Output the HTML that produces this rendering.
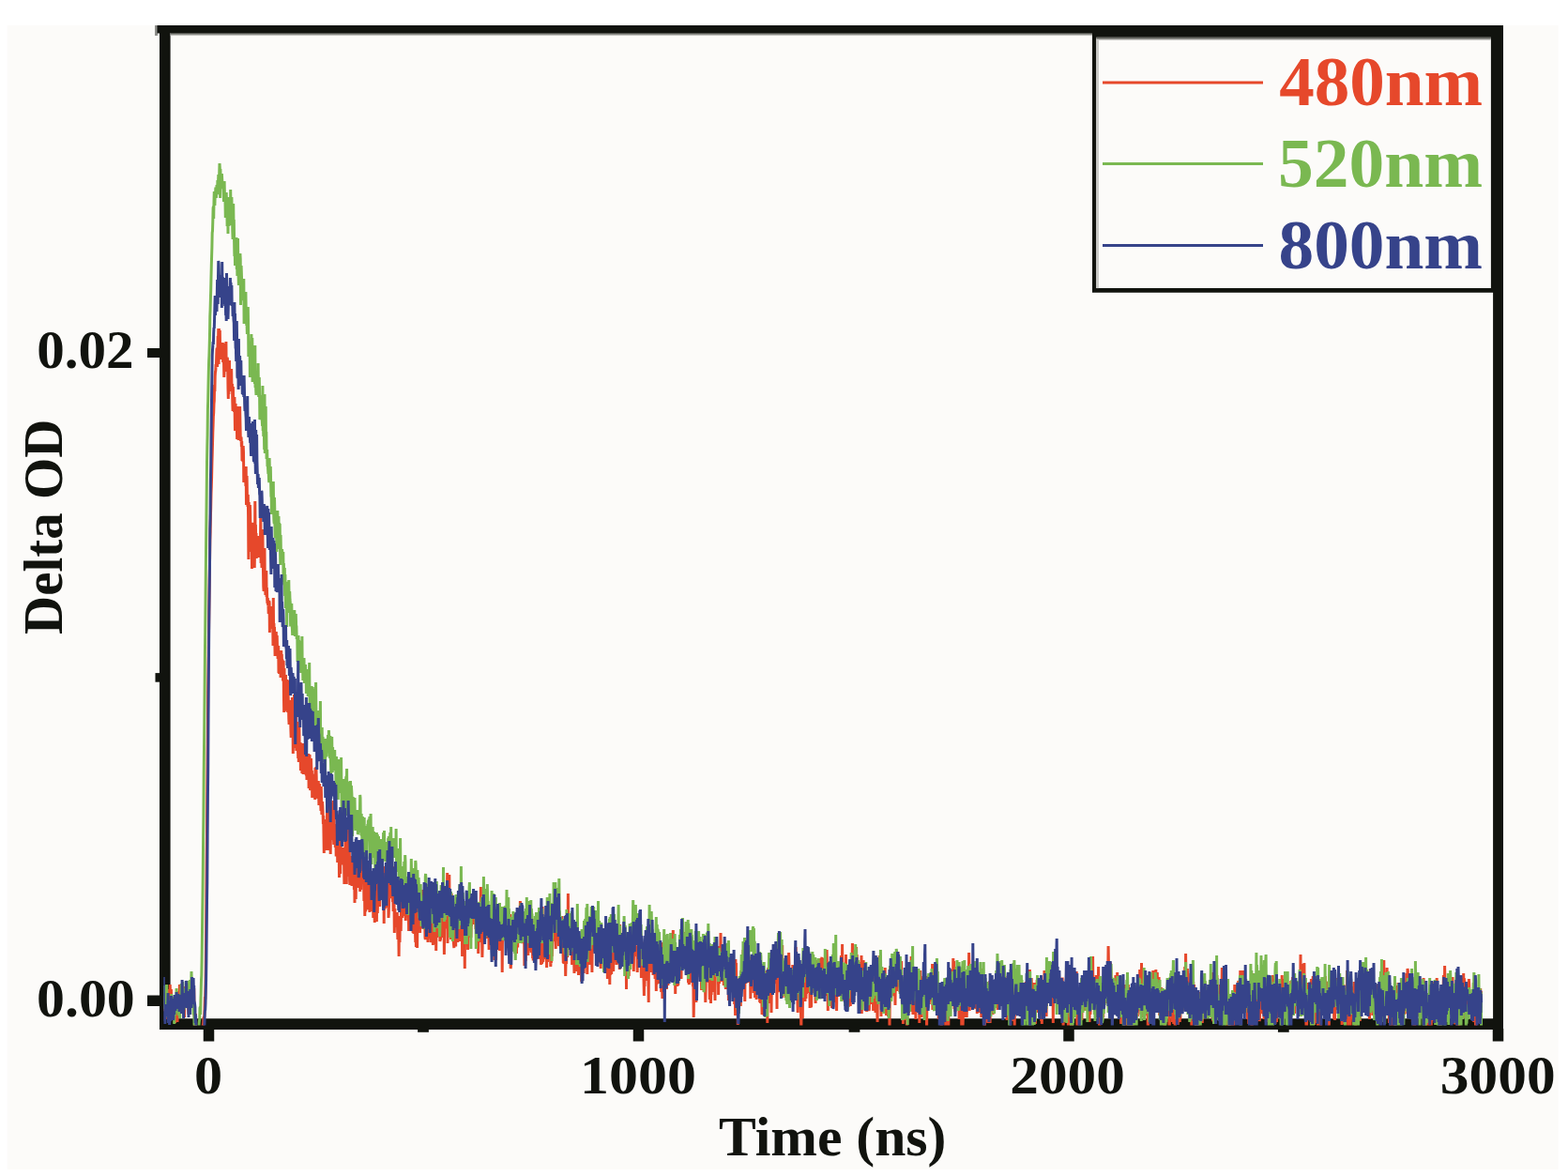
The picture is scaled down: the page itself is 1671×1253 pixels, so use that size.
<!DOCTYPE html><html><head><meta charset="utf-8"><title>Delta OD vs Time</title><style>html,body{margin:0;padding:0;background:#fff;overflow:hidden}svg{display:block}</style></head><body><svg width="1671" height="1253" viewBox="0 0 1671 1253"><rect x="0" y="0" width="1671" height="1253" fill="#ffffff"/><rect x="7.6" y="27" width="1653.1" height="1218.9" fill="#fcfbf9"/><defs><clipPath id="c"><rect x="174.3" y="31" width="1422" height="1061.5"/></clipPath></defs><defs><linearGradient id="sh" x1="0" y1="0" x2="0" y2="1"><stop offset="0" stop-color="#3a3c36"/><stop offset="1" stop-color="#e6e5e2"/></linearGradient></defs><path d="M170,27H1602V1097H170Z M181.6,35V1085.2H1591.1V35Z" fill="#11130e" fill-rule="evenodd"/><rect x="181.6" y="35" width="1409.5" height="3.2" fill="url(#sh)"/><rect x="165" y="27" width="3" height="11" fill="#8d8e8a"/><rect x="167.5" y="27" width="3" height="8.5" fill="#11130e"/><rect x="157" y="371" width="14" height="10" fill="#11130e"/><rect x="157" y="1060.5" width="14" height="11.5" fill="#11130e"/><rect x="165.5" y="717.1" width="5" height="9.6" fill="#11130e"/><rect x="216.75" y="1096" width="11.5" height="13.5" fill="#11130e"/><rect x="674.75" y="1096" width="11.5" height="13.5" fill="#11130e"/><rect x="1133.25" y="1096" width="11.5" height="13.5" fill="#11130e"/><rect x="1590.75" y="1096" width="11.5" height="13.5" fill="#11130e"/><rect x="445.10" y="1096" width="11.8" height="3.8" fill="#11130e"/><rect x="904.60" y="1096" width="11.8" height="3.8" fill="#11130e"/><rect x="1361.90" y="1096" width="11.8" height="3.8" fill="#11130e"/><g clip-path="url(#c)"><polyline points="174.0,1064 174.3,1077 174.6,1076 174.9,1061 175.2,1063 175.5,1062 175.8,1073 176.1,1068 176.4,1077 176.7,1053 177.0,1086 177.3,1071 177.6,1078 177.9,1071 178.2,1068 178.5,1076 178.8,1079 179.1,1069 179.4,1069 179.7,1076 180.0,1061 180.3,1054 180.6,1072 180.9,1061 181.2,1049 181.5,1060 181.8,1063 182.1,1056 182.4,1054 182.7,1068 183.0,1077 183.3,1067 183.6,1063 183.9,1075 184.2,1079 184.5,1070 184.8,1080 185.1,1085 185.4,1075 185.7,1070 186.0,1082 186.3,1081 186.6,1090 186.9,1068 187.2,1074 187.5,1072 187.8,1063 188.1,1080 188.4,1083 188.7,1070 189.0,1089 189.3,1082 189.6,1079 189.9,1075 190.2,1079 190.5,1056 190.8,1073 191.1,1072 191.4,1049 191.7,1068 192.0,1063 192.3,1072 192.6,1061 192.9,1065 193.2,1069 193.5,1059 193.8,1073 194.1,1067 194.4,1073 194.7,1064 195.0,1080 195.3,1075 195.6,1067 195.9,1074 196.2,1080 196.5,1084 196.8,1051 197.1,1073 197.4,1068 197.7,1062 198.0,1053 198.3,1074 198.6,1049 198.9,1066 199.2,1073 199.5,1046 199.8,1058 200.1,1049 200.4,1064 200.7,1076 201.0,1081 201.3,1045 201.6,1056 201.9,1069 202.2,1077 202.5,1066 202.8,1055 203.1,1064 203.4,1061 203.7,1059 204.0,1054 204.3,1064 204.6,1063 204.9,1059 205.2,1057 205.5,1047 205.8,1056 206.1,1074 206.4,1062 206.7,1053 207.0,1082 207.3,1078 207.6,1096 207.9,1081 208.2,1081 208.5,1080 208.8,1103 209.1,1112 209.4,1102 209.7,1106 210.0,1111 210.3,1108 210.6,1110 210.9,1110 211.2,1111 211.5,1113 211.8,1110 212.1,1112 212.4,1107 212.7,1109 213.0,1097 213.3,1100 213.6,1109 213.9,1102 214.2,1107 214.5,1105 214.8,1108 215.1,1105 215.4,1105 215.7,1098 216.0,1094 216.3,1092 216.6,1091 216.9,1085 217.2,1085 217.5,1084 217.8,1082 218.1,1074 218.4,1062 218.7,1065 219.0,1051 219.3,1032 219.6,998 219.9,956 220.2,916 220.5,889 220.8,843 221.1,811 221.4,779 221.7,738 222.0,717 222.3,691 222.6,666 222.9,643 223.2,620 223.5,600 223.8,576 224.1,567 224.4,550 224.7,541 225.0,526 225.3,518 225.6,508 225.9,494 226.2,484 226.5,473 226.8,461 227.1,453 227.4,443 227.7,440 228.0,430 228.3,427 228.6,410 228.9,417 229.2,401 229.5,396 229.8,395 230.1,388 230.4,391 230.7,380 231.0,372 231.3,371 231.6,391 231.9,374 232.2,358 232.5,369 232.8,350 233.1,388 233.4,350 233.7,373 234.0,375 234.3,352 234.6,373 234.9,381 235.2,376 235.5,374 235.8,383 236.1,374 236.4,377 236.7,373 237.0,383 237.3,365 237.6,386 237.9,372 238.2,366 238.5,385 238.8,402 239.1,394 239.4,378 239.7,394 240.0,382 240.3,387 240.6,391 240.9,364 241.2,396 241.5,383 241.8,389 242.1,381 242.4,382 242.7,391 243.0,414 243.3,425 243.6,405 243.9,420 244.2,404 244.5,384 244.8,410 245.1,414 245.4,404 245.7,413 246.0,417 246.3,400 246.6,393 246.9,409 247.2,410 247.5,409 247.8,428 248.1,438 248.4,412 248.7,428 249.0,433 249.3,433 249.6,439 249.9,423 250.2,440 250.5,459 250.8,446 251.1,430 251.4,448 251.7,459 252.0,450 252.3,439 252.6,468 252.9,433 253.2,457 253.5,451 253.8,437 254.1,469 254.4,458 254.7,439 255.0,463 255.3,450 255.6,433 255.9,450 256.2,464 256.5,470 256.8,467 257.1,467 257.4,476 257.7,470 258.0,491 258.3,481 258.6,486 258.9,492 259.2,475 259.5,482 259.8,514 260.1,502 260.4,497 260.7,508 261.0,500 261.3,512 261.6,503 261.9,518 262.2,497 262.5,538 262.8,517 263.1,507 263.4,528 263.7,529 264.0,540 264.3,527 264.6,550 264.9,596 265.2,535 265.5,559 265.8,553 266.1,562 266.4,538 266.7,548 267.0,570 267.3,565 267.6,588 267.9,558 268.2,570 268.5,606 268.8,558 269.1,557 269.4,568 269.7,568 270.0,580 270.3,571 270.6,560 270.9,573 271.2,605 271.5,587 271.8,534 272.1,568 272.4,559 272.7,578 273.0,568 273.3,595 273.6,582 273.9,582 274.2,574 274.5,571 274.8,577 275.1,591 275.4,582 275.7,571 276.0,594 276.3,581 276.6,579 276.9,571 277.2,575 277.5,575 277.8,548 278.1,600 278.4,596 278.7,587 279.0,605 279.3,599 279.6,600 279.9,564 280.2,596 280.5,608 280.8,625 281.1,630 281.4,627 281.7,595 282.0,584 282.3,623 282.6,619 282.9,634 283.2,622 283.5,629 283.8,608 284.1,636 284.4,626 284.7,639 285.0,643 285.3,637 285.6,645 285.9,642 286.2,654 286.5,653 286.8,640 287.1,642 287.4,674 287.7,651 288.0,667 288.3,660 288.6,649 288.9,648 289.2,661 289.5,664 289.8,670 290.1,646 290.4,656 290.7,664 291.0,688 291.3,637 291.6,676 291.9,664 292.2,679 292.5,668 292.8,681 293.1,699 293.4,684 293.7,686 294.0,687 294.3,673 294.6,692 294.9,684 295.2,677 295.5,689 295.8,688 296.1,702 296.4,693 296.7,688 297.0,717 297.3,712 297.6,718 297.9,711 298.2,703 298.5,701 298.8,704 299.1,722 299.4,713 299.7,693 300.0,714 300.3,697 300.6,720 300.9,703 301.2,704 301.5,724 301.8,724 302.1,704 302.4,738 302.7,759 303.0,712 303.3,758 303.6,726 303.9,730 304.2,735 304.5,719 304.8,757 305.1,748 305.4,732 305.7,739 306.0,724 306.3,740 306.6,759 306.9,725 307.2,743 307.5,752 307.8,766 308.1,772 308.4,749 308.7,746 309.0,764 309.3,754 309.6,757 309.9,777 310.2,786 310.5,768 310.8,764 311.1,775 311.4,743 311.7,769 312.0,756 312.3,803 312.6,782 312.9,774 313.2,770 313.5,740 313.8,784 314.1,797 314.4,766 314.7,785 315.0,787 315.3,758 315.6,793 315.9,800 316.2,786 316.5,784 316.8,798 317.1,769 317.4,793 317.7,808 318.0,780 318.3,812 318.6,795 318.9,774 319.2,802 319.5,792 319.8,810 320.1,791 320.4,821 320.7,798 321.0,813 321.3,800 321.6,804 321.9,824 322.2,811 322.5,803 322.8,792 323.1,825 323.4,819 323.7,805 324.0,813 324.3,797 324.6,798 324.9,801 325.2,817 325.5,817 325.8,804 326.1,825 326.4,826 326.7,819 327.0,831 327.3,814 327.6,817 327.9,825 328.2,819 328.5,830 328.8,803 329.1,840 329.4,811 329.7,820 330.0,804 330.3,832 330.6,842 330.9,841 331.2,839 331.5,808 331.8,820 332.1,826 332.4,821 332.7,850 333.0,838 333.3,836 333.6,844 333.9,825 334.2,826 334.5,826 334.8,845 335.1,842 335.4,845 335.7,852 336.0,818 336.3,829 336.6,838 336.9,817 337.2,828 337.5,849 337.8,850 338.1,849 338.4,836 338.7,833 339.0,851 339.3,832 339.6,843 339.9,858 340.2,837 340.5,835 340.8,846 341.1,856 341.4,857 341.7,856 342.0,864 342.3,838 342.6,851 342.9,868 343.2,856 343.5,854 343.8,858 344.1,865 344.4,878 344.7,869 345.0,888 345.3,909 345.6,886 345.9,906 346.2,893 346.5,875 346.8,886 347.1,876 347.4,900 347.7,873 348.0,906 348.3,895 348.6,859 348.9,897 349.2,906 349.5,874 349.8,898 350.1,859 350.4,887 350.7,860 351.0,889 351.3,857 351.6,845 351.9,885 352.2,910 352.5,870 352.8,888 353.1,877 353.4,870 353.7,882 354.0,895 354.3,855 354.6,879 354.9,876 355.2,853 355.5,894 355.8,900 356.1,862 356.4,900 356.7,879 357.0,878 357.3,903 357.6,888 357.9,892 358.2,911 358.5,911 358.8,908 359.1,880 359.4,880 359.7,919 360.0,893 360.3,910 360.6,895 360.9,908 361.2,895 361.5,935 361.8,900 362.1,912 362.4,912 362.7,931 363.0,895 363.3,914 363.6,912 363.9,921 364.2,920 364.5,908 364.8,917 365.1,908 365.4,919 365.7,911 366.0,903 366.3,911 366.6,916 366.9,942 367.2,904 367.5,914 367.8,930 368.1,882 368.4,886 368.7,893 369.0,908 369.3,942 369.6,915 369.9,927 370.2,908 370.5,879 370.8,882 371.1,928 371.4,918 371.7,900 372.0,934 372.3,900 372.6,938 372.9,943 373.2,915 373.5,912 373.8,940 374.1,915 374.4,942 374.7,916 375.0,944 375.3,935 375.6,929 375.9,924 376.2,940 376.5,912 376.8,934 377.1,933 377.4,948 377.7,922 378.0,962 378.3,934 378.6,922 378.9,955 379.2,958 379.5,931 379.8,920 380.1,931 380.4,920 380.7,923 381.0,946 381.3,929 381.6,924 381.9,925 382.2,918 382.5,929 382.8,929 383.1,912 383.4,918 383.7,950 384.0,924 384.3,916 384.6,948 384.9,922 385.2,909 385.5,936 385.8,917 386.1,924 386.4,938 386.7,934 387.0,928 387.3,933 387.6,934 387.9,960 388.2,936 388.5,939 388.8,976 389.1,942 389.4,971 389.7,970 390.0,951 390.3,934 390.6,959 390.9,962 391.2,966 391.5,953 391.8,968 392.1,969 392.4,935 392.7,968 393.0,950 393.3,939 393.6,942 393.9,972 394.2,960 394.5,924 394.8,950 395.1,949 395.4,950 395.7,948 396.0,938 396.3,971 396.6,949 396.9,959 397.2,957 397.5,957 397.8,978 398.1,975 398.4,961 398.7,957 399.0,964 399.3,983 399.6,971 399.9,971 400.2,963 400.5,962 400.8,967 401.1,937 401.4,982 401.7,948 402.0,949 402.3,973 402.6,956 402.9,952 403.2,942 403.5,928 403.8,951 404.1,964 404.4,935 404.7,966 405.0,932 405.3,937 405.6,954 405.9,948 406.2,957 406.5,938 406.8,935 407.1,924 407.4,933 407.7,935 408.0,930 408.3,954 408.6,941 408.9,923 409.2,984 409.5,939 409.8,934 410.1,968 410.4,967 410.7,936 411.0,932 411.3,938 411.6,967 411.9,948 412.2,941 412.5,951 412.8,967 413.1,932 413.4,945 413.7,931 414.0,978 414.3,973 414.6,960 414.9,945 415.2,955 415.5,917 415.8,949 416.1,927 416.4,928 416.7,936 417.0,942 417.3,955 417.6,957 417.9,952 418.2,937 418.5,961 418.8,952 419.1,971 419.4,945 419.7,923 420.0,956 420.3,994 420.6,974 420.9,968 421.2,985 421.5,983 421.8,985 422.1,974 422.4,984 422.7,988 423.0,978 423.3,972 423.6,990 423.9,1001 424.2,996 424.5,994 424.8,992 425.1,1019 425.4,986 425.7,994 426.0,1004 426.3,976 426.6,977 426.9,985 427.2,992 427.5,971 427.8,971 428.1,966 428.4,947 428.7,978 429.0,959 429.3,939 429.6,960 429.9,939 430.2,948 430.5,962 430.8,949 431.1,976 431.4,941 431.7,965 432.0,969 432.3,981 432.6,973 432.9,964 433.2,962 433.5,961 433.8,977 434.1,953 434.4,969 434.7,961 435.0,966 435.3,959 435.6,992 435.9,954 436.2,967 436.5,967 436.8,972 437.1,971 437.4,972 437.7,980 438.0,948 438.3,969 438.6,953 438.9,974 439.2,956 439.5,960 439.8,973 440.1,994 440.4,983 440.7,980 441.0,995 441.3,963 441.6,948 441.9,970 442.2,972 442.5,992 442.8,1004 443.1,958 443.4,1009 443.7,997 444.0,988 444.3,982 444.6,1010 444.9,979 445.2,971 445.5,980 445.8,960 446.1,985 446.4,977 446.7,982 447.0,982 447.3,963 447.6,994 447.9,962 448.2,988 448.5,954 448.8,980 449.1,965 449.4,977 449.7,968 450.0,948 450.3,964 450.6,981 450.9,990 451.2,963 451.5,955 451.8,973 452.1,983 452.4,978 452.7,977 453.0,999 453.3,1001 453.6,998 453.9,975 454.2,988 454.5,984 454.8,967 455.1,998 455.4,987 455.7,978 456.0,1004 456.3,994 456.6,995 456.9,1000 457.2,993 457.5,966 457.8,978 458.1,997 458.4,973 458.7,984 459.0,989 459.3,1004 459.6,1003 459.9,998 460.2,984 460.5,1000 460.8,995 461.1,986 461.4,1007 461.7,996 462.0,979 462.3,1006 462.6,985 462.9,996 463.2,966 463.5,986 463.8,973 464.1,972 464.4,959 464.7,1013 465.0,982 465.3,987 465.6,999 465.9,983 466.2,992 466.5,967 466.8,989 467.1,982 467.4,995 467.7,992 468.0,971 468.3,966 468.6,978 468.9,1003 469.2,1000 469.5,1000 469.8,968 470.1,959 470.4,987 470.7,991 471.0,987 471.3,999 471.6,991 471.9,976 472.2,979 472.5,992 472.8,990 473.1,987 473.4,1017 473.7,982 474.0,986 474.3,970 474.6,977 474.9,988 475.2,988 475.5,977 475.8,983 476.1,977 476.4,950 476.7,930 477.0,1005 477.3,984 477.6,971 477.9,947 478.2,953 478.5,988 478.8,932 479.1,965 479.4,980 479.7,971 480.0,979 480.3,967 480.6,1001 480.9,956 481.2,952 481.5,975 481.8,992 482.1,974 482.4,990 482.7,971 483.0,965 483.3,1002 483.6,1007 483.9,1010 484.2,986 484.5,978 484.8,980 485.1,995 485.4,1007 485.7,1007 486.0,981 486.3,1003 486.6,1000 486.9,1001 487.2,998 487.5,995 487.8,1004 488.1,997 488.4,997 488.7,984 489.0,998 489.3,990 489.6,962 489.9,997 490.2,987 490.5,1003 490.8,988 491.1,990 491.4,994 491.7,992 492.0,987 492.3,969 492.6,1019 492.9,974 493.2,991 493.5,1005 493.8,1001 494.1,1004 494.4,1006 494.7,1012 495.0,998 495.3,1032 495.6,978 495.9,994 496.2,984 496.5,981 496.8,991 497.1,1006 497.4,976 497.7,976 498.0,995 498.3,992 498.6,1012 498.9,999 499.2,988 499.5,980 499.8,987 500.1,981 500.4,964 500.7,982 501.0,978 501.3,976 501.6,972 501.9,999 502.2,985 502.5,987 502.8,965 503.1,959 503.4,969 503.7,976 504.0,967 504.3,970 504.6,985 504.9,977 505.2,960 505.5,968 505.8,966 506.1,978 506.4,961 506.7,977 507.0,990 507.3,983 507.6,973 507.9,979 508.2,992 508.5,999 508.8,1005 509.1,993 509.4,978 509.7,1016 510.0,1000 510.3,1001 510.6,999 510.9,980 511.2,988 511.5,994 511.8,1004 512.1,989 512.4,945 512.7,984 513.0,991 513.3,1003 513.6,996 513.9,1020 514.2,1006 514.5,1005 514.8,1001 515.1,970 515.4,1001 515.7,998 516.0,984 516.3,999 516.6,998 516.9,986 517.2,991 517.5,989 517.8,996 518.1,987 518.4,1000 518.7,966 519.0,988 519.3,969 519.6,984 519.9,998 520.2,991 520.5,989 520.8,991 521.1,1012 521.4,976 521.7,1003 522.0,971 522.3,985 522.6,994 522.9,981 523.2,995 523.5,1003 523.8,977 524.1,992 524.4,988 524.7,968 525.0,992 525.3,984 525.6,1013 525.9,983 526.2,1018 526.5,989 526.8,1023 527.1,1004 527.4,1004 527.7,1009 528.0,1011 528.3,1018 528.6,1023 528.9,996 529.2,984 529.5,965 529.8,997 530.1,1012 530.4,1007 530.7,1004 531.0,998 531.3,994 531.6,999 531.9,1008 532.2,979 532.5,1013 532.8,983 533.1,1001 533.4,995 533.7,998 534.0,989 534.3,988 534.6,1000 534.9,989 535.2,1036 535.5,997 535.8,993 536.1,993 536.4,985 536.7,966 537.0,995 537.3,1002 537.6,977 537.9,996 538.2,980 538.5,995 538.8,1000 539.1,1002 539.4,1002 539.7,986 540.0,1008 540.3,990 540.6,1002 540.9,1007 541.2,994 541.5,981 541.8,1008 542.1,985 542.4,989 542.7,987 543.0,1014 543.3,1001 543.6,974 543.9,1014 544.2,1032 544.5,1029 544.8,996 545.1,1005 545.4,1010 545.7,1014 546.0,1002 546.3,986 546.6,1010 546.9,1007 547.2,980 547.5,992 547.8,1000 548.1,995 548.4,1001 548.7,1004 549.0,1000 549.3,990 549.6,973 549.9,999 550.2,1009 550.5,1016 550.8,989 551.1,988 551.4,1008 551.7,1008 552.0,993 552.3,998 552.6,978 552.9,996 553.2,977 553.5,986 553.8,987 554.1,982 554.4,960 554.7,978 555.0,994 555.3,989 555.6,985 555.9,997 556.2,1002 556.5,1005 556.8,984 557.1,996 557.4,992 557.7,986 558.0,978 558.3,998 558.6,988 558.9,1029 559.2,999 559.5,997 559.8,994 560.1,1024 560.4,986 560.7,996 561.0,987 561.3,995 561.6,996 561.9,1011 562.2,977 562.5,996 562.8,1018 563.1,989 563.4,993 563.7,984 564.0,961 564.3,995 564.6,1013 564.9,991 565.2,974 565.5,1003 565.8,1001 566.1,1015 566.4,1014 566.7,999 567.0,1009 567.3,981 567.6,1021 567.9,1009 568.2,1022 568.5,1022 568.8,1004 569.1,1005 569.4,995 569.7,979 570.0,1005 570.3,1008 570.6,991 570.9,1015 571.2,1007 571.5,1012 571.8,995 572.1,982 572.4,1017 572.7,1015 573.0,1006 573.3,1003 573.6,1005 573.9,1008 574.2,1004 574.5,984 574.8,1022 575.1,992 575.4,1008 575.7,1008 576.0,1016 576.3,990 576.6,1028 576.9,1020 577.2,1021 577.5,1027 577.8,999 578.1,966 578.4,1012 578.7,1025 579.0,1022 579.3,998 579.6,1003 579.9,1007 580.2,978 580.5,993 580.8,993 581.1,1022 581.4,992 581.7,1022 582.0,1000 582.3,978 582.6,1031 582.9,988 583.2,1010 583.5,1025 583.8,996 584.1,987 584.4,1019 584.7,1007 585.0,990 585.3,993 585.6,1003 585.9,1021 586.2,1004 586.5,1017 586.8,1030 587.1,1024 587.4,1026 587.7,1022 588.0,982 588.3,1019 588.6,1006 588.9,998 589.2,984 589.5,976 589.8,982 590.1,995 590.4,979 590.7,983 591.0,986 591.3,1003 591.6,990 591.9,992 592.2,1011 592.5,989 592.8,1002 593.1,979 593.4,998 593.7,995 594.0,996 594.3,988 594.6,980 594.9,990 595.2,988 595.5,1008 595.8,1007 596.1,979 596.4,1004 596.7,989 597.0,1003 597.3,991 597.6,978 597.9,1012 598.2,1005 598.5,984 598.8,976 599.1,995 599.4,987 599.7,999 600.0,1014 600.3,1026 600.6,1002 600.9,1027 601.2,1024 601.5,1003 601.8,987 602.1,1021 602.4,1017 602.7,1040 603.0,1026 603.3,1016 603.6,1027 603.9,988 604.2,1003 604.5,995 604.8,1020 605.1,1002 605.4,952 605.7,1010 606.0,978 606.3,1000 606.6,983 606.9,992 607.2,998 607.5,992 607.8,978 608.1,1011 608.4,999 608.7,995 609.0,1007 609.3,993 609.6,1028 609.9,1008 610.2,1013 610.5,1015 610.8,1000 611.1,999 611.4,1019 611.7,1023 612.0,1037 612.3,1026 612.6,1006 612.9,1028 613.2,1032 613.5,1034 613.8,1025 614.1,1003 614.4,1035 614.7,1008 615.0,1025 615.3,996 615.6,1026 615.9,1005 616.2,1030 616.5,1039 616.8,1031 617.1,999 617.4,1003 617.7,1004 618.0,1026 618.3,1023 618.6,1021 618.9,1024 619.2,1029 619.5,1031 619.8,1046 620.1,1024 620.4,1028 620.7,1000 621.0,1007 621.3,1016 621.6,1008 621.9,1027 622.2,1037 622.5,1016 622.8,1014 623.1,1013 623.4,1020 623.7,1010 624.0,1023 624.3,1020 624.6,1020 624.9,1025 625.2,1015 625.5,1017 625.8,1038 626.1,1014 626.4,1026 626.7,1016 627.0,1009 627.3,1009 627.6,1004 627.9,1015 628.2,1006 628.5,1007 628.8,1028 629.1,1009 629.4,1024 629.7,1011 630.0,1017 630.3,995 630.6,1004 630.9,1036 631.2,1010 631.5,1012 631.8,1001 632.1,1010 632.4,983 632.7,988 633.0,1007 633.3,1014 633.6,999 633.9,1005 634.2,1005 634.5,1009 634.8,998 635.1,997 635.4,1017 635.7,996 636.0,1008 636.3,1013 636.6,1008 636.9,1026 637.2,1016 637.5,1020 637.8,1007 638.1,1009 638.4,1024 638.7,1021 639.0,1008 639.3,1018 639.6,1014 639.9,1013 640.2,1032 640.5,1005 640.8,1016 641.1,1016 641.4,1008 641.7,996 642.0,1022 642.3,1017 642.6,1015 642.9,1015 643.2,1016 643.5,1004 643.8,1021 644.1,993 644.4,1018 644.7,999 645.0,1015 645.3,1030 645.6,1017 645.9,1015 646.2,1029 646.5,1018 646.8,1017 647.1,1017 647.4,1043 647.7,1032 648.0,1029 648.3,1007 648.6,1031 648.9,1005 649.2,1029 649.5,1008 649.8,1049 650.1,1000 650.4,1039 650.7,1032 651.0,997 651.3,1017 651.6,1038 651.9,1033 652.2,994 652.5,1008 652.8,998 653.1,999 653.4,1003 653.7,1035 654.0,1011 654.3,1006 654.6,1003 654.9,1016 655.2,1016 655.5,994 655.8,1025 656.1,991 656.4,1001 656.7,1011 657.0,1028 657.3,1000 657.6,1009 657.9,1024 658.2,1015 658.5,1023 658.8,1022 659.1,1012 659.4,1018 659.7,1023 660.0,1011 660.3,1033 660.6,985 660.9,999 661.2,1031 661.5,1018 661.8,1003 662.1,1016 662.4,1026 662.7,1003 663.0,1021 663.3,1008 663.6,1008 663.9,1009 664.2,1025 664.5,995 664.8,1006 665.1,1020 665.4,995 665.7,991 666.0,1020 666.3,1013 666.6,1011 666.9,1016 667.2,1001 667.5,1054 667.8,1001 668.1,1009 668.4,996 668.7,1010 669.0,1036 669.3,1016 669.6,1023 669.9,1009 670.2,1040 670.5,1018 670.8,999 671.1,1026 671.4,1010 671.7,1023 672.0,1017 672.3,1018 672.6,1016 672.9,1002 673.2,993 673.5,1027 673.8,1012 674.1,1018 674.4,1008 674.7,988 675.0,998 675.3,1035 675.6,1006 675.9,1012 676.2,998 676.5,1011 676.8,1013 677.1,1015 677.4,1017 677.7,1009 678.0,1009 678.3,1016 678.6,1019 678.9,1012 679.2,1036 679.5,1015 679.8,1014 680.1,1002 680.4,1025 680.7,997 681.0,989 681.3,998 681.6,1020 681.9,997 682.2,1031 682.5,1014 682.8,995 683.1,1014 683.4,1042 683.7,1008 684.0,1003 684.3,1029 684.6,1042 684.9,1039 685.2,1023 685.5,1031 685.8,1034 686.1,1047 686.4,1061 686.7,1032 687.0,1051 687.3,1030 687.6,1043 687.9,1022 688.2,1025 688.5,1040 688.8,1022 689.1,1045 689.4,1025 689.7,1033 690.0,1029 690.3,1025 690.6,1030 690.9,1042 691.2,1068 691.5,1009 691.8,1028 692.1,1020 692.4,1009 692.7,1025 693.0,1008 693.3,1018 693.6,1036 693.9,991 694.2,1022 694.5,1024 694.8,1006 695.1,1026 695.4,1025 695.7,1016 696.0,1039 696.3,1006 696.6,1034 696.9,1024 697.2,1014 697.5,1027 697.8,1026 698.1,1043 698.4,1013 698.7,1031 699.0,1028 699.3,1056 699.6,1020 699.9,1049 700.2,1011 700.5,1039 700.8,1032 701.1,1038 701.4,1023 701.7,1005 702.0,1010 702.3,1048 702.6,1033 702.9,1018 703.2,1041 703.5,1019 703.8,1019 704.1,1013 704.4,1045 704.7,1057 705.0,1018 705.3,1036 705.6,1047 705.9,1064 706.2,1004 706.5,1040 706.8,1048 707.1,1020 707.4,1046 707.7,1044 708.0,1051 708.3,1033 708.6,1046 708.9,1031 709.2,1046 709.5,1039 709.8,1030 710.1,1014 710.4,1054 710.7,1046 711.0,1041 711.3,1019 711.6,1023 711.9,1050 712.2,1037 712.5,1015 712.8,1027 713.1,1028 713.4,1023 713.7,1013 714.0,1043 714.3,1034 714.6,1023 714.9,1005 715.2,1018 715.5,1026 715.8,1039 716.1,1022 716.4,1043 716.7,1030 717.0,1019 717.3,991 717.6,1013 717.9,1009 718.2,1027 718.5,1034 718.8,1047 719.1,1028 719.4,1012 719.7,1059 720.0,1031 720.3,1023 720.6,1023 720.9,1009 721.2,1036 721.5,1034 721.8,1051 722.1,1046 722.4,1044 722.7,1050 723.0,1030 723.3,1029 723.6,1034 723.9,1018 724.2,1032 724.5,1029 724.8,1041 725.1,1030 725.4,1002 725.7,1026 726.0,1043 726.3,997 726.6,1010 726.9,1018 727.2,999 727.5,1008 727.8,1015 728.1,995 728.4,1016 728.7,1016 729.0,993 729.3,1010 729.6,1024 729.9,1007 730.2,1015 730.5,1019 730.8,1008 731.1,1026 731.4,1019 731.7,1003 732.0,1025 732.3,1032 732.6,1033 732.9,1016 733.2,1033 733.5,1047 733.8,1033 734.1,1047 734.4,1049 734.7,1031 735.0,1041 735.3,1028 735.6,1047 735.9,1031 736.2,1025 736.5,1033 736.8,1033 737.1,1041 737.4,1043 737.7,1023 738.0,1032 738.3,1048 738.6,1051 738.9,1048 739.2,1084 739.5,1065 739.8,1049 740.1,1060 740.4,1068 740.7,1054 741.0,1023 741.3,1046 741.6,1043 741.9,1068 742.2,1012 742.5,1054 742.8,1028 743.1,1041 743.4,1022 743.7,1026 744.0,1038 744.3,1023 744.6,1035 744.9,1020 745.2,1016 745.5,1020 745.8,1017 746.1,1024 746.4,1045 746.7,1012 747.0,1007 747.3,1031 747.6,1055 747.9,1048 748.2,1053 748.5,1052 748.8,1026 749.1,1038 749.4,1001 749.7,1029 750.0,1045 750.3,1016 750.6,1009 750.9,1018 751.2,1038 751.5,1050 751.8,1068 752.1,1051 752.4,1010 752.7,998 753.0,1031 753.3,1043 753.6,1006 753.9,1021 754.2,1022 754.5,1030 754.8,1028 755.1,1038 755.4,1047 755.7,1035 756.0,1046 756.3,1065 756.6,1026 756.9,1027 757.2,1049 757.5,1069 757.8,1047 758.1,1060 758.4,1041 758.7,1057 759.0,1036 759.3,1052 759.6,1047 759.9,1045 760.2,1057 760.5,1051 760.8,1027 761.1,1045 761.4,1008 761.7,1043 762.0,1066 762.3,1035 762.6,1034 762.9,1028 763.2,1038 763.5,1021 763.8,1037 764.1,1025 764.4,1023 764.7,1032 765.0,1030 765.3,1008 765.6,1060 765.9,1035 766.2,1010 766.5,1048 766.8,1033 767.1,1037 767.4,1043 767.7,1022 768.0,994 768.3,1032 768.6,1036 768.9,1046 769.2,1021 769.5,1027 769.8,1035 770.1,1025 770.4,1025 770.7,1032 771.0,1015 771.3,1050 771.6,1016 771.9,1030 772.2,1025 772.5,1021 772.8,1039 773.1,1047 773.4,1054 773.7,1044 774.0,1031 774.3,1050 774.6,1020 774.9,1042 775.2,1049 775.5,1050 775.8,1027 776.1,1023 776.4,1066 776.7,1037 777.0,1021 777.3,1026 777.6,1043 777.9,1058 778.2,1042 778.5,1057 778.8,1044 779.1,1047 779.4,1054 779.7,1036 780.0,1046 780.3,1038 780.6,1035 780.9,1054 781.2,1036 781.5,1050 781.8,1040 782.1,1051 782.4,1046 782.7,1070 783.0,1058 783.3,1059 783.6,1082 783.9,1022 784.2,1047 784.5,1026 784.8,1064 785.1,1071 785.4,1075 785.7,1071 786.0,1056 786.3,1092 786.6,1073 786.9,1065 787.2,1053 787.5,1073 787.8,1060 788.1,1059 788.4,1065 788.7,1063 789.0,1047 789.3,1072 789.6,1039 789.9,1034 790.2,1051 790.5,1046 790.8,1043 791.1,1034 791.4,1038 791.7,1028 792.0,1012 792.3,1043 792.6,1018 792.9,1028 793.2,1041 793.5,1030 793.8,1067 794.1,1011 794.4,1019 794.7,1031 795.0,1048 795.3,1027 795.6,1012 795.9,1047 796.2,1020 796.5,1031 796.8,1047 797.1,1027 797.4,1031 797.7,1044 798.0,1036 798.3,1043 798.6,1027 798.9,1038 799.2,1025 799.5,1019 799.8,1064 800.1,1047 800.4,1053 800.7,1028 801.0,1041 801.3,1039 801.6,1023 801.9,1050 802.2,1033 802.5,1041 802.8,1024 803.1,1058 803.4,1055 803.7,1051 804.0,1034 804.3,1039 804.6,1063 804.9,1042 805.2,1050 805.5,1048 805.8,1030 806.1,1065 806.4,1017 806.7,1047 807.0,1042 807.3,1021 807.6,1047 807.9,1049 808.2,1043 808.5,1031 808.8,1048 809.1,1058 809.4,1047 809.7,1068 810.0,1058 810.3,1058 810.6,1069 810.9,1043 811.2,1047 811.5,1063 811.8,1065 812.1,1081 812.4,1078 812.7,1067 813.0,1069 813.3,1064 813.6,1063 813.9,1063 814.2,1082 814.5,1063 814.8,1064 815.1,1070 815.4,1060 815.7,1063 816.0,1035 816.3,1069 816.6,1058 816.9,1064 817.2,1065 817.5,1034 817.8,1090 818.1,1059 818.4,1058 818.7,1031 819.0,1063 819.3,1060 819.6,1049 819.9,1056 820.2,1069 820.5,1047 820.8,1039 821.1,1068 821.4,1053 821.7,1046 822.0,1079 822.3,1049 822.6,1044 822.9,1049 823.2,1040 823.5,1047 823.8,1045 824.1,1034 824.4,1038 824.7,1045 825.0,1044 825.3,1046 825.6,1048 825.9,1039 826.2,1042 826.5,1029 826.8,1030 827.1,1046 827.4,1005 827.7,1037 828.0,1075 828.3,1007 828.6,1053 828.9,1010 829.2,1039 829.5,1057 829.8,1055 830.1,1024 830.4,1019 830.7,1018 831.0,1048 831.3,1034 831.6,1040 831.9,1044 832.2,1047 832.5,1049 832.8,1044 833.1,1021 833.4,1063 833.7,1007 834.0,1061 834.3,1037 834.6,1042 834.9,1038 835.2,1040 835.5,1044 835.8,1041 836.1,1030 836.4,1056 836.7,1037 837.0,1063 837.3,1043 837.6,1036 837.9,1052 838.2,1058 838.5,1034 838.8,1044 839.1,1067 839.4,1035 839.7,1037 840.0,1051 840.3,1032 840.6,1015 840.9,1026 841.2,1053 841.5,1057 841.8,1056 842.1,1053 842.4,1031 842.7,1057 843.0,1064 843.3,1039 843.6,1061 843.9,1044 844.2,1051 844.5,1053 844.8,1028 845.1,1068 845.4,1036 845.7,1046 846.0,1040 846.3,1053 846.6,1053 846.9,1047 847.2,1066 847.5,1051 847.8,1042 848.1,1009 848.4,1045 848.7,1045 849.0,1038 849.3,1039 849.6,1059 849.9,1066 850.2,1079 850.5,1069 850.8,1045 851.1,1059 851.4,1038 851.7,1067 852.0,1062 852.3,1050 852.6,1057 852.9,1056 853.2,1051 853.5,1077 853.8,1101 854.1,1070 854.4,1072 854.7,1059 855.0,1052 855.3,1085 855.6,1050 855.9,1059 856.2,1051 856.5,1060 856.8,1050 857.1,1058 857.4,1032 857.7,1047 858.0,1067 858.3,1033 858.6,1038 858.9,1064 859.2,1051 859.5,1059 859.8,1014 860.1,1045 860.4,1026 860.7,1024 861.0,1048 861.3,1058 861.6,1022 861.9,1028 862.2,1035 862.5,1041 862.8,1025 863.1,1074 863.4,1051 863.7,1038 864.0,1035 864.3,1073 864.6,1072 864.9,1034 865.2,1045 865.5,1057 865.8,1023 866.1,1031 866.4,1058 866.7,1030 867.0,1034 867.3,1022 867.6,1031 867.9,1051 868.2,1032 868.5,1026 868.8,1036 869.1,1069 869.4,1048 869.7,1039 870.0,1049 870.3,1053 870.6,1049 870.9,1023 871.2,1051 871.5,1044 871.8,1058 872.1,1028 872.4,1060 872.7,1038 873.0,1021 873.3,1062 873.6,1037 873.9,1049 874.2,1042 874.5,1059 874.8,1059 875.1,1059 875.4,1053 875.7,1021 876.0,1020 876.3,1045 876.6,1029 876.9,1048 877.2,1043 877.5,1021 877.8,1025 878.1,1024 878.4,1026 878.7,1035 879.0,1047 879.3,1057 879.6,1026 879.9,1032 880.2,1061 880.5,1054 880.8,1046 881.1,1012 881.4,1032 881.7,1049 882.0,1041 882.3,1077 882.6,1053 882.9,1057 883.2,1039 883.5,1040 883.8,1046 884.1,1047 884.4,1052 884.7,1060 885.0,1058 885.3,1068 885.6,1036 885.9,1057 886.2,1057 886.5,1074 886.8,1049 887.1,1055 887.4,1039 887.7,1055 888.0,1053 888.3,1038 888.6,1039 888.9,1044 889.2,1051 889.5,1027 889.8,1054 890.1,1037 890.4,1068 890.7,1062 891.0,1037 891.3,1034 891.6,1077 891.9,1053 892.2,1052 892.5,1040 892.8,1044 893.1,1057 893.4,1054 893.7,1035 894.0,1062 894.3,1049 894.6,1031 894.9,1057 895.2,1040 895.5,1053 895.8,1034 896.1,1046 896.4,1018 896.7,1045 897.0,1020 897.3,1043 897.6,1006 897.9,1040 898.2,1051 898.5,1048 898.8,1059 899.1,1028 899.4,1065 899.7,1066 900.0,1029 900.3,1035 900.6,1040 900.9,1048 901.2,1052 901.5,1017 901.8,1060 902.1,1050 902.4,1041 902.7,1069 903.0,1052 903.3,1073 903.6,1065 903.9,1053 904.2,1073 904.5,1068 904.8,1049 905.1,1033 905.4,1046 905.7,1060 906.0,1047 906.3,1072 906.6,1050 906.9,1047 907.2,1048 907.5,1029 907.8,1038 908.1,1029 908.4,1005 908.7,1012 909.0,1045 909.3,1029 909.6,1033 909.9,1014 910.2,1026 910.5,1044 910.8,1034 911.1,1026 911.4,1053 911.7,1032 912.0,1027 912.3,1048 912.6,1009 912.9,1040 913.2,1017 913.5,1022 913.8,1024 914.1,1036 914.4,1036 914.7,1039 915.0,1039 915.3,1056 915.6,1060 915.9,1048 916.2,1049 916.5,1034 916.8,1025 917.1,1049 917.4,1042 917.7,1053 918.0,1018 918.3,1080 918.6,1027 918.9,1046 919.2,1060 919.5,1029 919.8,1041 920.1,1023 920.4,1032 920.7,1027 921.0,1056 921.3,1059 921.6,1052 921.9,1075 922.2,1077 922.5,1059 922.8,1056 923.1,1056 923.4,1054 923.7,1078 924.0,1063 924.3,1055 924.6,1056 924.9,1067 925.2,1054 925.5,1063 925.8,1058 926.1,1077 926.4,1075 926.7,1040 927.0,1057 927.3,1069 927.6,1053 927.9,1070 928.2,1063 928.5,1066 928.8,1057 929.1,1061 929.4,1064 929.7,1036 930.0,1043 930.3,1041 930.6,1077 930.9,1058 931.2,1059 931.5,1056 931.8,1047 932.1,1045 932.4,1067 932.7,1051 933.0,1079 933.3,1060 933.6,1060 933.9,1056 934.2,1058 934.5,1059 934.8,1079 935.1,1089 935.4,1041 935.7,1059 936.0,1064 936.3,1041 936.6,1044 936.9,1045 937.2,1018 937.5,1059 937.8,1050 938.1,1049 938.4,1052 938.7,1055 939.0,1083 939.3,1055 939.6,1065 939.9,1047 940.2,1060 940.5,1052 940.8,1055 941.1,1046 941.4,1048 941.7,1067 942.0,1072 942.3,1069 942.6,1055 942.9,1069 943.2,1031 943.5,1078 943.8,1065 944.1,1070 944.4,1082 944.7,1060 945.0,1078 945.3,1059 945.6,1072 945.9,1058 946.2,1068 946.5,1083 946.8,1054 947.1,1054 947.4,1058 947.7,1065 948.0,1098 948.3,1052 948.6,1031 948.9,1049 949.2,1035 949.5,1047 949.8,1053 950.1,1039 950.4,1041 950.7,1023 951.0,1050 951.3,1037 951.6,1061 951.9,1060 952.2,1033 952.5,1040 952.8,1046 953.1,1056 953.4,1023 953.7,1045 954.0,1071 954.3,1044 954.6,1048 954.9,1044 955.2,1027 955.5,1056 955.8,1046 956.1,1043 956.4,1050 956.7,1050 957.0,1014 957.3,1046 957.6,1032 957.9,1042 958.2,1032 958.5,1031 958.8,1057 959.1,1046 959.4,1044 959.7,1046 960.0,1053 960.3,1054 960.6,1024 960.9,1046 961.2,1057 961.5,1072 961.8,1082 962.1,1052 962.4,1091 962.7,1067 963.0,1073 963.3,1059 963.6,1058 963.9,1085 964.2,1062 964.5,1064 964.8,1080 965.1,1087 965.4,1043 965.7,1061 966.0,1063 966.3,1088 966.6,1097 966.9,1063 967.2,1070 967.5,1077 967.8,1081 968.1,1062 968.4,1079 968.7,1058 969.0,1031 969.3,1049 969.6,1071 969.9,1078 970.2,1036 970.5,1042 970.8,1065 971.1,1019 971.4,1072 971.7,1077 972.0,1022 972.3,1073 972.6,1060 972.9,1081 973.2,1066 973.5,1059 973.8,1064 974.1,1075 974.4,1065 974.7,1063 975.0,1043 975.3,1069 975.6,1062 975.9,1086 976.2,1060 976.5,1058 976.8,1050 977.1,1067 977.4,1054 977.7,1046 978.0,1076 978.3,1078 978.6,1047 978.9,1039 979.2,1068 979.5,1041 979.8,1090 980.1,1050 980.4,1065 980.7,1034 981.0,1051 981.3,1067 981.6,1058 981.9,1044 982.2,1084 982.5,1061 982.8,1048 983.1,1042 983.4,1047 983.7,1069 984.0,1040 984.3,1051 984.6,1040 984.9,1069 985.2,1050 985.5,1065 985.8,1062 986.1,1047 986.4,1065 986.7,1069 987.0,1041 987.3,1067 987.6,1106 987.9,1054 988.2,1067 988.5,1040 988.8,1064 989.1,1049 989.4,1067 989.7,1055 990.0,1039 990.3,1070 990.6,1051 990.9,1040 991.2,1054 991.5,1040 991.8,1058 992.1,1052 992.4,1048 992.7,1062 993.0,1036 993.3,1067 993.6,1027 993.9,1076 994.2,1057 994.5,1052 994.8,1045 995.1,1063 995.4,1054 995.7,1054 996.0,1070 996.3,1051 996.6,1054 996.9,1063 997.2,1072 997.5,1056 997.8,1061 998.1,1060 998.4,1070 998.7,1081 999.0,1049 999.3,1060 999.6,1062 999.9,1072 1000.2,1086 1000.5,1066 1000.8,1071 1001.1,1085 1001.4,1053 1001.7,1061 1002.0,1067 1002.3,1074 1002.6,1078 1002.9,1068 1003.2,1100 1003.5,1066 1003.8,1073 1004.1,1091 1004.4,1086 1004.7,1075 1005.0,1080 1005.3,1086 1005.6,1075 1005.9,1084 1006.2,1063 1006.5,1077 1006.8,1054 1007.1,1065 1007.4,1063 1007.7,1096 1008.0,1074 1008.3,1085 1008.6,1068 1008.9,1078 1009.2,1077 1009.5,1069 1009.8,1091 1010.1,1056 1010.4,1085 1010.7,1112 1011.0,1062 1011.3,1071 1011.6,1047 1011.9,1066 1012.2,1041 1012.5,1071 1012.8,1053 1013.1,1033 1013.4,1039 1013.7,1033 1014.0,1050 1014.3,1065 1014.6,1047 1014.9,1036 1015.2,1041 1015.5,1055 1015.8,1021 1016.1,1063 1016.4,1062 1016.7,1024 1017.0,1075 1017.3,1038 1017.6,1058 1017.9,1078 1018.2,1040 1018.5,1038 1018.8,1049 1019.1,1049 1019.4,1063 1019.7,1057 1020.0,1058 1020.3,1057 1020.6,1061 1020.9,1052 1021.2,1067 1021.5,1062 1021.8,1048 1022.1,1086 1022.4,1043 1022.7,1070 1023.0,1049 1023.3,1064 1023.6,1066 1023.9,1071 1024.2,1078 1024.5,1047 1024.8,1099 1025.1,1066 1025.4,1050 1025.7,1043 1026.0,1095 1026.3,1086 1026.6,1064 1026.9,1076 1027.2,1084 1027.5,1068 1027.8,1062 1028.1,1068 1028.4,1080 1028.7,1069 1029.0,1052 1029.3,1079 1029.6,1044 1029.9,1057 1030.2,1084 1030.5,1069 1030.8,1068 1031.1,1065 1031.4,1077 1031.7,1060 1032.0,1033 1032.3,1062 1032.6,1015 1032.9,1028 1033.2,1077 1033.5,1069 1033.8,1047 1034.1,1052 1034.4,1054 1034.7,1066 1035.0,1042 1035.3,1041 1035.6,1045 1035.9,1056 1036.2,1058 1036.5,1050 1036.8,1066 1037.1,1042 1037.4,1056 1037.7,1048 1038.0,1044 1038.3,1075 1038.6,1054 1038.9,1044 1039.2,1058 1039.5,1044 1039.8,1065 1040.1,1068 1040.4,1070 1040.7,1041 1041.0,1053 1041.3,1080 1041.6,1052 1041.9,1072 1042.2,1075 1042.5,1035 1042.8,1071 1043.1,1065 1043.4,1067 1043.7,1079 1044.0,1063 1044.3,1058 1044.6,1066 1044.9,1053 1045.2,1066 1045.5,1032 1045.8,1084 1046.1,1054 1046.4,1069 1046.7,1067 1047.0,1065 1047.3,1066 1047.6,1066 1047.9,1044 1048.2,1059 1048.5,1084 1048.8,1053 1049.1,1053 1049.4,1097 1049.7,1084 1050.0,1089 1050.3,1067 1050.6,1071 1050.9,1078 1051.2,1075 1051.5,1067 1051.8,1048 1052.1,1058 1052.4,1048 1052.7,1090 1053.0,1063 1053.3,1066 1053.6,1072 1053.9,1068 1054.2,1075 1054.5,1058 1054.8,1045 1055.1,1090 1055.4,1055 1055.7,1058 1056.0,1054 1056.3,1057 1056.6,1065 1056.9,1075 1057.2,1050 1057.5,1069 1057.8,1055 1058.1,1081 1058.4,1047 1058.7,1065 1059.0,1073 1059.3,1044 1059.6,1063 1059.9,1063 1060.2,1049 1060.5,1056 1060.8,1071 1061.1,1060 1061.4,1050 1061.7,1052 1062.0,1061 1062.3,1072 1062.6,1065 1062.9,1064 1063.2,1076 1063.5,1034 1063.8,1036 1064.1,1025 1064.4,1068 1064.7,1026 1065.0,1058 1065.3,1069 1065.6,1040 1065.9,1050 1066.2,1055 1066.5,1068 1066.8,1037 1067.1,1061 1067.4,1065 1067.7,1057 1068.0,1056 1068.3,1071 1068.6,1056 1068.9,1053 1069.2,1049 1069.5,1063 1069.8,1051 1070.1,1065 1070.4,1058 1070.7,1073 1071.0,1048 1071.3,1061 1071.6,1065 1071.9,1066 1072.2,1077 1072.5,1067 1072.8,1073 1073.1,1087 1073.4,1072 1073.7,1045 1074.0,1040 1074.3,1068 1074.6,1053 1074.9,1061 1075.2,1054 1075.5,1073 1075.8,1071 1076.1,1039 1076.4,1058 1076.7,1050 1077.0,1036 1077.3,1063 1077.6,1052 1077.9,1060 1078.2,1088 1078.5,1073 1078.8,1070 1079.1,1051 1079.4,1041 1079.7,1075 1080.0,1054 1080.3,1060 1080.6,1055 1080.9,1062 1081.2,1094 1081.5,1058 1081.8,1059 1082.1,1065 1082.4,1066 1082.7,1046 1083.0,1038 1083.3,1053 1083.6,1058 1083.9,1049 1084.2,1046 1084.5,1046 1084.8,1053 1085.1,1057 1085.4,1036 1085.7,1051 1086.0,1063 1086.3,1057 1086.6,1041 1086.9,1055 1087.2,1060 1087.5,1072 1087.8,1040 1088.1,1072 1088.4,1057 1088.7,1067 1089.0,1074 1089.3,1054 1089.6,1055 1089.9,1065 1090.2,1077 1090.5,1060 1090.8,1049 1091.1,1058 1091.4,1073 1091.7,1082 1092.0,1059 1092.3,1060 1092.6,1060 1092.9,1059 1093.2,1046 1093.5,1050 1093.8,1057 1094.1,1053 1094.4,1050 1094.7,1035 1095.0,1040 1095.3,1037 1095.6,1060 1095.9,1066 1096.2,1051 1096.5,1069 1096.8,1044 1097.1,1045 1097.4,1033 1097.7,1055 1098.0,1047 1098.3,1056 1098.6,1062 1098.9,1053 1099.2,1042 1099.5,1058 1099.8,1058 1100.1,1059 1100.4,1068 1100.7,1057 1101.0,1056 1101.3,1083 1101.6,1074 1101.9,1058 1102.2,1047 1102.5,1053 1102.8,1064 1103.1,1070 1103.4,1091 1103.7,1055 1104.0,1060 1104.3,1053 1104.6,1059 1104.9,1053 1105.2,1044 1105.5,1073 1105.8,1062 1106.1,1079 1106.4,1056 1106.7,1068 1107.0,1075 1107.3,1043 1107.6,1052 1107.9,1080 1108.2,1072 1108.5,1046 1108.8,1061 1109.1,1056 1109.4,1062 1109.7,1088 1110.0,1058 1110.3,1091 1110.6,1059 1110.9,1051 1111.2,1080 1111.5,1071 1111.8,1076 1112.1,1083 1112.4,1071 1112.7,1073 1113.0,1034 1113.3,1046 1113.6,1063 1113.9,1060 1114.2,1066 1114.5,1050 1114.8,1071 1115.1,1083 1115.4,1063 1115.7,1066 1116.0,1062 1116.3,1067 1116.6,1057 1116.9,1047 1117.2,1056 1117.5,1055 1117.8,1033 1118.1,1057 1118.4,1054 1118.7,1057 1119.0,1047 1119.3,1061 1119.6,1064 1119.9,1046 1120.2,1060 1120.5,1067 1120.8,1067 1121.1,1045 1121.4,1043 1121.7,1057 1122.0,1043 1122.3,1090 1122.6,1046 1122.9,1046 1123.2,1065 1123.5,1049 1123.8,1024 1124.1,1053 1124.4,1042 1124.7,1048 1125.0,1034 1125.3,1043 1125.6,1053 1125.9,1054 1126.2,1040 1126.5,1045 1126.8,1043 1127.1,1057 1127.4,1053 1127.7,1038 1128.0,1064 1128.3,1046 1128.6,1061 1128.9,1045 1129.2,1062 1129.5,1058 1129.8,1062 1130.1,1069 1130.4,1070 1130.7,1068 1131.0,1070 1131.3,1052 1131.6,1070 1131.9,1043 1132.2,1043 1132.5,1069 1132.8,1071 1133.1,1094 1133.4,1083 1133.7,1089 1134.0,1070 1134.3,1080 1134.6,1089 1134.9,1081 1135.2,1078 1135.5,1074 1135.8,1061 1136.1,1061 1136.4,1053 1136.7,1078 1137.0,1069 1137.3,1063 1137.6,1077 1137.9,1065 1138.2,1086 1138.5,1098 1138.8,1079 1139.1,1065 1139.4,1054 1139.7,1102 1140.0,1081 1140.3,1060 1140.6,1090 1140.9,1054 1141.2,1070 1141.5,1073 1141.8,1071 1142.1,1060 1142.4,1106 1142.7,1068 1143.0,1078 1143.3,1072 1143.6,1050 1143.9,1063 1144.2,1073 1144.5,1082 1144.8,1065 1145.1,1075 1145.4,1065 1145.7,1078 1146.0,1037 1146.3,1079 1146.6,1063 1146.9,1065 1147.2,1035 1147.5,1060 1147.8,1083 1148.1,1106 1148.4,1065 1148.7,1066 1149.0,1081 1149.3,1078 1149.6,1065 1149.9,1070 1150.2,1066 1150.5,1078 1150.8,1079 1151.1,1091 1151.4,1078 1151.7,1073 1152.0,1065 1152.3,1074 1152.6,1046 1152.9,1087 1153.2,1061 1153.5,1074 1153.8,1044 1154.1,1067 1154.4,1058 1154.7,1050 1155.0,1043 1155.3,1041 1155.6,1077 1155.9,1070 1156.2,1057 1156.5,1059 1156.8,1048 1157.1,1035 1157.4,1037 1157.7,1054 1158.0,1062 1158.3,1049 1158.6,1077 1158.9,1074 1159.2,1069 1159.5,1043 1159.8,1064 1160.1,1066 1160.4,1049 1160.7,1035 1161.0,1089 1161.3,1071 1161.6,1056 1161.9,1081 1162.2,1073 1162.5,1064 1162.8,1060 1163.1,1067 1163.4,1076 1163.7,1057 1164.0,1053 1164.3,1064 1164.6,1019 1164.9,1059 1165.2,1053 1165.5,1059 1165.8,1057 1166.1,1065 1166.4,1062 1166.7,1062 1167.0,1059 1167.3,1067 1167.6,1055 1167.9,1075 1168.2,1039 1168.5,1065 1168.8,1069 1169.1,1046 1169.4,1059 1169.7,1084 1170.0,1065 1170.3,1057 1170.6,1030 1170.9,1077 1171.2,1075 1171.5,1083 1171.8,1103 1172.1,1076 1172.4,1079 1172.7,1068 1173.0,1076 1173.3,1075 1173.6,1085 1173.9,1081 1174.2,1061 1174.5,1064 1174.8,1087 1175.1,1053 1175.4,1074 1175.7,1084 1176.0,1068 1176.3,1061 1176.6,1074 1176.9,1059 1177.2,1052 1177.5,1048 1177.8,1065 1178.1,1058 1178.4,1069 1178.7,1043 1179.0,1043 1179.3,1041 1179.6,1051 1179.9,1038 1180.2,1060 1180.5,1052 1180.8,1035 1181.1,1008 1181.4,1024 1181.7,1069 1182.0,1049 1182.3,1052 1182.6,1045 1182.9,1057 1183.2,1027 1183.5,1027 1183.8,1033 1184.1,1058 1184.4,1068 1184.7,1066 1185.0,1060 1185.3,1045 1185.6,1075 1185.9,1062 1186.2,1066 1186.5,1067 1186.8,1062 1187.1,1059 1187.4,1060 1187.7,1050 1188.0,1070 1188.3,1064 1188.6,1078 1188.9,1039 1189.2,1078 1189.5,1059 1189.8,1057 1190.1,1047 1190.4,1046 1190.7,1036 1191.0,1068 1191.3,1053 1191.6,1066 1191.9,1068 1192.2,1051 1192.5,1055 1192.8,1055 1193.1,1074 1193.4,1063 1193.7,1064 1194.0,1072 1194.3,1062 1194.6,1091 1194.9,1051 1195.2,1081 1195.5,1084 1195.8,1050 1196.1,1078 1196.4,1071 1196.7,1081 1197.0,1054 1197.3,1075 1197.6,1061 1197.9,1071 1198.2,1096 1198.5,1077 1198.8,1049 1199.1,1062 1199.4,1066 1199.7,1095 1200.0,1072 1200.3,1060 1200.6,1096 1200.9,1083 1201.2,1083 1201.5,1067 1201.8,1096 1202.1,1074 1202.4,1049 1202.7,1060 1203.0,1064 1203.3,1073 1203.6,1087 1203.9,1067 1204.2,1071 1204.5,1110 1204.8,1083 1205.1,1077 1205.4,1086 1205.7,1070 1206.0,1095 1206.3,1102 1206.6,1081 1206.9,1102 1207.2,1084 1207.5,1091 1207.8,1075 1208.1,1073 1208.4,1061 1208.7,1082 1209.0,1073 1209.3,1070 1209.6,1056 1209.9,1053 1210.2,1058 1210.5,1070 1210.8,1066 1211.1,1051 1211.4,1063 1211.7,1081 1212.0,1058 1212.3,1083 1212.6,1061 1212.9,1074 1213.2,1049 1213.5,1072 1213.8,1041 1214.1,1061 1214.4,1054 1214.7,1033 1215.0,1042 1215.3,1077 1215.6,1069 1215.9,1081 1216.2,1067 1216.5,1026 1216.8,1069 1217.1,1058 1217.4,1060 1217.7,1060 1218.0,1056 1218.3,1054 1218.6,1084 1218.9,1073 1219.2,1058 1219.5,1061 1219.8,1080 1220.1,1073 1220.4,1070 1220.7,1052 1221.0,1063 1221.3,1054 1221.6,1044 1221.9,1082 1222.2,1066 1222.5,1065 1222.8,1058 1223.1,1082 1223.4,1100 1223.7,1080 1224.0,1084 1224.3,1055 1224.6,1074 1224.9,1074 1225.2,1091 1225.5,1070 1225.8,1057 1226.1,1068 1226.4,1063 1226.7,1087 1227.0,1076 1227.3,1071 1227.6,1067 1227.9,1075 1228.2,1056 1228.5,1048 1228.8,1034 1229.1,1073 1229.4,1063 1229.7,1063 1230.0,1053 1230.3,1074 1230.6,1037 1230.9,1066 1231.2,1038 1231.5,1043 1231.8,1033 1232.1,1052 1232.4,1047 1232.7,1058 1233.0,1045 1233.3,1036 1233.6,1064 1233.9,1075 1234.2,1069 1234.5,1060 1234.8,1068 1235.1,1041 1235.4,1060 1235.7,1082 1236.0,1073 1236.3,1056 1236.6,1080 1236.9,1068 1237.2,1080 1237.5,1052 1237.8,1065 1238.1,1077 1238.4,1077 1238.7,1082 1239.0,1075 1239.3,1074 1239.6,1084 1239.9,1090 1240.2,1059 1240.5,1076 1240.8,1079 1241.1,1084 1241.4,1096 1241.7,1065 1242.0,1091 1242.3,1060 1242.6,1073 1242.9,1076 1243.2,1079 1243.5,1073 1243.8,1073 1244.1,1075 1244.4,1074 1244.7,1052 1245.0,1056 1245.3,1068 1245.6,1079 1245.9,1085 1246.2,1109 1246.5,1071 1246.8,1059 1247.1,1072 1247.4,1079 1247.7,1072 1248.0,1057 1248.3,1070 1248.6,1072 1248.9,1054 1249.2,1057 1249.5,1089 1249.8,1043 1250.1,1075 1250.4,1070 1250.7,1091 1251.0,1081 1251.3,1061 1251.6,1089 1251.9,1065 1252.2,1100 1252.5,1095 1252.8,1072 1253.1,1084 1253.4,1077 1253.7,1062 1254.0,1089 1254.3,1080 1254.6,1086 1254.9,1088 1255.2,1092 1255.5,1086 1255.8,1070 1256.1,1071 1256.4,1074 1256.7,1065 1257.0,1062 1257.3,1089 1257.6,1069 1257.9,1086 1258.2,1049 1258.5,1058 1258.8,1051 1259.1,1051 1259.4,1051 1259.7,1053 1260.0,1048 1260.3,1077 1260.6,1061 1260.9,1041 1261.2,1044 1261.5,1060 1261.8,1057 1262.1,1041 1262.4,1062 1262.7,1030 1263.0,1043 1263.3,1073 1263.6,1016 1263.9,1049 1264.2,1066 1264.5,1052 1264.8,1046 1265.1,1046 1265.4,1032 1265.7,1044 1266.0,1064 1266.3,1057 1266.6,1065 1266.9,1065 1267.2,1071 1267.5,1046 1267.8,1064 1268.1,1063 1268.4,1063 1268.7,1055 1269.0,1037 1269.3,1074 1269.6,1076 1269.9,1096 1270.2,1073 1270.5,1085 1270.8,1070 1271.1,1057 1271.4,1068 1271.7,1046 1272.0,1065 1272.3,1061 1272.6,1049 1272.9,1081 1273.2,1081 1273.5,1074 1273.8,1080 1274.1,1093 1274.4,1071 1274.7,1056 1275.0,1063 1275.3,1086 1275.6,1081 1275.9,1059 1276.2,1096 1276.5,1081 1276.8,1100 1277.1,1092 1277.4,1070 1277.7,1076 1278.0,1064 1278.3,1061 1278.6,1067 1278.9,1076 1279.2,1087 1279.5,1057 1279.8,1078 1280.1,1069 1280.4,1066 1280.7,1085 1281.0,1066 1281.3,1090 1281.6,1068 1281.9,1060 1282.2,1084 1282.5,1054 1282.8,1058 1283.1,1071 1283.4,1073 1283.7,1069 1284.0,1046 1284.3,1053 1284.6,1077 1284.9,1077 1285.2,1055 1285.5,1071 1285.8,1070 1286.1,1080 1286.4,1056 1286.7,1085 1287.0,1061 1287.3,1085 1287.6,1078 1287.9,1052 1288.2,1062 1288.5,1070 1288.8,1081 1289.1,1049 1289.4,1062 1289.7,1078 1290.0,1077 1290.3,1057 1290.6,1060 1290.9,1078 1291.2,1059 1291.5,1076 1291.8,1085 1292.1,1073 1292.4,1036 1292.7,1088 1293.0,1087 1293.3,1089 1293.6,1081 1293.9,1046 1294.2,1086 1294.5,1070 1294.8,1077 1295.1,1061 1295.4,1058 1295.7,1057 1296.0,1080 1296.3,1061 1296.6,1054 1296.9,1039 1297.2,1062 1297.5,1056 1297.8,1058 1298.1,1069 1298.4,1066 1298.7,1057 1299.0,1061 1299.3,1060 1299.6,1069 1299.9,1069 1300.2,1062 1300.5,1049 1300.8,1073 1301.1,1073 1301.4,1047 1301.7,1066 1302.0,1056 1302.3,1031 1302.6,1060 1302.9,1073 1303.2,1050 1303.5,1050 1303.8,1073 1304.1,1045 1304.4,1047 1304.7,1056 1305.0,1069 1305.3,1070 1305.6,1055 1305.9,1059 1306.2,1066 1306.5,1060 1306.8,1055 1307.1,1053 1307.4,1078 1307.7,1067 1308.0,1109 1308.3,1080 1308.6,1062 1308.9,1073 1309.2,1079 1309.5,1080 1309.8,1082 1310.1,1082 1310.4,1075 1310.7,1086 1311.0,1108 1311.3,1073 1311.6,1074 1311.9,1090 1312.2,1097 1312.5,1092 1312.8,1097 1313.1,1080 1313.4,1078 1313.7,1090 1314.0,1090 1314.3,1103 1314.6,1101 1314.9,1055 1315.2,1089 1315.5,1069 1315.8,1049 1316.1,1082 1316.4,1073 1316.7,1070 1317.0,1056 1317.3,1058 1317.6,1068 1317.9,1049 1318.2,1066 1318.5,1068 1318.8,1063 1319.1,1067 1319.4,1061 1319.7,1045 1320.0,1046 1320.3,1061 1320.6,1072 1320.9,1060 1321.2,1051 1321.5,1060 1321.8,1034 1322.1,1045 1322.4,1053 1322.7,1058 1323.0,1055 1323.3,1055 1323.6,1043 1323.9,1051 1324.2,1062 1324.5,1034 1324.8,1042 1325.1,1054 1325.4,1078 1325.7,1067 1326.0,1079 1326.3,1075 1326.6,1052 1326.9,1057 1327.2,1043 1327.5,1075 1327.8,1070 1328.1,1069 1328.4,1072 1328.7,1071 1329.0,1069 1329.3,1072 1329.6,1086 1329.9,1061 1330.2,1059 1330.5,1074 1330.8,1091 1331.1,1080 1331.4,1075 1331.7,1090 1332.0,1080 1332.3,1054 1332.6,1066 1332.9,1051 1333.2,1076 1333.5,1073 1333.8,1084 1334.1,1106 1334.4,1069 1334.7,1077 1335.0,1071 1335.3,1037 1335.6,1064 1335.9,1064 1336.2,1077 1336.5,1061 1336.8,1054 1337.1,1079 1337.4,1070 1337.7,1058 1338.0,1060 1338.3,1066 1338.6,1081 1338.9,1089 1339.2,1053 1339.5,1086 1339.8,1071 1340.1,1075 1340.4,1083 1340.7,1057 1341.0,1081 1341.3,1051 1341.6,1061 1341.9,1055 1342.2,1088 1342.5,1085 1342.8,1072 1343.1,1067 1343.4,1051 1343.7,1080 1344.0,1074 1344.3,1067 1344.6,1053 1344.9,1050 1345.2,1054 1345.5,1073 1345.8,1044 1346.1,1060 1346.4,1081 1346.7,1073 1347.0,1086 1347.3,1069 1347.6,1071 1347.9,1085 1348.2,1076 1348.5,1072 1348.8,1061 1349.1,1049 1349.4,1089 1349.7,1064 1350.0,1059 1350.3,1081 1350.6,1058 1350.9,1052 1351.2,1062 1351.5,1069 1351.8,1073 1352.1,1076 1352.4,1082 1352.7,1067 1353.0,1072 1353.3,1065 1353.6,1057 1353.9,1071 1354.2,1069 1354.5,1088 1354.8,1071 1355.1,1053 1355.4,1070 1355.7,1058 1356.0,1083 1356.3,1039 1356.6,1053 1356.9,1054 1357.2,1065 1357.5,1063 1357.8,1045 1358.1,1043 1358.4,1071 1358.7,1090 1359.0,1091 1359.3,1067 1359.6,1079 1359.9,1062 1360.2,1054 1360.5,1089 1360.8,1081 1361.1,1067 1361.4,1065 1361.7,1081 1362.0,1072 1362.3,1062 1362.6,1069 1362.9,1064 1363.2,1058 1363.5,1053 1363.8,1074 1364.1,1055 1364.4,1045 1364.7,1084 1365.0,1076 1365.3,1066 1365.6,1058 1365.9,1061 1366.2,1039 1366.5,1058 1366.8,1063 1367.1,1057 1367.4,1066 1367.7,1051 1368.0,1065 1368.3,1043 1368.6,1064 1368.9,1058 1369.2,1049 1369.5,1063 1369.8,1069 1370.1,1062 1370.4,1083 1370.7,1062 1371.0,1084 1371.3,1082 1371.6,1064 1371.9,1091 1372.2,1054 1372.5,1079 1372.8,1072 1373.1,1081 1373.4,1050 1373.7,1054 1374.0,1058 1374.3,1068 1374.6,1068 1374.9,1066 1375.2,1062 1375.5,1055 1375.8,1045 1376.1,1056 1376.4,1068 1376.7,1074 1377.0,1053 1377.3,1074 1377.6,1041 1377.9,1069 1378.2,1045 1378.5,1063 1378.8,1047 1379.1,1047 1379.4,1054 1379.7,1080 1380.0,1053 1380.3,1071 1380.6,1065 1380.9,1067 1381.2,1068 1381.5,1072 1381.8,1048 1382.1,1064 1382.4,1068 1382.7,1055 1383.0,1066 1383.3,1047 1383.6,1069 1383.9,1049 1384.2,1054 1384.5,1067 1384.8,1070 1385.1,1048 1385.4,1046 1385.7,1068 1386.0,1017 1386.3,1072 1386.6,1072 1386.9,1042 1387.2,1072 1387.5,1061 1387.8,1063 1388.1,1027 1388.4,1052 1388.7,1057 1389.0,1055 1389.3,1056 1389.6,1058 1389.9,1026 1390.2,1062 1390.5,1057 1390.8,1066 1391.1,1062 1391.4,1070 1391.7,1074 1392.0,1095 1392.3,1061 1392.6,1094 1392.9,1068 1393.2,1059 1393.5,1050 1393.8,1080 1394.1,1047 1394.4,1078 1394.7,1069 1395.0,1055 1395.3,1053 1395.6,1067 1395.9,1062 1396.2,1069 1396.5,1058 1396.8,1051 1397.1,1065 1397.4,1043 1397.7,1070 1398.0,1060 1398.3,1046 1398.6,1048 1398.9,1058 1399.2,1040 1399.5,1083 1399.8,1079 1400.1,1053 1400.4,1067 1400.7,1092 1401.0,1076 1401.3,1058 1401.6,1044 1401.9,1052 1402.2,1090 1402.5,1080 1402.8,1059 1403.1,1086 1403.4,1072 1403.7,1069 1404.0,1070 1404.3,1071 1404.6,1099 1404.9,1063 1405.2,1070 1405.5,1092 1405.8,1093 1406.1,1059 1406.4,1098 1406.7,1084 1407.0,1049 1407.3,1093 1407.6,1048 1407.9,1077 1408.2,1052 1408.5,1044 1408.8,1079 1409.1,1073 1409.4,1066 1409.7,1070 1410.0,1066 1410.3,1063 1410.6,1051 1410.9,1073 1411.2,1064 1411.5,1060 1411.8,1055 1412.1,1058 1412.4,1040 1412.7,1056 1413.0,1046 1413.3,1076 1413.6,1046 1413.9,1053 1414.2,1059 1414.5,1069 1414.8,1065 1415.1,1059 1415.4,1088 1415.7,1059 1416.0,1063 1416.3,1096 1416.6,1047 1416.9,1072 1417.2,1065 1417.5,1041 1417.8,1050 1418.1,1070 1418.4,1040 1418.7,1057 1419.0,1072 1419.3,1057 1419.6,1064 1419.9,1052 1420.2,1053 1420.5,1053 1420.8,1056 1421.1,1069 1421.4,1061 1421.7,1086 1422.0,1066 1422.3,1062 1422.6,1087 1422.9,1055 1423.2,1046 1423.5,1059 1423.8,1042 1424.1,1064 1424.4,1076 1424.7,1067 1425.0,1053 1425.3,1057 1425.6,1066 1425.9,1075 1426.2,1054 1426.5,1053 1426.8,1072 1427.1,1060 1427.4,1061 1427.7,1062 1428.0,1044 1428.3,1052 1428.6,1068 1428.9,1052 1429.2,1052 1429.5,1060 1429.8,1062 1430.1,1092 1430.4,1049 1430.7,1064 1431.0,1091 1431.3,1066 1431.6,1072 1431.9,1049 1432.2,1083 1432.5,1083 1432.8,1083 1433.1,1071 1433.4,1078 1433.7,1073 1434.0,1086 1434.3,1074 1434.6,1084 1434.9,1056 1435.2,1069 1435.5,1034 1435.8,1070 1436.1,1082 1436.4,1067 1436.7,1101 1437.0,1056 1437.3,1064 1437.6,1056 1437.9,1061 1438.2,1061 1438.5,1047 1438.8,1054 1439.1,1094 1439.4,1064 1439.7,1080 1440.0,1051 1440.3,1067 1440.6,1076 1440.9,1067 1441.2,1064 1441.5,1069 1441.8,1072 1442.1,1083 1442.4,1089 1442.7,1056 1443.0,1046 1443.3,1071 1443.6,1074 1443.9,1083 1444.2,1088 1444.5,1064 1444.8,1100 1445.1,1076 1445.4,1048 1445.7,1084 1446.0,1074 1446.3,1073 1446.6,1047 1446.9,1064 1447.2,1070 1447.5,1065 1447.8,1076 1448.1,1083 1448.4,1086 1448.7,1082 1449.0,1063 1449.3,1088 1449.6,1068 1449.9,1076 1450.2,1060 1450.5,1044 1450.8,1032 1451.1,1064 1451.4,1051 1451.7,1059 1452.0,1070 1452.3,1036 1452.6,1032 1452.9,1058 1453.2,1059 1453.5,1050 1453.8,1046 1454.1,1031 1454.4,1051 1454.7,1043 1455.0,1059 1455.3,1066 1455.6,1046 1455.9,1060 1456.2,1057 1456.5,1064 1456.8,1076 1457.1,1065 1457.4,1065 1457.7,1067 1458.0,1050 1458.3,1056 1458.6,1060 1458.9,1072 1459.2,1073 1459.5,1086 1459.8,1041 1460.1,1055 1460.4,1032 1460.7,1048 1461.0,1034 1461.3,1072 1461.6,1067 1461.9,1042 1462.2,1062 1462.5,1068 1462.8,1082 1463.1,1070 1463.4,1061 1463.7,1059 1464.0,1070 1464.3,1066 1464.6,1057 1464.9,1048 1465.2,1080 1465.5,1057 1465.8,1064 1466.1,1079 1466.4,1068 1466.7,1084 1467.0,1054 1467.3,1080 1467.6,1052 1467.9,1049 1468.2,1055 1468.5,1070 1468.8,1059 1469.1,1049 1469.4,1083 1469.7,1053 1470.0,1064 1470.3,1068 1470.6,1057 1470.9,1068 1471.2,1070 1471.5,1060 1471.8,1075 1472.1,1052 1472.4,1046 1472.7,1062 1473.0,1047 1473.3,1065 1473.6,1059 1473.9,1055 1474.2,1069 1474.5,1070 1474.8,1023 1475.1,1059 1475.4,1066 1475.7,1071 1476.0,1058 1476.3,1050 1476.6,1067 1476.9,1075 1477.2,1038 1477.5,1045 1477.8,1058 1478.1,1031 1478.4,1058 1478.7,1078 1479.0,1053 1479.3,1070 1479.6,1057 1479.9,1076 1480.2,1080 1480.5,1090 1480.8,1074 1481.1,1088 1481.4,1080 1481.7,1069 1482.0,1096 1482.3,1068 1482.6,1078 1482.9,1109 1483.2,1087 1483.5,1065 1483.8,1080 1484.1,1068 1484.4,1074 1484.7,1055 1485.0,1079 1485.3,1055 1485.6,1080 1485.9,1080 1486.2,1085 1486.5,1103 1486.8,1050 1487.1,1055 1487.4,1056 1487.7,1061 1488.0,1079 1488.3,1062 1488.6,1058 1488.9,1050 1489.2,1057 1489.5,1059 1489.8,1064 1490.1,1047 1490.4,1065 1490.7,1075 1491.0,1072 1491.3,1051 1491.6,1079 1491.9,1079 1492.2,1073 1492.5,1052 1492.8,1049 1493.1,1069 1493.4,1054 1493.7,1050 1494.0,1079 1494.3,1079 1494.6,1075 1494.9,1083 1495.2,1077 1495.5,1048 1495.8,1078 1496.1,1064 1496.4,1067 1496.7,1081 1497.0,1066 1497.3,1080 1497.6,1060 1497.9,1054 1498.2,1049 1498.5,1057 1498.8,1037 1499.1,1060 1499.4,1060 1499.7,1055 1500.0,1032 1500.3,1034 1500.6,1073 1500.9,1050 1501.2,1081 1501.5,1053 1501.8,1067 1502.1,1042 1502.4,1053 1502.7,1058 1503.0,1069 1503.3,1084 1503.6,1075 1503.9,1043 1504.2,1063 1504.5,1062 1504.8,1057 1505.1,1074 1505.4,1089 1505.7,1062 1506.0,1085 1506.3,1089 1506.6,1057 1506.9,1095 1507.2,1094 1507.5,1075 1507.8,1094 1508.1,1074 1508.4,1086 1508.7,1079 1509.0,1058 1509.3,1073 1509.6,1067 1509.9,1063 1510.2,1053 1510.5,1058 1510.8,1051 1511.1,1083 1511.4,1040 1511.7,1066 1512.0,1055 1512.3,1045 1512.6,1070 1512.9,1048 1513.2,1074 1513.5,1054 1513.8,1060 1514.1,1053 1514.4,1064 1514.7,1068 1515.0,1049 1515.3,1056 1515.6,1081 1515.9,1051 1516.2,1085 1516.5,1056 1516.8,1056 1517.1,1042 1517.4,1056 1517.7,1046 1518.0,1063 1518.3,1082 1518.6,1074 1518.9,1069 1519.2,1065 1519.5,1071 1519.8,1062 1520.1,1066 1520.4,1111 1520.7,1089 1521.0,1075 1521.3,1097 1521.6,1108 1521.9,1079 1522.2,1087 1522.5,1071 1522.8,1066 1523.1,1105 1523.4,1132 1523.7,1075 1524.0,1062 1524.3,1102 1524.6,1096 1524.9,1087 1525.2,1099 1525.5,1074 1525.8,1081 1526.1,1088 1526.4,1072 1526.7,1082 1527.0,1071 1527.3,1080 1527.6,1075 1527.9,1046 1528.2,1073 1528.5,1052 1528.8,1059 1529.1,1048 1529.4,1081 1529.7,1066 1530.0,1065 1530.3,1087 1530.6,1080 1530.9,1067 1531.2,1042 1531.5,1079 1531.8,1067 1532.1,1066 1532.4,1081 1532.7,1063 1533.0,1070 1533.3,1084 1533.6,1079 1533.9,1063 1534.2,1091 1534.5,1086 1534.8,1095 1535.1,1068 1535.4,1071 1535.7,1082 1536.0,1072 1536.3,1067 1536.6,1063 1536.9,1059 1537.2,1053 1537.5,1052 1537.8,1066 1538.1,1055 1538.4,1039 1538.7,1058 1539.0,1079 1539.3,1075 1539.6,1029 1539.9,1045 1540.2,1067 1540.5,1058 1540.8,1059 1541.1,1057 1541.4,1060 1541.7,1046 1542.0,1077 1542.3,1047 1542.6,1059 1542.9,1082 1543.2,1076 1543.5,1061 1543.8,1060 1544.1,1051 1544.4,1052 1544.7,1055 1545.0,1076 1545.3,1052 1545.6,1065 1545.9,1064 1546.2,1065 1546.5,1057 1546.8,1072 1547.1,1066 1547.4,1067 1547.7,1061 1548.0,1041 1548.3,1082 1548.6,1084 1548.9,1069 1549.2,1074 1549.5,1082 1549.8,1065 1550.1,1088 1550.4,1088 1550.7,1090 1551.0,1090 1551.3,1051 1551.6,1082 1551.9,1068 1552.2,1088 1552.5,1086 1552.8,1082 1553.1,1069 1553.4,1107 1553.7,1069 1554.0,1055 1554.3,1083 1554.6,1051 1554.9,1096 1555.2,1085 1555.5,1090 1555.8,1086 1556.1,1078 1556.4,1055 1556.7,1065 1557.0,1080 1557.3,1069 1557.6,1075 1557.9,1060 1558.2,1057 1558.5,1069 1558.8,1074 1559.1,1062 1559.4,1047 1559.7,1037 1560.0,1085 1560.3,1042 1560.6,1046 1560.9,1048 1561.2,1070 1561.5,1049 1561.8,1068 1562.1,1066 1562.4,1048 1562.7,1067 1563.0,1050 1563.3,1066 1563.6,1079 1563.9,1067 1564.2,1059 1564.5,1067 1564.8,1071 1565.1,1078 1565.4,1043 1565.7,1050 1566.0,1081 1566.3,1072 1566.6,1074 1566.9,1076 1567.2,1071 1567.5,1067 1567.8,1074 1568.1,1081 1568.4,1077 1568.7,1072 1569.0,1058 1569.3,1076 1569.6,1058 1569.9,1064 1570.2,1076 1570.5,1076 1570.8,1089 1571.1,1087 1571.4,1082 1571.7,1071 1572.0,1075 1572.3,1072 1572.6,1098 1572.9,1081 1573.2,1066 1573.5,1063 1573.8,1090 1574.1,1062 1574.4,1078 1574.7,1075 1575.0,1087 1575.3,1060 1575.6,1078 1575.9,1074 1576.2,1082 1576.5,1090 1576.8,1073 1577.1,1069 1577.4,1083 1577.7,1053 1578.0,1074 1578.3,1059 1578.6,1056" fill="none" stroke="#e6482b" stroke-width="3.0" stroke-linejoin="miter" stroke-miterlimit="2"/><polyline points="174.0,1058 174.3,1068 174.6,1066 174.9,1066 175.2,1075 175.5,1050 175.8,1056 176.1,1050 176.4,1063 176.7,1074 177.0,1065 177.3,1071 177.6,1049 177.9,1068 178.2,1059 178.5,1084 178.8,1076 179.1,1077 179.4,1068 179.7,1074 180.0,1075 180.3,1066 180.6,1065 180.9,1069 181.2,1065 181.5,1066 181.8,1069 182.1,1066 182.4,1081 182.7,1059 183.0,1082 183.3,1069 183.6,1070 183.9,1062 184.2,1074 184.5,1073 184.8,1077 185.1,1070 185.4,1075 185.7,1091 186.0,1078 186.3,1068 186.6,1082 186.9,1071 187.2,1078 187.5,1078 187.8,1068 188.1,1053 188.4,1067 188.7,1075 189.0,1066 189.3,1073 189.6,1077 189.9,1062 190.2,1079 190.5,1082 190.8,1076 191.1,1076 191.4,1075 191.7,1085 192.0,1065 192.3,1063 192.6,1069 192.9,1054 193.2,1048 193.5,1055 193.8,1067 194.1,1068 194.4,1049 194.7,1046 195.0,1061 195.3,1063 195.6,1064 195.9,1071 196.2,1076 196.5,1067 196.8,1070 197.1,1054 197.4,1053 197.7,1066 198.0,1069 198.3,1070 198.6,1068 198.9,1070 199.2,1070 199.5,1045 199.8,1055 200.1,1066 200.4,1067 200.7,1046 201.0,1071 201.3,1056 201.6,1057 201.9,1061 202.2,1065 202.5,1044 202.8,1067 203.1,1058 203.4,1049 203.7,1053 204.0,1035 204.3,1049 204.6,1058 204.9,1052 205.2,1058 205.5,1062 205.8,1068 206.1,1081 206.4,1075 206.7,1077 207.0,1088 207.3,1107 207.6,1088 207.9,1099 208.2,1085 208.5,1112 208.8,1109 209.1,1113 209.4,1108 209.7,1105 210.0,1109 210.3,1107 210.6,1101 210.9,1098 211.2,1101 211.5,1098 211.8,1103 212.1,1091 212.4,1088 212.7,1086 213.0,1074 213.3,1073 213.6,1081 213.9,1067 214.2,1058 214.5,1044 214.8,1039 215.1,1023 215.4,1001 215.7,975 216.0,954 216.3,927 216.6,893 216.9,869 217.2,825 217.5,797 217.8,769 218.1,736 218.4,698 218.7,673 219.0,644 219.3,610 219.6,579 219.9,554 220.2,525 220.5,493 220.8,476 221.1,463 221.4,436 221.7,427 222.0,411 222.3,397 222.6,385 222.9,379 223.2,369 223.5,357 223.8,337 224.1,330 224.4,319 224.7,309 225.0,295 225.3,283 225.6,273 225.9,263 226.2,248 226.5,246 226.8,236 227.1,222 227.4,220 227.7,233 228.0,214 228.3,204 228.6,209 228.9,219 229.2,207 229.5,208 229.8,201 230.1,201 230.4,211 230.7,206 231.0,197 231.3,205 231.6,207 231.9,192 232.2,197 232.5,196 232.8,186 233.1,207 233.4,191 233.7,186 234.0,174 234.3,179 234.6,211 234.9,180 235.2,199 235.5,189 235.8,200 236.1,201 236.4,185 236.7,191 237.0,196 237.3,196 237.6,195 237.9,193 238.2,205 238.5,215 238.8,207 239.1,193 239.4,209 239.7,206 240.0,213 240.3,232 240.6,209 240.9,214 241.2,205 241.5,215 241.8,213 242.1,241 242.4,227 242.7,218 243.0,249 243.3,210 243.6,238 243.9,241 244.2,236 244.5,226 244.8,228 245.1,226 245.4,240 245.7,202 246.0,225 246.3,233 246.6,225 246.9,210 247.2,231 247.5,225 247.8,246 248.1,255 248.4,240 248.7,217 249.0,241 249.3,234 249.6,257 249.9,273 250.2,258 250.5,283 250.8,279 251.1,272 251.4,254 251.7,270 252.0,253 252.3,287 252.6,277 252.9,294 253.2,282 253.5,254 253.8,289 254.1,293 254.4,304 254.7,271 255.0,272 255.3,286 255.6,273 255.9,270 256.2,276 256.5,325 256.8,286 257.1,283 257.4,293 257.7,301 258.0,320 258.3,318 258.6,319 258.9,311 259.2,315 259.5,307 259.8,297 260.1,345 260.4,314 260.7,335 261.0,319 261.3,324 261.6,325 261.9,311 262.2,330 262.5,338 262.8,347 263.1,346 263.4,356 263.7,350 264.0,349 264.3,327 264.6,349 264.9,380 265.2,365 265.5,377 265.8,367 266.1,364 266.4,402 266.7,382 267.0,399 267.3,388 267.6,379 267.9,356 268.2,388 268.5,367 268.8,360 269.1,407 269.4,401 269.7,402 270.0,395 270.3,395 270.6,402 270.9,400 271.2,399 271.5,409 271.8,368 272.1,413 272.4,395 272.7,415 273.0,421 273.3,396 273.6,419 273.9,420 274.2,402 274.5,406 274.8,416 275.1,387 275.4,412 275.7,423 276.0,416 276.3,402 276.6,420 276.9,447 277.2,446 277.5,428 277.8,421 278.1,433 278.4,435 278.7,427 279.0,433 279.3,448 279.6,454 279.9,411 280.2,459 280.5,450 280.8,465 281.1,452 281.4,460 281.7,479 282.0,420 282.3,483 282.6,466 282.9,442 283.2,433 283.5,475 283.8,460 284.1,489 284.4,481 284.7,479 285.0,497 285.3,490 285.6,500 285.9,505 286.2,501 286.5,511 286.8,514 287.1,488 287.4,506 287.7,511 288.0,511 288.3,497 288.6,513 288.9,528 289.2,528 289.5,548 289.8,521 290.1,526 290.4,526 290.7,531 291.0,529 291.3,513 291.6,545 291.9,555 292.2,558 292.5,530 292.8,544 293.1,573 293.4,548 293.7,556 294.0,550 294.3,567 294.6,568 294.9,588 295.2,564 295.5,565 295.8,544 296.1,557 296.4,554 296.7,561 297.0,550 297.3,585 297.6,557 297.9,577 298.2,558 298.5,582 298.8,602 299.1,570 299.4,589 299.7,585 300.0,592 300.3,596 300.6,585 300.9,593 301.2,591 301.5,590 301.8,588 302.1,620 302.4,600 302.7,622 303.0,623 303.3,605 303.6,635 303.9,612 304.2,635 304.5,648 304.8,621 305.1,620 305.4,622 305.7,668 306.0,634 306.3,624 306.6,653 306.9,642 307.2,645 307.5,633 307.8,618 308.1,640 308.4,637 308.7,630 309.0,639 309.3,642 309.6,666 309.9,666 310.2,665 310.5,652 310.8,643 311.1,666 311.4,669 311.7,677 312.0,664 312.3,664 312.6,670 312.9,654 313.2,656 313.5,675 313.8,650 314.1,666 314.4,678 314.7,671 315.0,674 315.3,654 315.6,668 315.9,668 316.2,681 316.5,680 316.8,677 317.1,705 317.4,689 317.7,680 318.0,677 318.3,687 318.6,682 318.9,714 319.2,701 319.5,690 319.8,687 320.1,683 320.4,694 320.7,717 321.0,712 321.3,701 321.6,704 321.9,678 322.2,715 322.5,702 322.8,725 323.1,705 323.4,701 323.7,712 324.0,701 324.3,728 324.6,715 324.9,716 325.2,716 325.5,708 325.8,720 326.1,717 326.4,739 326.7,717 327.0,723 327.3,713 327.6,716 327.9,718 328.2,742 328.5,727 328.8,741 329.1,726 329.4,726 329.7,706 330.0,745 330.3,763 330.6,734 330.9,758 331.2,751 331.5,732 331.8,753 332.1,731 332.4,741 332.7,762 333.0,749 333.3,732 333.6,768 333.9,735 334.2,749 334.5,748 334.8,751 335.1,743 335.4,734 335.7,782 336.0,745 336.3,747 336.6,727 336.9,762 337.2,779 337.5,782 337.8,801 338.1,785 338.4,771 338.7,766 339.0,786 339.3,767 339.6,772 339.9,757 340.2,773 340.5,800 340.8,775 341.1,783 341.4,747 341.7,800 342.0,789 342.3,806 342.6,792 342.9,780 343.2,775 343.5,802 343.8,796 344.1,785 344.4,799 344.7,792 345.0,812 345.3,797 345.6,787 345.9,803 346.2,797 346.5,825 346.8,798 347.1,787 347.4,803 347.7,800 348.0,806 348.3,805 348.6,787 348.9,800 349.2,798 349.5,783 349.8,791 350.1,802 350.4,778 350.7,785 351.0,794 351.3,799 351.6,808 351.9,784 352.2,807 352.5,812 352.8,825 353.1,799 353.4,793 353.7,785 354.0,813 354.3,823 354.6,796 354.9,811 355.2,817 355.5,819 355.8,801 356.1,817 356.4,809 356.7,799 357.0,817 357.3,821 357.6,806 357.9,827 358.2,850 358.5,806 358.8,837 359.1,842 359.4,832 359.7,837 360.0,830 360.3,852 360.6,822 360.9,833 361.2,809 361.5,840 361.8,841 362.1,814 362.4,826 362.7,845 363.0,833 363.3,824 363.6,807 363.9,846 364.2,868 364.5,836 364.8,848 365.1,848 365.4,841 365.7,844 366.0,844 366.3,830 366.6,876 366.9,879 367.2,846 367.5,867 367.8,832 368.1,840 368.4,859 368.7,829 369.0,827 369.3,850 369.6,819 369.9,869 370.2,856 370.5,849 370.8,855 371.1,834 371.4,834 371.7,858 372.0,860 372.3,849 372.6,847 372.9,842 373.2,869 373.5,832 373.8,842 374.1,848 374.4,837 374.7,842 375.0,848 375.3,878 375.6,891 375.9,873 376.2,849 376.5,864 376.8,872 377.1,871 377.4,871 377.7,883 378.0,850 378.3,868 378.6,879 378.9,885 379.2,879 379.5,874 379.8,872 380.1,864 380.4,874 380.7,870 381.0,863 381.3,889 381.6,888 381.9,867 382.2,880 382.5,887 382.8,874 383.1,872 383.4,876 383.7,847 384.0,850 384.3,877 384.6,875 384.9,890 385.2,867 385.5,890 385.8,891 386.1,906 386.4,870 386.7,878 387.0,888 387.3,890 387.6,874 387.9,880 388.2,871 388.5,920 388.8,888 389.1,888 389.4,880 389.7,888 390.0,898 390.3,882 390.6,886 390.9,915 391.2,897 391.5,888 391.8,878 392.1,883 392.4,874 392.7,887 393.0,874 393.3,874 393.6,879 393.9,870 394.2,888 394.5,920 394.8,879 395.1,867 395.4,903 395.7,891 396.0,921 396.3,901 396.6,911 396.9,890 397.2,881 397.5,901 397.8,914 398.1,895 398.4,886 398.7,900 399.0,903 399.3,905 399.6,909 399.9,941 400.2,909 400.5,902 400.8,894 401.1,919 401.4,887 401.7,928 402.0,909 402.3,889 402.6,912 402.9,909 403.2,927 403.5,891 403.8,915 404.1,913 404.4,926 404.7,899 405.0,904 405.3,941 405.6,922 405.9,894 406.2,918 406.5,902 406.8,903 407.1,895 407.4,923 407.7,902 408.0,911 408.3,909 408.6,887 408.9,897 409.2,917 409.5,885 409.8,910 410.1,905 410.4,916 410.7,916 411.0,918 411.3,908 411.6,910 411.9,897 412.2,899 412.5,918 412.8,897 413.1,918 413.4,917 413.7,893 414.0,910 414.3,891 414.6,906 414.9,891 415.2,906 415.5,903 415.8,887 416.1,929 416.4,915 416.7,881 417.0,908 417.3,898 417.6,932 417.9,904 418.2,910 418.5,903 418.8,914 419.1,898 419.4,893 419.7,899 420.0,900 420.3,914 420.6,907 420.9,901 421.2,902 421.5,896 421.8,911 422.1,883 422.4,909 422.7,929 423.0,909 423.3,906 423.6,917 423.9,904 424.2,908 424.5,928 424.8,911 425.1,946 425.4,928 425.7,919 426.0,913 426.3,919 426.6,893 426.9,928 427.2,938 427.5,935 427.8,923 428.1,939 428.4,940 428.7,932 429.0,940 429.3,950 429.6,944 429.9,933 430.2,939 430.5,942 430.8,918 431.1,942 431.4,939 431.7,911 432.0,918 432.3,965 432.6,943 432.9,960 433.2,937 433.5,963 433.8,950 434.1,934 434.4,947 434.7,964 435.0,975 435.3,949 435.6,935 435.9,929 436.2,949 436.5,953 436.8,940 437.1,936 437.4,948 437.7,943 438.0,941 438.3,915 438.6,931 438.9,961 439.2,935 439.5,968 439.8,940 440.1,931 440.4,939 440.7,943 441.0,925 441.3,938 441.6,930 441.9,955 442.2,930 442.5,938 442.8,917 443.1,920 443.4,938 443.7,928 444.0,937 444.3,946 444.6,952 444.9,927 445.2,945 445.5,958 445.8,942 446.1,935 446.4,945 446.7,978 447.0,957 447.3,979 447.6,956 447.9,977 448.2,942 448.5,959 448.8,964 449.1,987 449.4,970 449.7,979 450.0,958 450.3,958 450.6,981 450.9,982 451.2,979 451.5,978 451.8,954 452.1,990 452.4,962 452.7,976 453.0,968 453.3,934 453.6,931 453.9,935 454.2,956 454.5,972 454.8,954 455.1,969 455.4,942 455.7,951 456.0,948 456.3,962 456.6,947 456.9,962 457.2,973 457.5,959 457.8,954 458.1,961 458.4,952 458.7,955 459.0,980 459.3,975 459.6,951 459.9,967 460.2,977 460.5,982 460.8,980 461.1,984 461.4,970 461.7,970 462.0,967 462.3,984 462.6,981 462.9,993 463.2,983 463.5,957 463.8,948 464.1,948 464.4,955 464.7,975 465.0,947 465.3,939 465.6,964 465.9,977 466.2,977 466.5,989 466.8,966 467.1,959 467.4,963 467.7,950 468.0,959 468.3,986 468.6,998 468.9,987 469.2,974 469.5,966 469.8,973 470.1,943 470.4,976 470.7,978 471.0,964 471.3,965 471.6,941 471.9,973 472.2,972 472.5,924 472.8,953 473.1,965 473.4,982 473.7,948 474.0,959 474.3,980 474.6,967 474.9,958 475.2,955 475.5,961 475.8,950 476.1,974 476.4,949 476.7,968 477.0,972 477.3,976 477.6,961 477.9,959 478.2,963 478.5,960 478.8,974 479.1,958 479.4,986 479.7,999 480.0,954 480.3,969 480.6,950 480.9,977 481.2,974 481.5,967 481.8,958 482.1,974 482.4,1003 482.7,999 483.0,983 483.3,970 483.6,979 483.9,969 484.2,961 484.5,966 484.8,986 485.1,981 485.4,977 485.7,958 486.0,953 486.3,984 486.6,964 486.9,984 487.2,956 487.5,979 487.8,968 488.1,959 488.4,959 488.7,990 489.0,977 489.3,960 489.6,966 489.9,942 490.2,986 490.5,981 490.8,956 491.1,967 491.4,923 491.7,973 492.0,967 492.3,965 492.6,973 492.9,967 493.2,951 493.5,957 493.8,966 494.1,983 494.4,973 494.7,965 495.0,980 495.3,960 495.6,1006 495.9,983 496.2,966 496.5,982 496.8,994 497.1,986 497.4,1006 497.7,958 498.0,998 498.3,975 498.6,987 498.9,997 499.2,956 499.5,952 499.8,964 500.1,946 500.4,940 500.7,967 501.0,980 501.3,957 501.6,969 501.9,1011 502.2,965 502.5,956 502.8,957 503.1,965 503.4,956 503.7,969 504.0,964 504.3,974 504.6,965 504.9,963 505.2,954 505.5,949 505.8,966 506.1,967 506.4,978 506.7,975 507.0,973 507.3,1011 507.6,987 507.9,1000 508.2,971 508.5,1000 508.8,1003 509.1,993 509.4,975 509.7,1003 510.0,975 510.3,963 510.6,961 510.9,982 511.2,973 511.5,989 511.8,985 512.1,993 512.4,977 512.7,973 513.0,970 513.3,958 513.6,957 513.9,957 514.2,970 514.5,955 514.8,965 515.1,981 515.4,934 515.7,955 516.0,953 516.3,967 516.6,947 516.9,959 517.2,999 517.5,950 517.8,967 518.1,971 518.4,964 518.7,952 519.0,982 519.3,942 519.6,955 519.9,965 520.2,960 520.5,984 520.8,964 521.1,995 521.4,970 521.7,991 522.0,977 522.3,969 522.6,969 522.9,987 523.2,967 523.5,975 523.8,965 524.1,949 524.4,985 524.7,986 525.0,962 525.3,985 525.6,975 525.9,952 526.2,965 526.5,987 526.8,991 527.1,982 527.4,1014 527.7,981 528.0,966 528.3,956 528.6,997 528.9,971 529.2,973 529.5,968 529.8,969 530.1,976 530.4,989 530.7,992 531.0,990 531.3,1000 531.6,981 531.9,975 532.2,989 532.5,962 532.8,1001 533.1,996 533.4,996 533.7,973 534.0,979 534.3,985 534.6,969 534.9,966 535.2,976 535.5,979 535.8,966 536.1,987 536.4,1002 536.7,979 537.0,968 537.3,966 537.6,992 537.9,975 538.2,979 538.5,975 538.8,965 539.1,995 539.4,972 539.7,978 540.0,948 540.3,1007 540.6,988 540.9,977 541.2,968 541.5,970 541.8,956 542.1,985 542.4,968 542.7,986 543.0,987 543.3,1007 543.6,985 543.9,987 544.2,991 544.5,977 544.8,983 545.1,991 545.4,1004 545.7,999 546.0,986 546.3,1007 546.6,986 546.9,971 547.2,1014 547.5,993 547.8,987 548.1,977 548.4,987 548.7,1016 549.0,992 549.3,1023 549.6,992 549.9,1007 550.2,992 550.5,985 550.8,985 551.1,987 551.4,974 551.7,973 552.0,994 552.3,1005 552.6,990 552.9,988 553.2,974 553.5,1001 553.8,999 554.1,968 554.4,984 554.7,978 555.0,962 555.3,1005 555.6,999 555.9,988 556.2,1003 556.5,978 556.8,989 557.1,1004 557.4,982 557.7,990 558.0,973 558.3,995 558.6,1001 558.9,971 559.2,973 559.5,981 559.8,1000 560.1,973 560.4,968 560.7,977 561.0,993 561.3,956 561.6,974 561.9,994 562.2,976 562.5,972 562.8,988 563.1,960 563.4,1005 563.7,984 564.0,973 564.3,980 564.6,978 564.9,976 565.2,964 565.5,978 565.8,959 566.1,1001 566.4,968 566.7,975 567.0,975 567.3,996 567.6,985 567.9,1008 568.2,983 568.5,992 568.8,990 569.1,988 569.4,1008 569.7,1010 570.0,1012 570.3,976 570.6,1000 570.9,981 571.2,981 571.5,972 571.8,984 572.1,1005 572.4,1016 572.7,1020 573.0,984 573.3,987 573.6,998 573.9,996 574.2,995 574.5,967 574.8,987 575.1,996 575.4,991 575.7,984 576.0,975 576.3,983 576.6,1005 576.9,990 577.2,997 577.5,1005 577.8,968 578.1,992 578.4,990 578.7,1002 579.0,981 579.3,982 579.6,977 579.9,989 580.2,983 580.5,985 580.8,992 581.1,983 581.4,975 581.7,983 582.0,981 582.3,994 582.6,1005 582.9,984 583.2,956 583.5,997 583.8,989 584.1,978 584.4,988 584.7,1017 585.0,972 585.3,977 585.6,993 585.9,952 586.2,988 586.5,1007 586.8,1001 587.1,997 587.4,986 587.7,987 588.0,1024 588.3,988 588.6,1000 588.9,962 589.2,980 589.5,979 589.8,973 590.1,940 590.4,962 590.7,986 591.0,973 591.3,954 591.6,977 591.9,940 592.2,974 592.5,971 592.8,959 593.1,954 593.4,946 593.7,967 594.0,994 594.3,983 594.6,977 594.9,985 595.2,965 595.5,981 595.8,936 596.1,970 596.4,971 596.7,979 597.0,979 597.3,991 597.6,976 597.9,999 598.2,985 598.5,1002 598.8,993 599.1,1004 599.4,1000 599.7,987 600.0,999 600.3,979 600.6,998 600.9,1003 601.2,994 601.5,996 601.8,1012 602.1,1014 602.4,1017 602.7,990 603.0,991 603.3,1006 603.6,1007 603.9,969 604.2,1019 604.5,1007 604.8,973 605.1,1004 605.4,982 605.7,986 606.0,974 606.3,976 606.6,982 606.9,989 607.2,973 607.5,988 607.8,980 608.1,983 608.4,979 608.7,983 609.0,1014 609.3,971 609.6,976 609.9,993 610.2,988 610.5,982 610.8,1002 611.1,982 611.4,998 611.7,1012 612.0,1008 612.3,997 612.6,1002 612.9,1005 613.2,1011 613.5,990 613.8,1020 614.1,1013 614.4,1028 614.7,1014 615.0,1016 615.3,963 615.6,997 615.9,1028 616.2,1009 616.5,998 616.8,1014 617.1,1007 617.4,1012 617.7,998 618.0,1016 618.3,1030 618.6,1013 618.9,1016 619.2,1001 619.5,1017 619.8,1004 620.1,990 620.4,1001 620.7,1002 621.0,1011 621.3,1014 621.6,997 621.9,992 622.2,1004 622.5,981 622.8,986 623.1,986 623.4,986 623.7,979 624.0,1008 624.3,999 624.6,984 624.9,967 625.2,981 625.5,997 625.8,963 626.1,1025 626.4,991 626.7,993 627.0,1003 627.3,976 627.6,997 627.9,997 628.2,1006 628.5,983 628.8,1004 629.1,1011 629.4,998 629.7,985 630.0,980 630.3,966 630.6,981 630.9,995 631.2,1007 631.5,1000 631.8,1002 632.1,980 632.4,981 632.7,966 633.0,979 633.3,973 633.6,986 633.9,999 634.2,989 634.5,987 634.8,1001 635.1,1013 635.4,1007 635.7,970 636.0,1017 636.3,987 636.6,974 636.9,989 637.2,1008 637.5,960 637.8,1014 638.1,1001 638.4,1006 638.7,981 639.0,993 639.3,987 639.6,1019 639.9,993 640.2,1010 640.5,996 640.8,983 641.1,1018 641.4,1022 641.7,1026 642.0,998 642.3,1006 642.6,1015 642.9,1009 643.2,1007 643.5,1036 643.8,998 644.1,1015 644.4,996 644.7,1022 645.0,999 645.3,989 645.6,1012 645.9,1002 646.2,996 646.5,998 646.8,993 647.1,1008 647.4,1006 647.7,1024 648.0,992 648.3,1021 648.6,1010 648.9,983 649.2,1023 649.5,979 649.8,1010 650.1,977 650.4,1006 650.7,997 651.0,997 651.3,974 651.6,989 651.9,1014 652.2,1006 652.5,996 652.8,994 653.1,987 653.4,1015 653.7,995 654.0,1010 654.3,975 654.6,974 654.9,1014 655.2,984 655.5,993 655.8,1003 656.1,1009 656.4,1005 656.7,1004 657.0,1019 657.3,1001 657.6,1010 657.9,998 658.2,1000 658.5,1024 658.8,995 659.1,964 659.4,1000 659.7,1002 660.0,1025 660.3,996 660.6,986 660.9,1004 661.2,1029 661.5,1000 661.8,1022 662.1,1012 662.4,1015 662.7,995 663.0,1007 663.3,996 663.6,1007 663.9,997 664.2,1021 664.5,999 664.8,1003 665.1,976 665.4,993 665.7,1040 666.0,1002 666.3,986 666.6,1008 666.9,1006 667.2,1003 667.5,1007 667.8,1005 668.1,1025 668.4,996 668.7,1016 669.0,1024 669.3,1000 669.6,1043 669.9,1012 670.2,1009 670.5,1001 670.8,1018 671.1,984 671.4,1012 671.7,1033 672.0,1006 672.3,1011 672.6,985 672.9,1006 673.2,983 673.5,986 673.8,990 674.1,1014 674.4,979 674.7,959 675.0,986 675.3,994 675.6,991 675.9,985 676.2,1001 676.5,994 676.8,994 677.1,977 677.4,964 677.7,1007 678.0,974 678.3,1004 678.6,1004 678.9,973 679.2,981 679.5,997 679.8,1006 680.1,981 680.4,992 680.7,983 681.0,982 681.3,1000 681.6,993 681.9,973 682.2,1007 682.5,997 682.8,997 683.1,985 683.4,1013 683.7,1008 684.0,1009 684.3,1005 684.6,1011 684.9,1029 685.2,1011 685.5,1013 685.8,1005 686.1,1021 686.4,1010 686.7,1004 687.0,1029 687.3,1011 687.6,1001 687.9,1002 688.2,1004 688.5,995 688.8,1028 689.1,1015 689.4,987 689.7,1020 690.0,998 690.3,1006 690.6,996 690.9,1006 691.2,1005 691.5,1010 691.8,1011 692.1,964 692.4,992 692.7,998 693.0,995 693.3,978 693.6,993 693.9,995 694.2,971 694.5,987 694.8,1010 695.1,990 695.4,999 695.7,1003 696.0,1011 696.3,1016 696.6,1021 696.9,1009 697.2,1011 697.5,1007 697.8,1012 698.1,1008 698.4,1020 698.7,1019 699.0,990 699.3,977 699.6,1013 699.9,1000 700.2,985 700.5,1019 700.8,1026 701.1,990 701.4,993 701.7,997 702.0,996 702.3,1005 702.6,993 702.9,1008 703.2,1004 703.5,1025 703.8,1011 704.1,1025 704.4,1035 704.7,1023 705.0,1025 705.3,1011 705.6,1019 705.9,1050 706.2,1038 706.5,1020 706.8,1014 707.1,1017 707.4,1034 707.7,990 708.0,1021 708.3,999 708.6,1035 708.9,996 709.2,1027 709.5,1009 709.8,1013 710.1,1035 710.4,1012 710.7,1020 711.0,1016 711.3,995 711.6,1010 711.9,1024 712.2,1015 712.5,1014 712.8,1001 713.1,1033 713.4,1004 713.7,1036 714.0,1015 714.3,1022 714.6,994 714.9,1015 715.2,1000 715.5,1015 715.8,1030 716.1,1019 716.4,1018 716.7,1029 717.0,1000 717.3,1018 717.6,1010 717.9,1034 718.2,1011 718.5,1044 718.8,1050 719.1,995 719.4,1023 719.7,1004 720.0,1044 720.3,1016 720.6,1037 720.9,1033 721.2,1017 721.5,1009 721.8,1045 722.1,1021 722.4,1033 722.7,1048 723.0,1027 723.3,1022 723.6,1011 723.9,1029 724.2,1010 724.5,996 724.8,1009 725.1,1006 725.4,990 725.7,1007 726.0,1020 726.3,1015 726.6,1034 726.9,1021 727.2,1009 727.5,978 727.8,1009 728.1,1023 728.4,1002 728.7,1026 729.0,994 729.3,1010 729.6,1018 729.9,1030 730.2,1006 730.5,1033 730.8,1002 731.1,982 731.4,1005 731.7,1026 732.0,1002 732.3,1030 732.6,1005 732.9,1035 733.2,980 733.5,1043 733.8,984 734.1,1012 734.4,997 734.7,1019 735.0,1012 735.3,1011 735.6,1024 735.9,1028 736.2,1010 736.5,1032 736.8,990 737.1,1000 737.4,996 737.7,1022 738.0,1029 738.3,1011 738.6,1009 738.9,1002 739.2,1030 739.5,1037 739.8,1014 740.1,1020 740.4,1018 740.7,1023 741.0,1030 741.3,992 741.6,1015 741.9,1033 742.2,1008 742.5,1037 742.8,1038 743.1,1004 743.4,1006 743.7,1034 744.0,992 744.3,1000 744.6,992 744.9,1015 745.2,1020 745.5,1022 745.8,1020 746.1,998 746.4,1035 746.7,1018 747.0,1015 747.3,1046 747.6,1025 747.9,1029 748.2,1037 748.5,1054 748.8,1027 749.1,1037 749.4,995 749.7,1014 750.0,1057 750.3,1056 750.6,1025 750.9,1014 751.2,1006 751.5,1007 751.8,1014 752.1,996 752.4,1017 752.7,1014 753.0,998 753.3,995 753.6,995 753.9,1003 754.2,1006 754.5,1017 754.8,984 755.1,1003 755.4,1009 755.7,1013 756.0,1021 756.3,1005 756.6,1028 756.9,1044 757.2,1019 757.5,1036 757.8,1028 758.1,1022 758.4,1013 758.7,1020 759.0,1045 759.3,1018 759.6,1006 759.9,1009 760.2,1027 760.5,1007 760.8,1028 761.1,1026 761.4,1019 761.7,1039 762.0,998 762.3,1010 762.6,1016 762.9,1025 763.2,1002 763.5,1014 763.8,1041 764.1,1018 764.4,1038 764.7,1022 765.0,1016 765.3,1034 765.6,1046 765.9,1027 766.2,1010 766.5,1017 766.8,1022 767.1,1025 767.4,1016 767.7,1038 768.0,1014 768.3,1043 768.6,1015 768.9,1016 769.2,1045 769.5,1039 769.8,1024 770.1,1020 770.4,1025 770.7,1028 771.0,1031 771.3,1042 771.6,1016 771.9,1027 772.2,1028 772.5,1009 772.8,1044 773.1,1052 773.4,1029 773.7,1006 774.0,1020 774.3,1045 774.6,1005 774.9,1006 775.2,1027 775.5,1041 775.8,1046 776.1,1049 776.4,1002 776.7,1026 777.0,1020 777.3,1019 777.6,1043 777.9,1037 778.2,1020 778.5,1032 778.8,1031 779.1,1046 779.4,1020 779.7,1037 780.0,1019 780.3,1035 780.6,1030 780.9,1036 781.2,1034 781.5,1057 781.8,1029 782.1,1028 782.4,1036 782.7,1052 783.0,1058 783.3,1049 783.6,1043 783.9,1048 784.2,1046 784.5,1063 784.8,1058 785.1,1062 785.4,1061 785.7,1062 786.0,1076 786.3,1055 786.6,1067 786.9,1067 787.2,1050 787.5,1080 787.8,1060 788.1,1040 788.4,1065 788.7,1058 789.0,1056 789.3,1041 789.6,1036 789.9,1040 790.2,1017 790.5,1034 790.8,1030 791.1,1039 791.4,1022 791.7,1031 792.0,1003 792.3,1011 792.6,1031 792.9,1039 793.2,1031 793.5,999 793.8,1005 794.1,1010 794.4,1034 794.7,1008 795.0,1019 795.3,1020 795.6,1019 795.9,1010 796.2,1015 796.5,1021 796.8,1011 797.1,1007 797.4,1017 797.7,1026 798.0,1039 798.3,991 798.6,1009 798.9,1007 799.2,991 799.5,1002 799.8,996 800.1,992 800.4,997 800.7,1014 801.0,992 801.3,999 801.6,1004 801.9,993 802.2,991 802.5,987 802.8,999 803.1,1029 803.4,989 803.7,1024 804.0,1003 804.3,1004 804.6,1029 804.9,1027 805.2,1030 805.5,1023 805.8,1036 806.1,1017 806.4,1031 806.7,1039 807.0,1027 807.3,1016 807.6,1050 807.9,1025 808.2,1015 808.5,1036 808.8,1045 809.1,1036 809.4,1014 809.7,1031 810.0,1035 810.3,1041 810.6,1015 810.9,1019 811.2,1041 811.5,1040 811.8,1048 812.1,1060 812.4,1029 812.7,1034 813.0,1043 813.3,1073 813.6,1051 813.9,1068 814.2,1025 814.5,1060 814.8,1069 815.1,1076 815.4,1048 815.7,1084 816.0,1046 816.3,1075 816.6,1078 816.9,1054 817.2,1036 817.5,1083 817.8,1058 818.1,1036 818.4,1057 818.7,1035 819.0,1050 819.3,1032 819.6,1015 819.9,1053 820.2,1033 820.5,1039 820.8,1041 821.1,1036 821.4,1027 821.7,1041 822.0,1043 822.3,1037 822.6,1029 822.9,1033 823.2,1053 823.5,1048 823.8,1029 824.1,1040 824.4,1040 824.7,1039 825.0,1032 825.3,1038 825.6,1026 825.9,1039 826.2,1036 826.5,1037 826.8,1036 827.1,1033 827.4,1014 827.7,1007 828.0,1022 828.3,1013 828.6,1026 828.9,1006 829.2,1007 829.5,994 829.8,1009 830.1,1005 830.4,1026 830.7,1011 831.0,1030 831.3,1002 831.6,993 831.9,1030 832.2,1024 832.5,1041 832.8,1013 833.1,1001 833.4,1047 833.7,1033 834.0,1023 834.3,1061 834.6,1034 834.9,1024 835.2,1041 835.5,1029 835.8,1026 836.1,1043 836.4,1038 836.7,1035 837.0,1037 837.3,1021 837.6,1049 837.9,1066 838.2,1045 838.5,1060 838.8,1070 839.1,1042 839.4,1037 839.7,1035 840.0,1042 840.3,1060 840.6,1048 840.9,1067 841.2,1043 841.5,1074 841.8,1049 842.1,1052 842.4,1055 842.7,1051 843.0,1053 843.3,1062 843.6,1053 843.9,1059 844.2,1042 844.5,1041 844.8,1032 845.1,1059 845.4,1036 845.7,1052 846.0,1046 846.3,1045 846.6,1039 846.9,1048 847.2,1046 847.5,1061 847.8,1035 848.1,1032 848.4,1021 848.7,1065 849.0,1027 849.3,1046 849.6,1046 849.9,1019 850.2,1027 850.5,1046 850.8,1037 851.1,1020 851.4,1040 851.7,1059 852.0,1045 852.3,1049 852.6,1060 852.9,1072 853.2,1045 853.5,1037 853.8,1045 854.1,1040 854.4,1029 854.7,1045 855.0,1034 855.3,1063 855.6,1044 855.9,1010 856.2,1029 856.5,1047 856.8,1033 857.1,1028 857.4,1030 857.7,1024 858.0,1041 858.3,1025 858.6,1018 858.9,1040 859.2,1011 859.5,1029 859.8,1012 860.1,1019 860.4,1017 860.7,1009 861.0,1016 861.3,1044 861.6,1010 861.9,1052 862.2,1037 862.5,1048 862.8,1021 863.1,1043 863.4,1032 863.7,1057 864.0,1025 864.3,1048 864.6,1023 864.9,1051 865.2,1027 865.5,1018 865.8,1014 866.1,1025 866.4,1054 866.7,1017 867.0,1025 867.3,1034 867.6,1037 867.9,1040 868.2,1060 868.5,1036 868.8,1020 869.1,1051 869.4,1036 869.7,1040 870.0,1046 870.3,1066 870.6,1062 870.9,1046 871.2,1041 871.5,1052 871.8,1035 872.1,1021 872.4,1035 872.7,1057 873.0,1034 873.3,1036 873.6,1063 873.9,1063 874.2,1063 874.5,1033 874.8,1051 875.1,1063 875.4,1058 875.7,1040 876.0,1042 876.3,1035 876.6,1038 876.9,1049 877.2,1049 877.5,1032 877.8,1052 878.1,1045 878.4,1059 878.7,1034 879.0,1044 879.3,1011 879.6,1051 879.9,1048 880.2,1052 880.5,1041 880.8,1042 881.1,1041 881.4,1059 881.7,1030 882.0,1043 882.3,1053 882.6,1041 882.9,1035 883.2,1044 883.5,1054 883.8,1072 884.1,1045 884.4,1024 884.7,1067 885.0,1053 885.3,1061 885.6,1051 885.9,1051 886.2,1025 886.5,1056 886.8,1032 887.1,1054 887.4,1017 887.7,1056 888.0,1036 888.3,1005 888.6,1036 888.9,1034 889.2,1033 889.5,1016 889.8,1060 890.1,1023 890.4,1043 890.7,996 891.0,1038 891.3,1037 891.6,1031 891.9,1049 892.2,1025 892.5,1040 892.8,1034 893.1,1040 893.4,1024 893.7,1047 894.0,1046 894.3,1044 894.6,1045 894.9,1036 895.2,1034 895.5,1040 895.8,1049 896.1,1029 896.4,1044 896.7,1067 897.0,1056 897.3,1034 897.6,1064 897.9,1025 898.2,1045 898.5,1062 898.8,1056 899.1,1052 899.4,1034 899.7,1026 900.0,1055 900.3,1052 900.6,1072 900.9,1042 901.2,1036 901.5,1043 901.8,1027 902.1,1046 902.4,1050 902.7,1049 903.0,1075 903.3,1075 903.6,1045 903.9,1041 904.2,1064 904.5,1060 904.8,1028 905.1,1034 905.4,1032 905.7,1024 906.0,1033 906.3,1023 906.6,1049 906.9,1045 907.2,1015 907.5,1029 907.8,1030 908.1,1056 908.4,1029 908.7,1049 909.0,1059 909.3,1025 909.6,1044 909.9,1038 910.2,1048 910.5,1017 910.8,1030 911.1,1012 911.4,1043 911.7,1006 912.0,1032 912.3,1010 912.6,1020 912.9,1019 913.2,1032 913.5,1039 913.8,1048 914.1,1053 914.4,1036 914.7,1023 915.0,1057 915.3,1026 915.6,1045 915.9,1038 916.2,1041 916.5,1054 916.8,1037 917.1,1052 917.4,1053 917.7,1069 918.0,1070 918.3,1065 918.6,1054 918.9,1076 919.2,1065 919.5,1034 919.8,1055 920.1,1056 920.4,1038 920.7,1053 921.0,1045 921.3,1037 921.6,1050 921.9,1041 922.2,1033 922.5,1050 922.8,1025 923.1,1066 923.4,1047 923.7,1053 924.0,1065 924.3,1065 924.6,1048 924.9,1057 925.2,1065 925.5,1071 925.8,1041 926.1,1056 926.4,1037 926.7,1039 927.0,1050 927.3,1048 927.6,1036 927.9,1038 928.2,1049 928.5,1031 928.8,1052 929.1,1033 929.4,1068 929.7,1051 930.0,1059 930.3,1044 930.6,1064 930.9,1056 931.2,1060 931.5,1052 931.8,1059 932.1,1050 932.4,1061 932.7,1049 933.0,1050 933.3,1057 933.6,1057 933.9,1055 934.2,1045 934.5,1052 934.8,1067 935.1,1056 935.4,1058 935.7,1045 936.0,1070 936.3,1047 936.6,1056 936.9,1048 937.2,1064 937.5,1026 937.8,1018 938.1,1041 938.4,1012 938.7,1035 939.0,1037 939.3,1043 939.6,1056 939.9,1030 940.2,1056 940.5,1067 940.8,1073 941.1,1037 941.4,1048 941.7,1080 942.0,1042 942.3,1072 942.6,1063 942.9,1066 943.2,1037 943.5,1042 943.8,1050 944.1,1071 944.4,1075 944.7,1054 945.0,1070 945.3,1068 945.6,1054 945.9,1053 946.2,1042 946.5,1053 946.8,1057 947.1,1085 947.4,1079 947.7,1064 948.0,1069 948.3,1052 948.6,1029 948.9,1062 949.2,1064 949.5,1043 949.8,1067 950.1,1061 950.4,1055 950.7,1016 951.0,1039 951.3,1045 951.6,1022 951.9,1026 952.2,1043 952.5,1058 952.8,1041 953.1,1032 953.4,1022 953.7,1014 954.0,1017 954.3,1034 954.6,1022 954.9,1047 955.2,1011 955.5,1013 955.8,1028 956.1,1032 956.4,1031 956.7,1015 957.0,1020 957.3,1043 957.6,1025 957.9,1025 958.2,1041 958.5,1039 958.8,1035 959.1,1059 959.4,1019 959.7,1045 960.0,1033 960.3,1057 960.6,1033 960.9,1057 961.2,1045 961.5,1087 961.8,1058 962.1,1087 962.4,1050 962.7,1053 963.0,1068 963.3,1041 963.6,1053 963.9,1086 964.2,1082 964.5,1064 964.8,1082 965.1,1072 965.4,1072 965.7,1051 966.0,1076 966.3,1054 966.6,1081 966.9,1045 967.2,1092 967.5,1048 967.8,1038 968.1,1040 968.4,1060 968.7,1058 969.0,1044 969.3,1063 969.6,1078 969.9,1052 970.2,1060 970.5,1060 970.8,1059 971.1,1023 971.4,1066 971.7,1044 972.0,1046 972.3,1060 972.6,1008 972.9,1055 973.2,1048 973.5,1067 973.8,1051 974.1,1065 974.4,1063 974.7,1033 975.0,1049 975.3,1041 975.6,1051 975.9,1041 976.2,1033 976.5,1052 976.8,1049 977.1,1060 977.4,1076 977.7,1049 978.0,1051 978.3,1070 978.6,1067 978.9,1032 979.2,1054 979.5,1034 979.8,1043 980.1,1049 980.4,1054 980.7,1053 981.0,1061 981.3,1063 981.6,1081 981.9,1071 982.2,1046 982.5,1079 982.8,1066 983.1,1045 983.4,1048 983.7,1062 984.0,1062 984.3,1065 984.6,1039 984.9,1055 985.2,1087 985.5,1035 985.8,1039 986.1,1058 986.4,1061 986.7,1049 987.0,1058 987.3,1054 987.6,1044 987.9,1055 988.2,1051 988.5,1059 988.8,1063 989.1,1041 989.4,1051 989.7,1037 990.0,1046 990.3,1052 990.6,1058 990.9,1038 991.2,1056 991.5,1046 991.8,1044 992.1,1044 992.4,1040 992.7,1053 993.0,1032 993.3,1056 993.6,1043 993.9,1071 994.2,1046 994.5,1057 994.8,1064 995.1,1065 995.4,1076 995.7,1077 996.0,1053 996.3,1049 996.6,1073 996.9,1059 997.2,1051 997.5,1052 997.8,1063 998.1,1061 998.4,1021 998.7,1039 999.0,1041 999.3,1035 999.6,1064 999.9,1066 1000.2,1049 1000.5,1072 1000.8,1050 1001.1,1075 1001.4,1069 1001.7,1063 1002.0,1069 1002.3,1057 1002.6,1080 1002.9,1061 1003.2,1074 1003.5,1056 1003.8,1056 1004.1,1068 1004.4,1068 1004.7,1082 1005.0,1062 1005.3,1068 1005.6,1068 1005.9,1089 1006.2,1064 1006.5,1047 1006.8,1042 1007.1,1057 1007.4,1063 1007.7,1047 1008.0,1047 1008.3,1051 1008.6,1063 1008.9,1072 1009.2,1055 1009.5,1054 1009.8,1082 1010.1,1088 1010.4,1071 1010.7,1056 1011.0,1055 1011.3,1071 1011.6,1037 1011.9,1038 1012.2,1071 1012.5,1038 1012.8,1046 1013.1,1083 1013.4,1048 1013.7,1072 1014.0,1050 1014.3,1039 1014.6,1060 1014.9,1053 1015.2,1065 1015.5,1035 1015.8,1061 1016.1,1058 1016.4,1065 1016.7,1058 1017.0,1042 1017.3,1072 1017.6,1067 1017.9,1067 1018.2,1062 1018.5,1059 1018.8,1046 1019.1,1030 1019.4,1032 1019.7,1051 1020.0,1023 1020.3,1044 1020.6,1064 1020.9,1039 1021.2,1077 1021.5,1029 1021.8,1060 1022.1,1025 1022.4,1055 1022.7,1072 1023.0,1045 1023.3,1032 1023.6,1032 1023.9,1056 1024.2,1058 1024.5,1051 1024.8,1039 1025.1,1031 1025.4,1034 1025.7,1031 1026.0,1024 1026.3,1060 1026.6,1064 1026.9,1065 1027.2,1071 1027.5,1039 1027.8,1023 1028.1,1051 1028.4,1045 1028.7,1033 1029.0,1054 1029.3,1042 1029.6,1056 1029.9,1052 1030.2,1034 1030.5,1045 1030.8,1037 1031.1,1048 1031.4,1042 1031.7,1029 1032.0,1048 1032.3,1039 1032.6,1040 1032.9,1044 1033.2,1073 1033.5,1050 1033.8,1043 1034.1,1039 1034.4,1027 1034.7,1050 1035.0,1052 1035.3,1046 1035.6,1064 1035.9,1061 1036.2,1065 1036.5,1053 1036.8,1076 1037.1,1064 1037.4,1047 1037.7,1054 1038.0,1066 1038.3,1043 1038.6,1068 1038.9,1044 1039.2,1024 1039.5,1057 1039.8,1040 1040.1,1047 1040.4,1044 1040.7,1060 1041.0,1045 1041.3,1057 1041.6,1034 1041.9,1046 1042.2,1037 1042.5,1045 1042.8,1074 1043.1,1035 1043.4,1051 1043.7,1041 1044.0,1052 1044.3,1036 1044.6,1040 1044.9,1025 1045.2,1065 1045.5,1050 1045.8,1053 1046.1,1033 1046.4,1071 1046.7,1066 1047.0,1047 1047.3,1056 1047.6,1050 1047.9,1066 1048.2,1025 1048.5,1057 1048.8,1058 1049.1,1066 1049.4,1042 1049.7,1046 1050.0,1042 1050.3,1070 1050.6,1064 1050.9,1073 1051.2,1071 1051.5,1070 1051.8,1046 1052.1,1059 1052.4,1080 1052.7,1067 1053.0,1049 1053.3,1051 1053.6,1055 1053.9,1057 1054.2,1061 1054.5,1058 1054.8,1063 1055.1,1071 1055.4,1065 1055.7,1042 1056.0,1083 1056.3,1053 1056.6,1048 1056.9,1072 1057.2,1077 1057.5,1066 1057.8,1077 1058.1,1058 1058.4,1059 1058.7,1046 1059.0,1074 1059.3,1062 1059.6,1080 1059.9,1053 1060.2,1070 1060.5,1055 1060.8,1074 1061.1,1050 1061.4,1067 1061.7,1034 1062.0,1040 1062.3,1038 1062.6,1058 1062.9,1016 1063.2,1028 1063.5,1046 1063.8,1043 1064.1,1043 1064.4,1050 1064.7,1041 1065.0,1053 1065.3,1061 1065.6,1032 1065.9,1060 1066.2,1032 1066.5,1024 1066.8,1040 1067.1,1038 1067.4,1043 1067.7,1023 1068.0,1037 1068.3,1031 1068.6,1053 1068.9,1041 1069.2,1034 1069.5,1030 1069.8,1045 1070.1,1074 1070.4,1028 1070.7,1044 1071.0,1072 1071.3,1071 1071.6,1057 1071.9,1060 1072.2,1058 1072.5,1053 1072.8,1062 1073.1,1073 1073.4,1071 1073.7,1047 1074.0,1064 1074.3,1058 1074.6,1082 1074.9,1047 1075.2,1049 1075.5,1045 1075.8,1108 1076.1,1083 1076.4,1056 1076.7,1070 1077.0,1033 1077.3,1051 1077.6,1084 1077.9,1050 1078.2,1033 1078.5,1042 1078.8,1041 1079.1,1046 1079.4,1046 1079.7,1041 1080.0,1026 1080.3,1045 1080.6,1045 1080.9,1023 1081.2,1052 1081.5,1042 1081.8,1067 1082.1,1050 1082.4,1035 1082.7,1032 1083.0,1068 1083.3,1060 1083.6,1053 1083.9,1057 1084.2,1028 1084.5,1062 1084.8,1045 1085.1,1047 1085.4,1061 1085.7,1055 1086.0,1028 1086.3,1057 1086.6,1047 1086.9,1065 1087.2,1053 1087.5,1059 1087.8,1039 1088.1,1042 1088.4,1039 1088.7,1059 1089.0,1044 1089.3,1053 1089.6,1088 1089.9,1073 1090.2,1095 1090.5,1055 1090.8,1054 1091.1,1061 1091.4,1076 1091.7,1058 1092.0,1096 1092.3,1057 1092.6,1088 1092.9,1056 1093.2,1058 1093.5,1074 1093.8,1068 1094.1,1064 1094.4,1062 1094.7,1072 1095.0,1060 1095.3,1093 1095.6,1079 1095.9,1075 1096.2,1055 1096.5,1107 1096.8,1073 1097.1,1060 1097.4,1057 1097.7,1035 1098.0,1061 1098.3,1042 1098.6,1050 1098.9,1087 1099.2,1065 1099.5,1059 1099.8,1093 1100.1,1062 1100.4,1099 1100.7,1068 1101.0,1078 1101.3,1068 1101.6,1066 1101.9,1077 1102.2,1092 1102.5,1075 1102.8,1059 1103.1,1049 1103.4,1088 1103.7,1061 1104.0,1055 1104.3,1074 1104.6,1074 1104.9,1074 1105.2,1057 1105.5,1039 1105.8,1072 1106.1,1064 1106.4,1064 1106.7,1053 1107.0,1073 1107.3,1067 1107.6,1071 1107.9,1084 1108.2,1064 1108.5,1063 1108.8,1063 1109.1,1045 1109.4,1060 1109.7,1078 1110.0,1074 1110.3,1054 1110.6,1044 1110.9,1066 1111.2,1059 1111.5,1060 1111.8,1077 1112.1,1053 1112.4,1070 1112.7,1059 1113.0,1066 1113.3,1044 1113.6,1052 1113.9,1057 1114.2,1050 1114.5,1053 1114.8,1047 1115.1,1075 1115.4,1020 1115.7,1060 1116.0,1051 1116.3,1033 1116.6,1040 1116.9,1028 1117.2,1056 1117.5,1058 1117.8,1053 1118.1,1069 1118.4,1024 1118.7,1029 1119.0,1040 1119.3,1056 1119.6,1052 1119.9,1031 1120.2,1046 1120.5,1056 1120.8,1025 1121.1,1052 1121.4,1057 1121.7,1059 1122.0,1058 1122.3,1039 1122.6,1014 1122.9,1023 1123.2,1029 1123.5,1038 1123.8,1052 1124.1,1042 1124.4,1047 1124.7,1062 1125.0,1023 1125.3,1049 1125.6,1056 1125.9,1067 1126.2,1081 1126.5,1067 1126.8,1040 1127.1,1064 1127.4,1046 1127.7,1065 1128.0,1052 1128.3,1055 1128.6,1068 1128.9,1057 1129.2,1068 1129.5,1068 1129.8,1077 1130.1,1063 1130.4,1057 1130.7,1049 1131.0,1081 1131.3,1083 1131.6,1061 1131.9,1050 1132.2,1084 1132.5,1075 1132.8,1085 1133.1,1074 1133.4,1089 1133.7,1077 1134.0,1069 1134.3,1083 1134.6,1053 1134.9,1067 1135.2,1068 1135.5,1062 1135.8,1070 1136.1,1059 1136.4,1042 1136.7,1090 1137.0,1063 1137.3,1059 1137.6,1044 1137.9,1063 1138.2,1060 1138.5,1044 1138.8,1079 1139.1,1076 1139.4,1040 1139.7,1076 1140.0,1057 1140.3,1078 1140.6,1076 1140.9,1084 1141.2,1079 1141.5,1093 1141.8,1069 1142.1,1070 1142.4,1070 1142.7,1069 1143.0,1103 1143.3,1076 1143.6,1090 1143.9,1075 1144.2,1070 1144.5,1082 1144.8,1060 1145.1,1077 1145.4,1084 1145.7,1067 1146.0,1068 1146.3,1060 1146.6,1075 1146.9,1079 1147.2,1081 1147.5,1062 1147.8,1068 1148.1,1057 1148.4,1074 1148.7,1079 1149.0,1072 1149.3,1069 1149.6,1076 1149.9,1075 1150.2,1078 1150.5,1062 1150.8,1060 1151.1,1064 1151.4,1058 1151.7,1073 1152.0,1094 1152.3,1067 1152.6,1042 1152.9,1051 1153.2,1047 1153.5,1065 1153.8,1059 1154.1,1079 1154.4,1055 1154.7,1052 1155.0,1070 1155.3,1041 1155.6,1054 1155.9,1071 1156.2,1060 1156.5,1064 1156.8,1047 1157.1,1041 1157.4,1058 1157.7,1077 1158.0,1057 1158.3,1050 1158.6,1044 1158.9,1089 1159.2,1043 1159.5,1055 1159.8,1046 1160.1,1070 1160.4,1036 1160.7,1039 1161.0,1059 1161.3,1034 1161.6,1061 1161.9,1069 1162.2,1054 1162.5,1019 1162.8,1044 1163.1,1050 1163.4,1072 1163.7,1076 1164.0,1070 1164.3,1058 1164.6,1056 1164.9,1059 1165.2,1053 1165.5,1056 1165.8,1055 1166.1,1063 1166.4,1081 1166.7,1045 1167.0,1088 1167.3,1070 1167.6,1073 1167.9,1059 1168.2,1058 1168.5,1074 1168.8,1051 1169.1,1043 1169.4,1053 1169.7,1046 1170.0,1072 1170.3,1056 1170.6,1062 1170.9,1056 1171.2,1057 1171.5,1074 1171.8,1065 1172.1,1082 1172.4,1040 1172.7,1072 1173.0,1080 1173.3,1069 1173.6,1047 1173.9,1071 1174.2,1069 1174.5,1090 1174.8,1088 1175.1,1086 1175.4,1074 1175.7,1074 1176.0,1071 1176.3,1080 1176.6,1064 1176.9,1070 1177.2,1071 1177.5,1056 1177.8,1057 1178.1,1044 1178.4,1037 1178.7,1042 1179.0,1039 1179.3,1028 1179.6,1050 1179.9,1059 1180.2,1060 1180.5,1068 1180.8,1045 1181.1,1079 1181.4,1044 1181.7,1053 1182.0,1068 1182.3,1030 1182.6,1058 1182.9,1059 1183.2,1084 1183.5,1049 1183.8,1060 1184.1,1027 1184.4,1061 1184.7,1041 1185.0,1045 1185.3,1072 1185.6,1055 1185.9,1046 1186.2,1074 1186.5,1066 1186.8,1058 1187.1,1042 1187.4,1053 1187.7,1045 1188.0,1058 1188.3,1056 1188.6,1059 1188.9,1052 1189.2,1057 1189.5,1073 1189.8,1054 1190.1,1073 1190.4,1073 1190.7,1073 1191.0,1040 1191.3,1075 1191.6,1067 1191.9,1072 1192.2,1062 1192.5,1063 1192.8,1052 1193.1,1050 1193.4,1071 1193.7,1055 1194.0,1060 1194.3,1079 1194.6,1084 1194.9,1065 1195.2,1040 1195.5,1071 1195.8,1079 1196.1,1068 1196.4,1062 1196.7,1053 1197.0,1070 1197.3,1105 1197.6,1078 1197.9,1065 1198.2,1058 1198.5,1077 1198.8,1053 1199.1,1065 1199.4,1069 1199.7,1069 1200.0,1078 1200.3,1072 1200.6,1056 1200.9,1044 1201.2,1074 1201.5,1036 1201.8,1053 1202.1,1100 1202.4,1063 1202.7,1093 1203.0,1066 1203.3,1081 1203.6,1086 1203.9,1094 1204.2,1075 1204.5,1065 1204.8,1081 1205.1,1062 1205.4,1063 1205.7,1097 1206.0,1072 1206.3,1101 1206.6,1100 1206.9,1074 1207.2,1079 1207.5,1081 1207.8,1098 1208.1,1084 1208.4,1099 1208.7,1082 1209.0,1097 1209.3,1078 1209.6,1097 1209.9,1089 1210.2,1094 1210.5,1088 1210.8,1050 1211.1,1096 1211.4,1071 1211.7,1048 1212.0,1058 1212.3,1052 1212.6,1072 1212.9,1058 1213.2,1062 1213.5,1075 1213.8,1042 1214.1,1043 1214.4,1066 1214.7,1043 1215.0,1076 1215.3,1049 1215.6,1053 1215.9,1077 1216.2,1088 1216.5,1067 1216.8,1061 1217.1,1048 1217.4,1062 1217.7,1060 1218.0,1051 1218.3,1059 1218.6,1077 1218.9,1067 1219.2,1031 1219.5,1087 1219.8,1079 1220.1,1047 1220.4,1081 1220.7,1048 1221.0,1071 1221.3,1066 1221.6,1050 1221.9,1068 1222.2,1065 1222.5,1065 1222.8,1045 1223.1,1072 1223.4,1059 1223.7,1080 1224.0,1074 1224.3,1072 1224.6,1048 1224.9,1089 1225.2,1068 1225.5,1063 1225.8,1056 1226.1,1063 1226.4,1078 1226.7,1036 1227.0,1069 1227.3,1046 1227.6,1050 1227.9,1067 1228.2,1068 1228.5,1057 1228.8,1064 1229.1,1079 1229.4,1060 1229.7,1043 1230.0,1053 1230.3,1052 1230.6,1077 1230.9,1053 1231.2,1036 1231.5,1041 1231.8,1076 1232.1,1067 1232.4,1046 1232.7,1043 1233.0,1074 1233.3,1047 1233.6,1062 1233.9,1077 1234.2,1075 1234.5,1054 1234.8,1075 1235.1,1047 1235.4,1072 1235.7,1061 1236.0,1044 1236.3,1087 1236.6,1068 1236.9,1077 1237.2,1066 1237.5,1112 1237.8,1095 1238.1,1073 1238.4,1104 1238.7,1091 1239.0,1101 1239.3,1053 1239.6,1085 1239.9,1067 1240.2,1080 1240.5,1077 1240.8,1086 1241.1,1054 1241.4,1076 1241.7,1061 1242.0,1093 1242.3,1082 1242.6,1085 1242.9,1089 1243.2,1084 1243.5,1063 1243.8,1071 1244.1,1042 1244.4,1059 1244.7,1057 1245.0,1057 1245.3,1062 1245.6,1055 1245.9,1077 1246.2,1064 1246.5,1051 1246.8,1045 1247.1,1041 1247.4,1064 1247.7,1037 1248.0,1061 1248.3,1034 1248.6,1049 1248.9,1035 1249.2,1060 1249.5,1058 1249.8,1050 1250.1,1037 1250.4,1023 1250.7,1054 1251.0,1076 1251.3,1050 1251.6,1067 1251.9,1052 1252.2,1073 1252.5,1052 1252.8,1081 1253.1,1052 1253.4,1060 1253.7,1086 1254.0,1067 1254.3,1065 1254.6,1062 1254.9,1069 1255.2,1051 1255.5,1049 1255.8,1085 1256.1,1065 1256.4,1068 1256.7,1066 1257.0,1068 1257.3,1082 1257.6,1069 1257.9,1064 1258.2,1057 1258.5,1067 1258.8,1080 1259.1,1056 1259.4,1057 1259.7,1078 1260.0,1064 1260.3,1075 1260.6,1045 1260.9,1048 1261.2,1044 1261.5,1063 1261.8,1036 1262.1,1063 1262.4,1055 1262.7,1062 1263.0,1067 1263.3,1069 1263.6,1025 1263.9,1066 1264.2,1073 1264.5,1054 1264.8,1069 1265.1,1069 1265.4,1072 1265.7,1048 1266.0,1081 1266.3,1047 1266.6,1072 1266.9,1075 1267.2,1075 1267.5,1074 1267.8,1089 1268.1,1079 1268.4,1075 1268.7,1086 1269.0,1051 1269.3,1064 1269.6,1053 1269.9,1051 1270.2,1080 1270.5,1068 1270.8,1086 1271.1,1073 1271.4,1023 1271.7,1058 1272.0,1056 1272.3,1053 1272.6,1086 1272.9,1056 1273.2,1079 1273.5,1064 1273.8,1066 1274.1,1061 1274.4,1094 1274.7,1071 1275.0,1059 1275.3,1076 1275.6,1056 1275.9,1094 1276.2,1060 1276.5,1068 1276.8,1080 1277.1,1063 1277.4,1097 1277.7,1076 1278.0,1077 1278.3,1076 1278.6,1075 1278.9,1076 1279.2,1100 1279.5,1070 1279.8,1058 1280.1,1088 1280.4,1084 1280.7,1064 1281.0,1063 1281.3,1086 1281.6,1070 1281.9,1066 1282.2,1064 1282.5,1056 1282.8,1072 1283.1,1044 1283.4,1046 1283.7,1037 1284.0,1053 1284.3,1045 1284.6,1064 1284.9,1051 1285.2,1059 1285.5,1071 1285.8,1064 1286.1,1054 1286.4,1057 1286.7,1055 1287.0,1066 1287.3,1068 1287.6,1085 1287.9,1078 1288.2,1074 1288.5,1061 1288.8,1074 1289.1,1056 1289.4,1044 1289.7,1077 1290.0,1082 1290.3,1027 1290.6,1084 1290.9,1048 1291.2,1056 1291.5,1077 1291.8,1067 1292.1,1069 1292.4,1055 1292.7,1087 1293.0,1068 1293.3,1066 1293.6,1091 1293.9,1069 1294.2,1076 1294.5,1078 1294.8,1066 1295.1,1047 1295.4,1072 1295.7,1054 1296.0,1079 1296.3,1076 1296.6,1018 1296.9,1087 1297.2,1042 1297.5,1063 1297.8,1065 1298.1,1059 1298.4,1066 1298.7,1080 1299.0,1067 1299.3,1062 1299.6,1067 1299.9,1066 1300.2,1066 1300.5,1068 1300.8,1068 1301.1,1083 1301.4,1062 1301.7,1057 1302.0,1090 1302.3,1069 1302.6,1090 1302.9,1074 1303.2,1060 1303.5,1077 1303.8,1097 1304.1,1060 1304.4,1065 1304.7,1049 1305.0,1073 1305.3,1068 1305.6,1100 1305.9,1040 1306.2,1078 1306.5,1073 1306.8,1080 1307.1,1070 1307.4,1077 1307.7,1067 1308.0,1070 1308.3,1088 1308.6,1043 1308.9,1092 1309.2,1068 1309.5,1077 1309.8,1094 1310.1,1095 1310.4,1082 1310.7,1078 1311.0,1059 1311.3,1080 1311.6,1076 1311.9,1072 1312.2,1065 1312.5,1078 1312.8,1085 1313.1,1069 1313.4,1055 1313.7,1083 1314.0,1061 1314.3,1065 1314.6,1069 1314.9,1066 1315.2,1057 1315.5,1061 1315.8,1071 1316.1,1065 1316.4,1074 1316.7,1083 1317.0,1088 1317.3,1060 1317.6,1066 1317.9,1070 1318.2,1071 1318.5,1079 1318.8,1074 1319.1,1048 1319.4,1050 1319.7,1073 1320.0,1083 1320.3,1082 1320.6,1070 1320.9,1068 1321.2,1044 1321.5,1039 1321.8,1057 1322.1,1095 1322.4,1070 1322.7,1050 1323.0,1045 1323.3,1047 1323.6,1045 1323.9,1072 1324.2,1039 1324.5,1061 1324.8,1046 1325.1,1059 1325.4,1070 1325.7,1056 1326.0,1057 1326.3,1046 1326.6,1048 1326.9,1079 1327.2,1050 1327.5,1057 1327.8,1043 1328.1,1066 1328.4,1048 1328.7,1064 1329.0,1056 1329.3,1052 1329.6,1066 1329.9,1072 1330.2,1047 1330.5,1075 1330.8,1064 1331.1,1073 1331.4,1076 1331.7,1054 1332.0,1057 1332.3,1064 1332.6,1074 1332.9,1027 1333.2,1080 1333.5,1054 1333.8,1034 1334.1,1053 1334.4,1041 1334.7,1079 1335.0,1046 1335.3,1043 1335.6,1046 1335.9,1038 1336.2,1052 1336.5,1057 1336.8,1051 1337.1,1037 1337.4,1061 1337.7,1048 1338.0,1047 1338.3,1065 1338.6,1054 1338.9,1015 1339.2,1060 1339.5,1028 1339.8,1038 1340.1,1050 1340.4,1057 1340.7,1061 1341.0,1051 1341.3,1067 1341.6,1062 1341.9,1052 1342.2,1034 1342.5,1062 1342.8,1038 1343.1,1042 1343.4,1044 1343.7,1041 1344.0,1018 1344.3,1046 1344.6,1032 1344.9,1034 1345.2,1052 1345.5,1064 1345.8,1043 1346.1,1028 1346.4,1030 1346.7,1053 1347.0,1038 1347.3,1023 1347.6,1069 1347.9,1051 1348.2,1033 1348.5,1034 1348.8,1023 1349.1,1017 1349.4,1050 1349.7,1038 1350.0,1069 1350.3,1045 1350.6,1053 1350.9,1068 1351.2,1040 1351.5,1067 1351.8,1040 1352.1,1096 1352.4,1047 1352.7,1055 1353.0,1101 1353.3,1063 1353.6,1079 1353.9,1069 1354.2,1040 1354.5,1071 1354.8,1057 1355.1,1093 1355.4,1054 1355.7,1091 1356.0,1061 1356.3,1070 1356.6,1098 1356.9,1057 1357.2,1056 1357.5,1069 1357.8,1046 1358.1,1070 1358.4,1070 1358.7,1058 1359.0,1033 1359.3,1026 1359.6,1045 1359.9,1050 1360.2,1024 1360.5,1052 1360.8,1057 1361.1,1057 1361.4,1074 1361.7,1051 1362.0,1063 1362.3,1049 1362.6,1076 1362.9,1061 1363.2,1063 1363.5,1070 1363.8,1043 1364.1,1085 1364.4,1066 1364.7,1073 1365.0,1075 1365.3,1115 1365.6,1080 1365.9,1072 1366.2,1079 1366.5,1076 1366.8,1075 1367.1,1081 1367.4,1092 1367.7,1061 1368.0,1081 1368.3,1072 1368.6,1074 1368.9,1085 1369.2,1069 1369.5,1035 1369.8,1079 1370.1,1079 1370.4,1078 1370.7,1059 1371.0,1092 1371.3,1066 1371.6,1058 1371.9,1096 1372.2,1035 1372.5,1079 1372.8,1077 1373.1,1065 1373.4,1059 1373.7,1090 1374.0,1086 1374.3,1092 1374.6,1070 1374.9,1067 1375.2,1067 1375.5,1048 1375.8,1084 1376.1,1081 1376.4,1074 1376.7,1044 1377.0,1059 1377.3,1066 1377.6,1068 1377.9,1049 1378.2,1069 1378.5,1082 1378.8,1041 1379.1,1052 1379.4,1039 1379.7,1037 1380.0,1049 1380.3,1062 1380.6,1065 1380.9,1056 1381.2,1072 1381.5,1068 1381.8,1053 1382.1,1067 1382.4,1061 1382.7,1061 1383.0,1045 1383.3,1067 1383.6,1049 1383.9,1078 1384.2,1055 1384.5,1067 1384.8,1050 1385.1,1033 1385.4,1057 1385.7,1041 1386.0,1054 1386.3,1049 1386.6,1083 1386.9,1053 1387.2,1056 1387.5,1055 1387.8,1080 1388.1,1061 1388.4,1059 1388.7,1082 1389.0,1077 1389.3,1056 1389.6,1037 1389.9,1068 1390.2,1057 1390.5,1046 1390.8,1064 1391.1,1060 1391.4,1042 1391.7,1068 1392.0,1063 1392.3,1078 1392.6,1058 1392.9,1081 1393.2,1062 1393.5,1061 1393.8,1067 1394.1,1074 1394.4,1054 1394.7,1085 1395.0,1073 1395.3,1082 1395.6,1072 1395.9,1076 1396.2,1073 1396.5,1051 1396.8,1049 1397.1,1065 1397.4,1097 1397.7,1055 1398.0,1077 1398.3,1085 1398.6,1065 1398.9,1078 1399.2,1072 1399.5,1101 1399.8,1083 1400.1,1049 1400.4,1064 1400.7,1047 1401.0,1060 1401.3,1050 1401.6,1047 1401.9,1079 1402.2,1063 1402.5,1064 1402.8,1072 1403.1,1074 1403.4,1060 1403.7,1030 1404.0,1071 1404.3,1063 1404.6,1031 1404.9,1052 1405.2,1044 1405.5,1043 1405.8,1073 1406.1,1052 1406.4,1059 1406.7,1052 1407.0,1078 1407.3,1043 1407.6,1061 1407.9,1075 1408.2,1062 1408.5,1052 1408.8,1041 1409.1,1079 1409.4,1071 1409.7,1067 1410.0,1062 1410.3,1073 1410.6,1069 1410.9,1041 1411.2,1060 1411.5,1074 1411.8,1079 1412.1,1027 1412.4,1068 1412.7,1081 1413.0,1065 1413.3,1079 1413.6,1056 1413.9,1062 1414.2,1056 1414.5,1054 1414.8,1070 1415.1,1058 1415.4,1073 1415.7,1068 1416.0,1045 1416.3,1073 1416.6,1028 1416.9,1054 1417.2,1049 1417.5,1043 1417.8,1060 1418.1,1074 1418.4,1066 1418.7,1059 1419.0,1037 1419.3,1060 1419.6,1045 1419.9,1044 1420.2,1056 1420.5,1041 1420.8,1042 1421.1,1057 1421.4,1044 1421.7,1064 1422.0,1035 1422.3,1065 1422.6,1064 1422.9,1058 1423.2,1043 1423.5,1068 1423.8,1048 1424.1,1073 1424.4,1066 1424.7,1045 1425.0,1065 1425.3,1069 1425.6,1069 1425.9,1061 1426.2,1062 1426.5,1085 1426.8,1064 1427.1,1069 1427.4,1061 1427.7,1037 1428.0,1065 1428.3,1053 1428.6,1056 1428.9,1052 1429.2,1043 1429.5,1046 1429.8,1043 1430.1,1060 1430.4,1046 1430.7,1050 1431.0,1041 1431.3,1071 1431.6,1055 1431.9,1060 1432.2,1068 1432.5,1053 1432.8,1067 1433.1,1078 1433.4,1098 1433.7,1074 1434.0,1070 1434.3,1078 1434.6,1071 1434.9,1056 1435.2,1072 1435.5,1069 1435.8,1078 1436.1,1034 1436.4,1074 1436.7,1070 1437.0,1073 1437.3,1063 1437.6,1068 1437.9,1045 1438.2,1057 1438.5,1053 1438.8,1081 1439.1,1073 1439.4,1058 1439.7,1043 1440.0,1069 1440.3,1076 1440.6,1055 1440.9,1073 1441.2,1070 1441.5,1081 1441.8,1077 1442.1,1070 1442.4,1073 1442.7,1097 1443.0,1089 1443.3,1095 1443.6,1081 1443.9,1081 1444.2,1096 1444.5,1070 1444.8,1077 1445.1,1078 1445.4,1056 1445.7,1101 1446.0,1049 1446.3,1052 1446.6,1059 1446.9,1074 1447.2,1082 1447.5,1093 1447.8,1079 1448.1,1059 1448.4,1075 1448.7,1045 1449.0,1087 1449.3,1063 1449.6,1031 1449.9,1062 1450.2,1067 1450.5,1043 1450.8,1051 1451.1,1053 1451.4,1058 1451.7,1040 1452.0,1066 1452.3,1052 1452.6,1025 1452.9,1041 1453.2,1074 1453.5,1079 1453.8,1065 1454.1,1056 1454.4,1048 1454.7,1034 1455.0,1034 1455.3,1074 1455.6,1020 1455.9,1055 1456.2,1077 1456.5,1059 1456.8,1033 1457.1,1047 1457.4,1060 1457.7,1038 1458.0,1048 1458.3,1065 1458.6,1039 1458.9,1053 1459.2,1060 1459.5,1057 1459.8,1057 1460.1,1067 1460.4,1072 1460.7,1077 1461.0,1079 1461.3,1069 1461.6,1055 1461.9,1052 1462.2,1077 1462.5,1058 1462.8,1048 1463.1,1067 1463.4,1058 1463.7,1066 1464.0,1047 1464.3,1063 1464.6,1087 1464.9,1074 1465.2,1058 1465.5,1065 1465.8,1084 1466.1,1075 1466.4,1080 1466.7,1055 1467.0,1076 1467.3,1072 1467.6,1073 1467.9,1102 1468.2,1068 1468.5,1065 1468.8,1071 1469.1,1053 1469.4,1061 1469.7,1052 1470.0,1067 1470.3,1060 1470.6,1041 1470.9,1058 1471.2,1050 1471.5,1035 1471.8,1060 1472.1,1084 1472.4,1022 1472.7,1060 1473.0,1083 1473.3,1077 1473.6,1082 1473.9,1089 1474.2,1068 1474.5,1083 1474.8,1080 1475.1,1055 1475.4,1039 1475.7,1091 1476.0,1077 1476.3,1059 1476.6,1047 1476.9,1036 1477.2,1060 1477.5,1052 1477.8,1045 1478.1,1049 1478.4,1061 1478.7,1055 1479.0,1059 1479.3,1035 1479.6,1076 1479.9,1062 1480.2,1058 1480.5,1061 1480.8,1047 1481.1,1064 1481.4,1062 1481.7,1063 1482.0,1085 1482.3,1076 1482.6,1059 1482.9,1051 1483.2,1075 1483.5,1061 1483.8,1069 1484.1,1068 1484.4,1051 1484.7,1082 1485.0,1071 1485.3,1065 1485.6,1079 1485.9,1073 1486.2,1067 1486.5,1040 1486.8,1079 1487.1,1096 1487.4,1079 1487.7,1079 1488.0,1077 1488.3,1072 1488.6,1058 1488.9,1114 1489.2,1078 1489.5,1075 1489.8,1083 1490.1,1106 1490.4,1048 1490.7,1081 1491.0,1054 1491.3,1062 1491.6,1069 1491.9,1062 1492.2,1069 1492.5,1057 1492.8,1103 1493.1,1056 1493.4,1042 1493.7,1069 1494.0,1070 1494.3,1048 1494.6,1083 1494.9,1066 1495.2,1084 1495.5,1079 1495.8,1092 1496.1,1074 1496.4,1059 1496.7,1064 1497.0,1070 1497.3,1063 1497.6,1062 1497.9,1073 1498.2,1068 1498.5,1062 1498.8,1048 1499.1,1047 1499.4,1067 1499.7,1078 1500.0,1074 1500.3,1042 1500.6,1062 1500.9,1066 1501.2,1075 1501.5,1068 1501.8,1054 1502.1,1047 1502.4,1052 1502.7,1058 1503.0,1051 1503.3,1081 1503.6,1085 1503.9,1052 1504.2,1052 1504.5,1032 1504.8,1074 1505.1,1065 1505.4,1067 1505.7,1050 1506.0,1050 1506.3,1050 1506.6,1054 1506.9,1065 1507.2,1070 1507.5,1050 1507.8,1041 1508.1,1073 1508.4,1024 1508.7,1061 1509.0,1045 1509.3,1056 1509.6,1039 1509.9,1046 1510.2,1059 1510.5,1049 1510.8,1066 1511.1,1036 1511.4,1053 1511.7,1058 1512.0,1062 1512.3,1069 1512.6,1070 1512.9,1097 1513.2,1072 1513.5,1052 1513.8,1080 1514.1,1085 1514.4,1053 1514.7,1068 1515.0,1070 1515.3,1050 1515.6,1067 1515.9,1047 1516.2,1043 1516.5,1082 1516.8,1081 1517.1,1095 1517.4,1057 1517.7,1066 1518.0,1062 1518.3,1070 1518.6,1056 1518.9,1047 1519.2,1099 1519.5,1080 1519.8,1064 1520.1,1075 1520.4,1090 1520.7,1070 1521.0,1082 1521.3,1081 1521.6,1083 1521.9,1083 1522.2,1058 1522.5,1069 1522.8,1073 1523.1,1072 1523.4,1061 1523.7,1042 1524.0,1068 1524.3,1059 1524.6,1066 1524.9,1064 1525.2,1062 1525.5,1052 1525.8,1053 1526.1,1053 1526.4,1071 1526.7,1057 1527.0,1058 1527.3,1066 1527.6,1063 1527.9,1052 1528.2,1070 1528.5,1060 1528.8,1068 1529.1,1044 1529.4,1047 1529.7,1092 1530.0,1076 1530.3,1062 1530.6,1059 1530.9,1092 1531.2,1056 1531.5,1074 1531.8,1068 1532.1,1053 1532.4,1094 1532.7,1068 1533.0,1081 1533.3,1069 1533.6,1086 1533.9,1091 1534.2,1061 1534.5,1071 1534.8,1108 1535.1,1083 1535.4,1065 1535.7,1097 1536.0,1087 1536.3,1086 1536.6,1062 1536.9,1083 1537.2,1074 1537.5,1081 1537.8,1075 1538.1,1067 1538.4,1063 1538.7,1074 1539.0,1081 1539.3,1056 1539.6,1065 1539.9,1093 1540.2,1066 1540.5,1082 1540.8,1089 1541.1,1063 1541.4,1058 1541.7,1060 1542.0,1072 1542.3,1080 1542.6,1080 1542.9,1081 1543.2,1037 1543.5,1058 1543.8,1092 1544.1,1056 1544.4,1055 1544.7,1069 1545.0,1080 1545.3,1081 1545.6,1034 1545.9,1045 1546.2,1049 1546.5,1061 1546.8,1059 1547.1,1047 1547.4,1066 1547.7,1081 1548.0,1068 1548.3,1081 1548.6,1064 1548.9,1055 1549.2,1054 1549.5,1090 1549.8,1050 1550.1,1048 1550.4,1069 1550.7,1058 1551.0,1051 1551.3,1072 1551.6,1059 1551.9,1036 1552.2,1054 1552.5,1074 1552.8,1078 1553.1,1077 1553.4,1061 1553.7,1053 1554.0,1040 1554.3,1065 1554.6,1075 1554.9,1060 1555.2,1074 1555.5,1095 1555.8,1075 1556.1,1081 1556.4,1069 1556.7,1067 1557.0,1097 1557.3,1063 1557.6,1052 1557.9,1061 1558.2,1061 1558.5,1086 1558.8,1069 1559.1,1077 1559.4,1068 1559.7,1053 1560.0,1056 1560.3,1079 1560.6,1075 1560.9,1065 1561.2,1077 1561.5,1062 1561.8,1085 1562.1,1076 1562.4,1099 1562.7,1088 1563.0,1091 1563.3,1080 1563.6,1082 1563.9,1086 1564.2,1083 1564.5,1075 1564.8,1070 1565.1,1086 1565.4,1080 1565.7,1052 1566.0,1073 1566.3,1073 1566.6,1075 1566.9,1071 1567.2,1073 1567.5,1080 1567.8,1076 1568.1,1058 1568.4,1075 1568.7,1060 1569.0,1054 1569.3,1083 1569.6,1056 1569.9,1065 1570.2,1047 1570.5,1066 1570.8,1036 1571.1,1041 1571.4,1053 1571.7,1062 1572.0,1056 1572.3,1074 1572.6,1070 1572.9,1070 1573.2,1071 1573.5,1083 1573.8,1082 1574.1,1058 1574.4,1073 1574.7,1066 1575.0,1068 1575.3,1068 1575.6,1074 1575.9,1038 1576.2,1069 1576.5,1078 1576.8,1072 1577.1,1053 1577.4,1080 1577.7,1080 1578.0,1079 1578.3,1057 1578.6,1098" fill="none" stroke="#7ab851" stroke-width="3.0" stroke-linejoin="miter" stroke-miterlimit="2"/><polyline points="174.0,1088 174.3,1041 174.6,1080 174.9,1072 175.2,1084 175.5,1076 175.8,1091 176.1,1074 176.4,1070 176.7,1081 177.0,1080 177.3,1072 177.6,1074 177.9,1083 178.2,1082 178.5,1071 178.8,1072 179.1,1058 179.4,1090 179.7,1072 180.0,1087 180.3,1078 180.6,1092 180.9,1088 181.2,1077 181.5,1088 181.8,1066 182.1,1087 182.4,1061 182.7,1079 183.0,1086 183.3,1079 183.6,1073 183.9,1069 184.2,1074 184.5,1087 184.8,1085 185.1,1074 185.4,1064 185.7,1081 186.0,1060 186.3,1068 186.6,1065 186.9,1077 187.2,1071 187.5,1071 187.8,1068 188.1,1057 188.4,1067 188.7,1075 189.0,1060 189.3,1066 189.6,1059 189.9,1070 190.2,1067 190.5,1069 190.8,1065 191.1,1078 191.4,1060 191.7,1061 192.0,1060 192.3,1072 192.6,1061 192.9,1062 193.2,1075 193.5,1080 193.8,1074 194.1,1044 194.4,1060 194.7,1059 195.0,1058 195.3,1065 195.6,1085 195.9,1065 196.2,1060 196.5,1073 196.8,1066 197.1,1066 197.4,1058 197.7,1064 198.0,1068 198.3,1045 198.6,1048 198.9,1074 199.2,1072 199.5,1060 199.8,1056 200.1,1065 200.4,1056 200.7,1065 201.0,1084 201.3,1070 201.6,1080 201.9,1067 202.2,1072 202.5,1081 202.8,1054 203.1,1062 203.4,1062 203.7,1064 204.0,1074 204.3,1064 204.6,1041 204.9,1050 205.2,1043 205.5,1042 205.8,1070 206.1,1042 206.4,1056 206.7,1050 207.0,1068 207.3,1068 207.6,1070 207.9,1073 208.2,1090 208.5,1081 208.8,1090 209.1,1095 209.4,1109 209.7,1107 210.0,1107 210.3,1111 210.6,1119 210.9,1112 211.2,1115 211.5,1114 211.8,1113 212.1,1110 212.4,1111 212.7,1111 213.0,1101 213.3,1123 213.6,1115 213.9,1110 214.2,1108 214.5,1104 214.8,1112 215.1,1105 215.4,1108 215.7,1098 216.0,1105 216.3,1112 216.6,1099 216.9,1102 217.2,1096 217.5,1098 217.8,1094 218.1,1085 218.4,1077 218.7,1076 219.0,1069 219.3,1056 219.6,1044 219.9,1022 220.2,989 220.5,961 220.8,940 221.1,893 221.4,851 221.7,822 222.0,768 222.3,720 222.6,685 222.9,652 223.2,628 223.5,604 223.8,564 224.1,552 224.4,514 224.7,494 225.0,469 225.3,444 225.6,420 225.9,401 226.2,379 226.5,373 226.8,369 227.1,364 227.4,367 227.7,355 228.0,349 228.3,350 228.6,339 228.9,326 229.2,315 229.5,336 229.8,328 230.1,327 230.4,315 230.7,319 231.0,332 231.3,315 231.6,298 231.9,304 232.2,324 232.5,295 232.8,278 233.1,281 233.4,292 233.7,317 234.0,309 234.3,299 234.6,293 234.9,307 235.2,306 235.5,301 235.8,305 236.1,298 236.4,328 236.7,279 237.0,309 237.3,295 237.6,316 237.9,306 238.2,313 238.5,316 238.8,313 239.1,324 239.4,296 239.7,326 240.0,313 240.3,321 240.6,336 240.9,331 241.2,342 241.5,291 241.8,307 242.1,331 242.4,305 242.7,317 243.0,340 243.3,329 243.6,306 243.9,323 244.2,325 244.5,317 244.8,315 245.1,317 245.4,296 245.7,316 246.0,301 246.3,318 246.6,320 246.9,304 247.2,326 247.5,325 247.8,323 248.1,337 248.4,328 248.7,332 249.0,341 249.3,344 249.6,363 249.9,322 250.2,352 250.5,334 250.8,357 251.1,370 251.4,370 251.7,385 252.0,379 252.3,342 252.6,365 252.9,401 253.2,403 253.5,386 253.8,366 254.1,415 254.4,361 254.7,393 255.0,390 255.3,395 255.6,379 255.9,390 256.2,411 256.5,393 256.8,384 257.1,403 257.4,407 257.7,406 258.0,400 258.3,420 258.6,413 258.9,401 259.2,421 259.5,419 259.8,423 260.1,400 260.4,414 260.7,431 261.0,438 261.3,432 261.6,431 261.9,441 262.2,446 262.5,459 262.8,445 263.1,434 263.4,451 263.7,422 264.0,452 264.3,448 264.6,456 264.9,466 265.2,462 265.5,444 265.8,460 266.1,456 266.4,467 266.7,472 267.0,456 267.3,478 267.6,486 267.9,466 268.2,479 268.5,451 268.8,464 269.1,484 269.4,449 269.7,467 270.0,463 270.3,490 270.6,492 270.9,470 271.2,481 271.5,447 271.8,494 272.1,490 272.4,505 272.7,458 273.0,497 273.3,490 273.6,463 273.9,491 274.2,502 274.5,516 274.8,511 275.1,505 275.4,520 275.7,516 276.0,511 276.3,509 276.6,526 276.9,528 277.2,552 277.5,523 277.8,552 278.1,537 278.4,549 278.7,523 279.0,524 279.3,533 279.6,550 279.9,541 280.2,550 280.5,545 280.8,556 281.1,546 281.4,537 281.7,552 282.0,547 282.3,570 282.6,546 282.9,551 283.2,547 283.5,568 283.8,566 284.1,564 284.4,541 284.7,539 285.0,564 285.3,572 285.6,584 285.9,542 286.2,565 286.5,546 286.8,558 287.1,569 287.4,586 287.7,568 288.0,567 288.3,573 288.6,596 288.9,612 289.2,561 289.5,578 289.8,577 290.1,600 290.4,591 290.7,606 291.0,573 291.3,588 291.6,583 291.9,576 292.2,590 292.5,579 292.8,626 293.1,604 293.4,588 293.7,596 294.0,630 294.3,603 294.6,621 294.9,622 295.2,631 295.5,628 295.8,618 296.1,615 296.4,601 296.7,626 297.0,630 297.3,625 297.6,629 297.9,616 298.2,663 298.5,629 298.8,623 299.1,631 299.4,639 299.7,653 300.0,612 300.3,654 300.6,641 300.9,649 301.2,668 301.5,667 301.8,649 302.1,660 302.4,689 302.7,684 303.0,680 303.3,670 303.6,686 303.9,680 304.2,670 304.5,666 304.8,689 305.1,689 305.4,702 305.7,682 306.0,709 306.3,688 306.6,712 306.9,704 307.2,691 307.5,688 307.8,702 308.1,702 308.4,720 308.7,700 309.0,691 309.3,713 309.6,741 309.9,739 310.2,711 310.5,718 310.8,728 311.1,717 311.4,724 311.7,726 312.0,717 312.3,725 312.6,728 312.9,739 313.2,721 313.5,739 313.8,725 314.1,728 314.4,723 314.7,793 315.0,756 315.3,757 315.6,751 315.9,737 316.2,741 316.5,745 316.8,748 317.1,751 317.4,764 317.7,704 318.0,738 318.3,755 318.6,742 318.9,746 319.2,769 319.5,752 319.8,775 320.1,751 320.4,755 320.7,739 321.0,727 321.3,749 321.6,757 321.9,752 322.2,739 322.5,767 322.8,761 323.1,761 323.4,751 323.7,784 324.0,783 324.3,768 324.6,763 324.9,768 325.2,788 325.5,804 325.8,767 326.1,761 326.4,743 326.7,806 327.0,754 327.3,781 327.6,776 327.9,788 328.2,759 328.5,749 328.8,773 329.1,777 329.4,787 329.7,749 330.0,766 330.3,769 330.6,755 330.9,772 331.2,786 331.5,775 331.8,757 332.1,782 332.4,790 332.7,786 333.0,790 333.3,758 333.6,787 333.9,789 334.2,777 334.5,782 334.8,773 335.1,801 335.4,781 335.7,773 336.0,789 336.3,789 336.6,797 336.9,777 337.2,780 337.5,795 337.8,820 338.1,796 338.4,772 338.7,792 339.0,780 339.3,765 339.6,781 339.9,783 340.2,797 340.5,811 340.8,810 341.1,807 341.4,792 341.7,802 342.0,802 342.3,824 342.6,799 342.9,804 343.2,834 343.5,824 343.8,813 344.1,824 344.4,826 344.7,828 345.0,838 345.3,834 345.6,828 345.9,824 346.2,809 346.5,828 346.8,850 347.1,838 347.4,827 347.7,834 348.0,826 348.3,842 348.6,866 348.9,863 349.2,855 349.5,850 349.8,836 350.1,822 350.4,839 350.7,833 351.0,850 351.3,840 351.6,830 351.9,843 352.2,876 352.5,824 352.8,851 353.1,844 353.4,834 353.7,825 354.0,836 354.3,839 354.6,847 354.9,847 355.2,843 355.5,832 355.8,847 356.1,839 356.4,834 356.7,863 357.0,845 357.3,841 357.6,861 357.9,836 358.2,864 358.5,873 358.8,864 359.1,874 359.4,901 359.7,892 360.0,887 360.3,882 360.6,868 360.9,873 361.2,871 361.5,875 361.8,876 362.1,863 362.4,896 362.7,860 363.0,879 363.3,889 363.6,874 363.9,866 364.2,876 364.5,902 364.8,884 365.1,873 365.4,885 365.7,875 366.0,853 366.3,882 366.6,893 366.9,895 367.2,879 367.5,861 367.8,897 368.1,878 368.4,890 368.7,896 369.0,885 369.3,879 369.6,871 369.9,874 370.2,880 370.5,873 370.8,884 371.1,853 371.4,867 371.7,881 372.0,872 372.3,875 372.6,868 372.9,894 373.2,908 373.5,874 373.8,905 374.1,871 374.4,895 374.7,868 375.0,903 375.3,899 375.6,903 375.9,919 376.2,912 376.5,906 376.8,897 377.1,910 377.4,901 377.7,906 378.0,932 378.3,925 378.6,917 378.9,922 379.2,894 379.5,916 379.8,892 380.1,906 380.4,920 380.7,921 381.0,925 381.3,918 381.6,917 381.9,916 382.2,935 382.5,933 382.8,895 383.1,915 383.4,930 383.7,909 384.0,914 384.3,903 384.6,895 384.9,913 385.2,906 385.5,910 385.8,894 386.1,899 386.4,915 386.7,913 387.0,928 387.3,908 387.6,934 387.9,934 388.2,929 388.5,937 388.8,928 389.1,927 389.4,930 389.7,913 390.0,929 390.3,940 390.6,906 390.9,936 391.2,917 391.5,920 391.8,924 392.1,925 392.4,939 392.7,918 393.0,943 393.3,921 393.6,927 393.9,931 394.2,914 394.5,909 394.8,928 395.1,938 395.4,942 395.7,928 396.0,959 396.3,935 396.6,929 396.9,956 397.2,958 397.5,929 397.8,953 398.1,925 398.4,942 398.7,972 399.0,958 399.3,949 399.6,948 399.9,927 400.2,941 400.5,942 400.8,921 401.1,937 401.4,941 401.7,936 402.0,939 402.3,930 402.6,918 402.9,933 403.2,907 403.5,924 403.8,949 404.1,960 404.4,942 404.7,905 405.0,957 405.3,948 405.6,939 405.9,953 406.2,951 406.5,928 406.8,927 407.1,959 407.4,915 407.7,954 408.0,950 408.3,959 408.6,970 408.9,964 409.2,967 409.5,957 409.8,952 410.1,959 410.4,944 410.7,930 411.0,941 411.3,919 411.6,931 411.9,965 412.2,942 412.5,931 412.8,923 413.1,906 413.4,920 413.7,915 414.0,924 414.3,924 414.6,921 414.9,896 415.2,941 415.5,927 415.8,922 416.1,919 416.4,930 416.7,943 417.0,936 417.3,914 417.6,915 417.9,902 418.2,937 418.5,947 418.8,955 419.1,942 419.4,953 419.7,930 420.0,951 420.3,943 420.6,937 420.9,924 421.2,963 421.5,918 421.8,958 422.1,940 422.4,960 422.7,945 423.0,964 423.3,951 423.6,941 423.9,948 424.2,934 424.5,960 424.8,970 425.1,961 425.4,957 425.7,972 426.0,938 426.3,961 426.6,953 426.9,946 427.2,959 427.5,936 427.8,950 428.1,957 428.4,937 428.7,950 429.0,961 429.3,968 429.6,943 429.9,968 430.2,952 430.5,958 430.8,949 431.1,967 431.4,947 431.7,960 432.0,961 432.3,965 432.6,941 432.9,965 433.2,955 433.5,974 433.8,950 434.1,948 434.4,955 434.7,952 435.0,954 435.3,939 435.6,929 435.9,937 436.2,949 436.5,962 436.8,952 437.1,943 437.4,953 437.7,956 438.0,992 438.3,972 438.6,957 438.9,935 439.2,953 439.5,952 439.8,964 440.1,985 440.4,957 440.7,931 441.0,957 441.3,936 441.6,970 441.9,973 442.2,963 442.5,937 442.8,954 443.1,972 443.4,942 443.7,947 444.0,958 444.3,962 444.6,957 444.9,961 445.2,961 445.5,952 445.8,961 446.1,968 446.4,951 446.7,971 447.0,972 447.3,979 447.6,979 447.9,961 448.2,960 448.5,981 448.8,976 449.1,979 449.4,970 449.7,960 450.0,981 450.3,975 450.6,984 450.9,989 451.2,988 451.5,985 451.8,957 452.1,940 452.4,959 452.7,950 453.0,947 453.3,973 453.6,941 453.9,975 454.2,977 454.5,998 454.8,976 455.1,990 455.4,953 455.7,953 456.0,976 456.3,945 456.6,978 456.9,958 457.2,935 457.5,986 457.8,946 458.1,994 458.4,940 458.7,948 459.0,963 459.3,960 459.6,939 459.9,962 460.2,963 460.5,968 460.8,940 461.1,954 461.4,962 461.7,974 462.0,966 462.3,959 462.6,958 462.9,984 463.2,953 463.5,969 463.8,936 464.1,988 464.4,972 464.7,942 465.0,975 465.3,986 465.6,978 465.9,968 466.2,979 466.5,957 466.8,964 467.1,962 467.4,967 467.7,952 468.0,983 468.3,962 468.6,949 468.9,960 469.2,967 469.5,962 469.8,976 470.1,956 470.4,951 470.7,968 471.0,978 471.3,948 471.6,940 471.9,952 472.2,960 472.5,947 472.8,963 473.1,949 473.4,973 473.7,944 474.0,947 474.3,960 474.6,968 474.9,971 475.2,948 475.5,957 475.8,963 476.1,975 476.4,943 476.7,938 477.0,961 477.3,951 477.6,973 477.9,955 478.2,960 478.5,946 478.8,961 479.1,976 479.4,958 479.7,947 480.0,977 480.3,963 480.6,971 480.9,963 481.2,987 481.5,967 481.8,973 482.1,981 482.4,980 482.7,954 483.0,991 483.3,969 483.6,989 483.9,979 484.2,982 484.5,972 484.8,966 485.1,981 485.4,980 485.7,989 486.0,981 486.3,963 486.6,987 486.9,1000 487.2,980 487.5,967 487.8,956 488.1,970 488.4,949 488.7,979 489.0,963 489.3,960 489.6,970 489.9,950 490.2,942 490.5,959 490.8,981 491.1,953 491.4,976 491.7,940 492.0,964 492.3,972 492.6,990 492.9,944 493.2,968 493.5,958 493.8,975 494.1,965 494.4,975 494.7,965 495.0,968 495.3,982 495.6,997 495.9,979 496.2,978 496.5,970 496.8,997 497.1,950 497.4,949 497.7,965 498.0,981 498.3,987 498.6,982 498.9,984 499.2,976 499.5,967 499.8,958 500.1,978 500.4,958 500.7,975 501.0,978 501.3,959 501.6,959 501.9,957 502.2,972 502.5,964 502.8,952 503.1,963 503.4,979 503.7,963 504.0,960 504.3,954 504.6,947 504.9,960 505.2,962 505.5,958 505.8,979 506.1,961 506.4,964 506.7,971 507.0,978 507.3,949 507.6,979 507.9,995 508.2,965 508.5,988 508.8,978 509.1,973 509.4,991 509.7,987 510.0,962 510.3,982 510.6,1000 510.9,981 511.2,978 511.5,982 511.8,980 512.1,995 512.4,972 512.7,966 513.0,986 513.3,993 513.6,987 513.9,988 514.2,968 514.5,956 514.8,966 515.1,975 515.4,953 515.7,973 516.0,985 516.3,970 516.6,1006 516.9,991 517.2,966 517.5,968 517.8,975 518.1,994 518.4,991 518.7,978 519.0,988 519.3,997 519.6,993 519.9,965 520.2,972 520.5,975 520.8,964 521.1,999 521.4,980 521.7,980 522.0,978 522.3,994 522.6,998 522.9,1000 523.2,1007 523.5,979 523.8,1013 524.1,1025 524.4,985 524.7,987 525.0,1000 525.3,1008 525.6,988 525.9,980 526.2,1019 526.5,984 526.8,953 527.1,997 527.4,1003 527.7,1012 528.0,1012 528.3,1030 528.6,981 528.9,975 529.2,969 529.5,1012 529.8,984 530.1,968 530.4,963 530.7,993 531.0,987 531.3,997 531.6,982 531.9,984 532.2,1001 532.5,993 532.8,1003 533.1,994 533.4,992 533.7,1000 534.0,990 534.3,996 534.6,999 534.9,985 535.2,989 535.5,991 535.8,998 536.1,992 536.4,991 536.7,994 537.0,984 537.3,994 537.6,980 537.9,967 538.2,999 538.5,968 538.8,994 539.1,1018 539.4,1009 539.7,986 540.0,1010 540.3,1004 540.6,990 540.9,1000 541.2,994 541.5,997 541.8,1005 542.1,979 542.4,1011 542.7,1027 543.0,998 543.3,986 543.6,994 543.9,1015 544.2,992 544.5,1005 544.8,1028 545.1,987 545.4,997 545.7,987 546.0,988 546.3,993 546.6,980 546.9,995 547.2,990 547.5,1002 547.8,994 548.1,989 548.4,1004 548.7,980 549.0,991 549.3,974 549.6,1001 549.9,972 550.2,995 550.5,972 550.8,985 551.1,967 551.4,971 551.7,968 552.0,986 552.3,986 552.6,988 552.9,983 553.2,974 553.5,985 553.8,996 554.1,970 554.4,965 554.7,982 555.0,1002 555.3,974 555.6,971 555.9,962 556.2,967 556.5,965 556.8,966 557.1,994 557.4,998 557.7,984 558.0,985 558.3,995 558.6,986 558.9,988 559.2,995 559.5,987 559.8,1006 560.1,1032 560.4,989 560.7,993 561.0,979 561.3,984 561.6,992 561.9,996 562.2,988 562.5,975 562.8,996 563.1,984 563.4,997 563.7,989 564.0,990 564.3,991 564.6,964 564.9,1010 565.2,982 565.5,999 565.8,1003 566.1,989 566.4,979 566.7,1007 567.0,988 567.3,1001 567.6,1010 567.9,999 568.2,985 568.5,1001 568.8,1018 569.1,1002 569.4,1026 569.7,995 570.0,1003 570.3,992 570.6,1002 570.9,1034 571.2,1020 571.5,1007 571.8,1000 572.1,1022 572.4,1003 572.7,989 573.0,1021 573.3,980 573.6,999 573.9,1003 574.2,1006 574.5,1018 574.8,1002 575.1,981 575.4,1004 575.7,992 576.0,971 576.3,972 576.6,975 576.9,957 577.2,991 577.5,993 577.8,992 578.1,974 578.4,985 578.7,1002 579.0,991 579.3,984 579.6,977 579.9,986 580.2,1004 580.5,988 580.8,1018 581.1,1020 581.4,997 581.7,965 582.0,983 582.3,1003 582.6,978 582.9,976 583.2,986 583.5,1022 583.8,980 584.1,960 584.4,991 584.7,993 585.0,998 585.3,989 585.6,993 585.9,982 586.2,1001 586.5,987 586.8,994 587.1,976 587.4,1003 587.7,986 588.0,975 588.3,980 588.6,963 588.9,968 589.2,985 589.5,981 589.8,983 590.1,980 590.4,965 590.7,970 591.0,994 591.3,966 591.6,947 591.9,968 592.2,963 592.5,967 592.8,969 593.1,956 593.4,976 593.7,969 594.0,980 594.3,963 594.6,960 594.9,969 595.2,998 595.5,952 595.8,993 596.1,979 596.4,996 596.7,977 597.0,989 597.3,991 597.6,1016 597.9,987 598.2,993 598.5,981 598.8,996 599.1,983 599.4,992 599.7,999 600.0,1001 600.3,982 600.6,982 600.9,1010 601.2,988 601.5,998 601.8,993 602.1,976 602.4,997 602.7,997 603.0,1024 603.3,975 603.6,994 603.9,1010 604.2,994 604.5,973 604.8,1010 605.1,1003 605.4,989 605.7,987 606.0,990 606.3,1002 606.6,996 606.9,989 607.2,1003 607.5,1012 607.8,989 608.1,1018 608.4,998 608.7,1005 609.0,1003 609.3,1004 609.6,1001 609.9,967 610.2,985 610.5,1010 610.8,985 611.1,1002 611.4,980 611.7,994 612.0,1023 612.3,1007 612.6,993 612.9,996 613.2,982 613.5,1012 613.8,1002 614.1,1015 614.4,1016 614.7,1001 615.0,992 615.3,988 615.6,999 615.9,1004 616.2,1023 616.5,992 616.8,1011 617.1,992 617.4,999 617.7,1018 618.0,1016 618.3,1003 618.6,1003 618.9,1027 619.2,1011 619.5,1010 619.8,1000 620.1,1048 620.4,1040 620.7,1022 621.0,1045 621.3,1021 621.6,1009 621.9,1021 622.2,1032 622.5,998 622.8,1029 623.1,1027 623.4,1031 623.7,1017 624.0,1025 624.3,986 624.6,1008 624.9,1022 625.2,1015 625.5,1010 625.8,990 626.1,1003 626.4,982 626.7,1001 627.0,1008 627.3,996 627.6,1009 627.9,1002 628.2,1013 628.5,995 628.8,977 629.1,980 629.4,985 629.7,993 630.0,992 630.3,979 630.6,989 630.9,977 631.2,993 631.5,965 631.8,998 632.1,986 632.4,978 632.7,970 633.0,993 633.3,979 633.6,998 633.9,1016 634.2,996 634.5,1000 634.8,1006 635.1,994 635.4,1029 635.7,1003 636.0,1017 636.3,1014 636.6,1003 636.9,1030 637.2,1018 637.5,1005 637.8,1005 638.1,988 638.4,999 638.7,1025 639.0,1024 639.3,1000 639.6,1020 639.9,1025 640.2,1021 640.5,1027 640.8,985 641.1,1013 641.4,997 641.7,1019 642.0,1000 642.3,1011 642.6,1021 642.9,989 643.2,1001 643.5,1001 643.8,1010 644.1,989 644.4,1021 644.7,1037 645.0,1008 645.3,1019 645.6,976 645.9,996 646.2,1021 646.5,1017 646.8,1022 647.1,1031 647.4,1014 647.7,1010 648.0,1007 648.3,1014 648.6,984 648.9,1032 649.2,983 649.5,990 649.8,1011 650.1,1021 650.4,1015 650.7,1026 651.0,998 651.3,993 651.6,1008 651.9,983 652.2,1000 652.5,1003 652.8,999 653.1,967 653.4,991 653.7,966 654.0,1006 654.3,989 654.6,1009 654.9,1015 655.2,980 655.5,1012 655.8,1006 656.1,1023 656.4,987 656.7,988 657.0,996 657.3,984 657.6,1011 657.9,1001 658.2,1015 658.5,1018 658.8,1025 659.1,997 659.4,1025 659.7,1025 660.0,1002 660.3,1007 660.6,996 660.9,1031 661.2,1032 661.5,1002 661.8,1011 662.1,1017 662.4,1020 662.7,1008 663.0,1030 663.3,994 663.6,1018 663.9,1007 664.2,1009 664.5,995 664.8,982 665.1,999 665.4,1014 665.7,997 666.0,988 666.3,1010 666.6,1013 666.9,1002 667.2,1015 667.5,1023 667.8,1021 668.1,1031 668.4,1035 668.7,1018 669.0,1007 669.3,993 669.6,1029 669.9,1019 670.2,1027 670.5,1001 670.8,1012 671.1,998 671.4,995 671.7,987 672.0,1002 672.3,1010 672.6,1013 672.9,1004 673.2,997 673.5,1027 673.8,1020 674.1,1012 674.4,1000 674.7,1015 675.0,988 675.3,982 675.6,1007 675.9,1002 676.2,1014 676.5,989 676.8,1004 677.1,986 677.4,996 677.7,1007 678.0,999 678.3,987 678.6,980 678.9,993 679.2,985 679.5,978 679.8,997 680.1,983 680.4,1012 680.7,1022 681.0,1009 681.3,1031 681.6,976 681.9,970 682.2,991 682.5,969 682.8,996 683.1,1007 683.4,1007 683.7,1011 684.0,997 684.3,1001 684.6,1008 684.9,1006 685.2,1022 685.5,1007 685.8,1014 686.1,1007 686.4,1031 686.7,1021 687.0,1023 687.3,1015 687.6,997 687.9,1015 688.2,991 688.5,1019 688.8,1002 689.1,1035 689.4,1008 689.7,1015 690.0,1008 690.3,999 690.6,993 690.9,979 691.2,1004 691.5,985 691.8,1027 692.1,994 692.4,1003 692.7,1010 693.0,1007 693.3,1024 693.6,1007 693.9,1000 694.2,1005 694.5,1027 694.8,1016 695.1,980 695.4,1004 695.7,995 696.0,1009 696.3,1018 696.6,1012 696.9,1022 697.2,1038 697.5,994 697.8,1018 698.1,1021 698.4,1028 698.7,1024 699.0,1036 699.3,1024 699.6,1030 699.9,1003 700.2,1026 700.5,1006 700.8,1030 701.1,1044 701.4,1019 701.7,1025 702.0,1029 702.3,1037 702.6,1029 702.9,1036 703.2,1013 703.5,1020 703.8,1002 704.1,1053 704.4,1009 704.7,1039 705.0,1031 705.3,1032 705.6,1017 705.9,1033 706.2,1037 706.5,1043 706.8,1034 707.1,1042 707.4,1027 707.7,1057 708.0,1032 708.3,1089 708.6,1036 708.9,1031 709.2,1041 709.5,1036 709.8,1052 710.1,1053 710.4,1027 710.7,1026 711.0,1024 711.3,1040 711.6,1046 711.9,1042 712.2,1030 712.5,1032 712.8,1040 713.1,1048 713.4,1030 713.7,1046 714.0,1026 714.3,1032 714.6,1045 714.9,1018 715.2,1006 715.5,1014 715.8,1027 716.1,1015 716.4,1027 716.7,1047 717.0,1024 717.3,1046 717.6,1040 717.9,1013 718.2,1040 718.5,1038 718.8,1039 719.1,1029 719.4,1029 719.7,1018 720.0,1013 720.3,1025 720.6,1035 720.9,1018 721.2,1048 721.5,1020 721.8,1031 722.1,1009 722.4,1048 722.7,1037 723.0,1044 723.3,1010 723.6,1045 723.9,1031 724.2,1015 724.5,1017 724.8,1001 725.1,1017 725.4,1030 725.7,1006 726.0,1021 726.3,999 726.6,979 726.9,1012 727.2,1034 727.5,1031 727.8,1006 728.1,1032 728.4,1029 728.7,1021 729.0,1011 729.3,1029 729.6,1015 729.9,1011 730.2,1031 730.5,1008 730.8,1027 731.1,1039 731.4,1010 731.7,1023 732.0,1028 732.3,998 732.6,1015 732.9,1015 733.2,1015 733.5,1010 733.8,1038 734.1,1008 734.4,1017 734.7,1026 735.0,1037 735.3,994 735.6,997 735.9,999 736.2,1009 736.5,1025 736.8,1011 737.1,1016 737.4,1036 737.7,1012 738.0,1020 738.3,1047 738.6,1032 738.9,1016 739.2,1017 739.5,1042 739.8,1013 740.1,1018 740.4,1042 740.7,1049 741.0,1054 741.3,1017 741.6,1037 741.9,984 742.2,1016 742.5,1066 742.8,1046 743.1,1033 743.4,1010 743.7,1004 744.0,1035 744.3,1017 744.6,1007 744.9,1027 745.2,1026 745.5,1007 745.8,1011 746.1,1046 746.4,1003 746.7,1030 747.0,1007 747.3,1006 747.6,1004 747.9,1017 748.2,1018 748.5,1029 748.8,1010 749.1,1026 749.4,1013 749.7,1011 750.0,1029 750.3,1027 750.6,1001 750.9,1023 751.2,997 751.5,1007 751.8,1043 752.1,1039 752.4,1019 752.7,1030 753.0,1039 753.3,1045 753.6,1046 753.9,1012 754.2,1023 754.5,1025 754.8,992 755.1,1015 755.4,1031 755.7,1023 756.0,1018 756.3,1010 756.6,1019 756.9,1026 757.2,1022 757.5,1042 757.8,1037 758.1,1008 758.4,1038 758.7,1026 759.0,1035 759.3,1016 759.6,1037 759.9,1015 760.2,1039 760.5,1025 760.8,1022 761.1,1008 761.4,1004 761.7,1037 762.0,1011 762.3,1010 762.6,1032 762.9,1027 763.2,1034 763.5,1009 763.8,998 764.1,1014 764.4,1040 764.7,1026 765.0,1032 765.3,1033 765.6,1028 765.9,1028 766.2,1023 766.5,1029 766.8,1031 767.1,1018 767.4,1035 767.7,1028 768.0,1027 768.3,1026 768.6,1041 768.9,1027 769.2,1045 769.5,1015 769.8,1035 770.1,1006 770.4,1027 770.7,1018 771.0,1018 771.3,1010 771.6,1023 771.9,1030 772.2,998 772.5,1022 772.8,1026 773.1,1033 773.4,1031 773.7,1013 774.0,1042 774.3,1019 774.6,1039 774.9,1037 775.2,1028 775.5,1025 775.8,1036 776.1,1060 776.4,1050 776.7,1034 777.0,1052 777.3,1065 777.6,1072 777.9,1020 778.2,1052 778.5,1053 778.8,1031 779.1,1016 779.4,1057 779.7,1033 780.0,1017 780.3,1024 780.6,1048 780.9,1067 781.2,1050 781.5,1025 781.8,1054 782.1,1012 782.4,1051 782.7,1050 783.0,1063 783.3,1053 783.6,1056 783.9,1044 784.2,1040 784.5,1047 784.8,1074 785.1,1043 785.4,1052 785.7,1049 786.0,1066 786.3,1065 786.6,1088 786.9,1091 787.2,1077 787.5,1074 787.8,1060 788.1,1042 788.4,1063 788.7,1060 789.0,1043 789.3,1059 789.6,1068 789.9,1040 790.2,1062 790.5,1054 790.8,1038 791.1,1045 791.4,1052 791.7,1037 792.0,1037 792.3,1054 792.6,1042 792.9,1040 793.2,1024 793.5,1039 793.8,1048 794.1,1014 794.4,1004 794.7,1014 795.0,1023 795.3,1011 795.6,1002 795.9,1047 796.2,1020 796.5,1015 796.8,987 797.1,1039 797.4,1007 797.7,1046 798.0,1037 798.3,1033 798.6,1027 798.9,1043 799.2,1023 799.5,1035 799.8,1023 800.1,1026 800.4,1051 800.7,1045 801.0,1017 801.3,1018 801.6,1031 801.9,1029 802.2,1038 802.5,1026 802.8,1018 803.1,1044 803.4,1030 803.7,1043 804.0,1022 804.3,1056 804.6,1040 804.9,1040 805.2,1042 805.5,1016 805.8,1047 806.1,1030 806.4,1022 806.7,1043 807.0,1060 807.3,1027 807.6,1057 807.9,1005 808.2,1039 808.5,1027 808.8,1038 809.1,1064 809.4,1044 809.7,1015 810.0,1056 810.3,1023 810.6,1030 810.9,1027 811.2,1042 811.5,1040 811.8,1065 812.1,1049 812.4,1054 812.7,1044 813.0,1062 813.3,1034 813.6,1029 813.9,1062 814.2,1061 814.5,1052 814.8,1083 815.1,1041 815.4,1073 815.7,1075 816.0,1037 816.3,1062 816.6,1065 816.9,1052 817.2,1052 817.5,1053 817.8,1041 818.1,1033 818.4,1061 818.7,1052 819.0,1048 819.3,1053 819.6,1033 819.9,1034 820.2,1052 820.5,1039 820.8,1044 821.1,1051 821.4,1058 821.7,1021 822.0,1025 822.3,1012 822.6,1022 822.9,1038 823.2,1023 823.5,1060 823.8,1024 824.1,1006 824.4,1018 824.7,1058 825.0,1017 825.3,1028 825.6,1018 825.9,1013 826.2,1044 826.5,1011 826.8,1003 827.1,1016 827.4,1017 827.7,1032 828.0,1027 828.3,1042 828.6,1023 828.9,1032 829.2,1033 829.5,1041 829.8,1011 830.1,1024 830.4,992 830.7,1020 831.0,1016 831.3,1022 831.6,1056 831.9,1050 832.2,1017 832.5,1064 832.8,1058 833.1,1044 833.4,1041 833.7,1042 834.0,1044 834.3,1054 834.6,1041 834.9,1059 835.2,1041 835.5,1035 835.8,1042 836.1,1048 836.4,1049 836.7,1042 837.0,1021 837.3,1023 837.6,1018 837.9,1038 838.2,1051 838.5,1042 838.8,1041 839.1,1036 839.4,1038 839.7,1034 840.0,1059 840.3,1028 840.6,1033 840.9,1052 841.2,1041 841.5,1056 841.8,1041 842.1,1053 842.4,1051 842.7,1031 843.0,1056 843.3,1066 843.6,1039 843.9,1046 844.2,1057 844.5,1068 844.8,1052 845.1,1078 845.4,1040 845.7,1070 846.0,1033 846.3,1042 846.6,1029 846.9,1053 847.2,1048 847.5,1015 847.8,1002 848.1,1066 848.4,1033 848.7,1014 849.0,1024 849.3,1030 849.6,1058 849.9,1043 850.2,1038 850.5,1025 850.8,1048 851.1,1016 851.4,1056 851.7,1055 852.0,1036 852.3,1023 852.6,1036 852.9,1043 853.2,1073 853.5,1069 853.8,1037 854.1,1035 854.4,1027 854.7,1050 855.0,1036 855.3,1052 855.6,1041 855.9,1031 856.2,1023 856.5,1013 856.8,1041 857.1,1013 857.4,1038 857.7,1004 858.0,990 858.3,1023 858.6,1013 858.9,1032 859.2,1018 859.5,1017 859.8,1029 860.1,1008 860.4,1026 860.7,1052 861.0,1023 861.3,1009 861.6,1022 861.9,1014 862.2,1022 862.5,1051 862.8,1018 863.1,1016 863.4,1042 863.7,1031 864.0,1035 864.3,1030 864.6,1043 864.9,1060 865.2,1049 865.5,1035 865.8,1036 866.1,1029 866.4,1029 866.7,1053 867.0,1048 867.3,1047 867.6,1047 867.9,1032 868.2,1040 868.5,1048 868.8,1062 869.1,1044 869.4,1042 869.7,1031 870.0,1056 870.3,1038 870.6,1045 870.9,1047 871.2,1030 871.5,1044 871.8,1055 872.1,1027 872.4,1031 872.7,1026 873.0,1038 873.3,1064 873.6,1040 873.9,1053 874.2,1039 874.5,1031 874.8,1037 875.1,1041 875.4,1036 875.7,1039 876.0,1042 876.3,1034 876.6,1064 876.9,1050 877.2,1044 877.5,1039 877.8,1053 878.1,1038 878.4,1032 878.7,1044 879.0,1067 879.3,1047 879.6,1053 879.9,1038 880.2,1058 880.5,1044 880.8,1044 881.1,1042 881.4,1051 881.7,1039 882.0,1047 882.3,1050 882.6,1040 882.9,1026 883.2,1058 883.5,1035 883.8,1025 884.1,1051 884.4,1049 884.7,1064 885.0,1066 885.3,1019 885.6,1041 885.9,1052 886.2,1030 886.5,1063 886.8,1052 887.1,1038 887.4,1040 887.7,1051 888.0,1075 888.3,1072 888.6,1026 888.9,1053 889.2,1025 889.5,1043 889.8,1031 890.1,1040 890.4,1038 890.7,1049 891.0,1034 891.3,1053 891.6,1042 891.9,1031 892.2,1062 892.5,1047 892.8,1039 893.1,1043 893.4,1050 893.7,1038 894.0,1032 894.3,1037 894.6,1032 894.9,1032 895.2,1061 895.5,1050 895.8,1059 896.1,1035 896.4,1020 896.7,1039 897.0,1053 897.3,1041 897.6,1052 897.9,1038 898.2,1059 898.5,1048 898.8,1055 899.1,1065 899.4,1048 899.7,1044 900.0,1049 900.3,1068 900.6,1057 900.9,1076 901.2,1069 901.5,1077 901.8,1064 902.1,1078 902.4,1071 902.7,1034 903.0,1078 903.3,1069 903.6,1050 903.9,1038 904.2,1028 904.5,1052 904.8,1037 905.1,1031 905.4,1032 905.7,1022 906.0,1055 906.3,1029 906.6,1040 906.9,1042 907.2,1044 907.5,1037 907.8,1050 908.1,1031 908.4,1068 908.7,1018 909.0,1049 909.3,1070 909.6,1028 909.9,1060 910.2,1068 910.5,1035 910.8,1061 911.1,1033 911.4,1044 911.7,1037 912.0,1027 912.3,1025 912.6,1032 912.9,1020 913.2,1043 913.5,1043 913.8,1057 914.1,1049 914.4,1042 914.7,1041 915.0,1080 915.3,1027 915.6,1031 915.9,1080 916.2,1065 916.5,1053 916.8,1058 917.1,1065 917.4,1031 917.7,1047 918.0,1060 918.3,1059 918.6,1065 918.9,1053 919.2,1044 919.5,1041 919.8,1057 920.1,1048 920.4,1054 920.7,1067 921.0,1064 921.3,1031 921.6,1063 921.9,1035 922.2,1026 922.5,1077 922.8,1052 923.1,1041 923.4,1043 923.7,1062 924.0,1077 924.3,1067 924.6,1047 924.9,1034 925.2,1048 925.5,1062 925.8,1055 926.1,1030 926.4,1048 926.7,1054 927.0,1032 927.3,1055 927.6,1062 927.9,1053 928.2,1028 928.5,1035 928.8,1036 929.1,1031 929.4,1046 929.7,1035 930.0,1033 930.3,1036 930.6,1026 930.9,1013 931.2,1032 931.5,1026 931.8,1040 932.1,1035 932.4,1029 932.7,1048 933.0,1034 933.3,1018 933.6,1057 933.9,1053 934.2,1039 934.5,1020 934.8,1029 935.1,1057 935.4,1044 935.7,1042 936.0,1054 936.3,1041 936.6,1043 936.9,1067 937.2,1058 937.5,1062 937.8,1060 938.1,1067 938.4,1064 938.7,1043 939.0,1051 939.3,1076 939.6,1056 939.9,1078 940.2,1051 940.5,1037 940.8,1058 941.1,1051 941.4,1050 941.7,1050 942.0,1034 942.3,1070 942.6,1061 942.9,1052 943.2,1043 943.5,1073 943.8,1065 944.1,1073 944.4,1068 944.7,1072 945.0,1061 945.3,1041 945.6,1062 945.9,1071 946.2,1039 946.5,1052 946.8,1076 947.1,1040 947.4,1074 947.7,1043 948.0,1033 948.3,1047 948.6,1044 948.9,1063 949.2,1021 949.5,1035 949.8,1033 950.1,1030 950.4,1044 950.7,1034 951.0,1040 951.3,1036 951.6,1053 951.9,1030 952.2,1039 952.5,1050 952.8,1045 953.1,1039 953.4,1050 953.7,1044 954.0,1044 954.3,1039 954.6,1050 954.9,1050 955.2,1027 955.5,1041 955.8,1038 956.1,1040 956.4,1021 956.7,1014 957.0,1027 957.3,1044 957.6,1017 957.9,1044 958.2,1033 958.5,1036 958.8,1038 959.1,1033 959.4,1037 959.7,1050 960.0,1064 960.3,1049 960.6,1054 960.9,1039 961.2,1050 961.5,1068 961.8,1070 962.1,1053 962.4,1057 962.7,1053 963.0,1048 963.3,1066 963.6,1054 963.9,1080 964.2,1031 964.5,1036 964.8,1042 965.1,1060 965.4,1057 965.7,1049 966.0,1017 966.3,1062 966.6,1038 966.9,1079 967.2,1063 967.5,1051 967.8,1058 968.1,1082 968.4,1056 968.7,1045 969.0,1025 969.3,1056 969.6,1046 969.9,1070 970.2,1055 970.5,1066 970.8,1045 971.1,1038 971.4,1060 971.7,1044 972.0,1036 972.3,1044 972.6,1058 972.9,1036 973.2,1071 973.5,1052 973.8,1030 974.1,1032 974.4,1047 974.7,1044 975.0,1045 975.3,1049 975.6,1056 975.9,1050 976.2,1047 976.5,1030 976.8,1078 977.1,1059 977.4,1066 977.7,1061 978.0,1077 978.3,1061 978.6,1079 978.9,1055 979.2,1061 979.5,1072 979.8,1073 980.1,1081 980.4,1057 980.7,1071 981.0,1057 981.3,1044 981.6,1074 981.9,1059 982.2,1045 982.5,1046 982.8,1062 983.1,1053 983.4,1050 983.7,1059 984.0,1049 984.3,1025 984.6,1060 984.9,1042 985.2,1044 985.5,1017 985.8,1006 986.1,1051 986.4,1045 986.7,1052 987.0,1057 987.3,1066 987.6,1073 987.9,1072 988.2,1043 988.5,1047 988.8,1059 989.1,1077 989.4,1073 989.7,1051 990.0,1041 990.3,1061 990.6,1054 990.9,1064 991.2,1065 991.5,1058 991.8,1041 992.1,1036 992.4,1047 992.7,1057 993.0,1049 993.3,1058 993.6,1043 993.9,1063 994.2,1053 994.5,1044 994.8,1039 995.1,1047 995.4,1050 995.7,1071 996.0,1052 996.3,1060 996.6,1025 996.9,1067 997.2,1054 997.5,1044 997.8,1027 998.1,1047 998.4,1082 998.7,1073 999.0,1074 999.3,1058 999.6,1074 999.9,1076 1000.2,1074 1000.5,1058 1000.8,1063 1001.1,1068 1001.4,1113 1001.7,1047 1002.0,1096 1002.3,1092 1002.6,1077 1002.9,1085 1003.2,1078 1003.5,1081 1003.8,1065 1004.1,1046 1004.4,1108 1004.7,1095 1005.0,1052 1005.3,1085 1005.6,1064 1005.9,1074 1006.2,1053 1006.5,1051 1006.8,1089 1007.1,1056 1007.4,1060 1007.7,1069 1008.0,1077 1008.3,1049 1008.6,1062 1008.9,1063 1009.2,1043 1009.5,1043 1009.8,1058 1010.1,1048 1010.4,1070 1010.7,1025 1011.0,1056 1011.3,1047 1011.6,1031 1011.9,1049 1012.2,1032 1012.5,1047 1012.8,1067 1013.1,1044 1013.4,1062 1013.7,1059 1014.0,1049 1014.3,1053 1014.6,1061 1014.9,1063 1015.2,1053 1015.5,1058 1015.8,1072 1016.1,1049 1016.4,1047 1016.7,1068 1017.0,1070 1017.3,1033 1017.6,1066 1017.9,1083 1018.2,1076 1018.5,1060 1018.8,1069 1019.1,1042 1019.4,1072 1019.7,1067 1020.0,1073 1020.3,1059 1020.6,1068 1020.9,1052 1021.2,1071 1021.5,1062 1021.8,1031 1022.1,1031 1022.4,1060 1022.7,1065 1023.0,1068 1023.3,1044 1023.6,1054 1023.9,1047 1024.2,1042 1024.5,1048 1024.8,1068 1025.1,1046 1025.4,1077 1025.7,1036 1026.0,1050 1026.3,1062 1026.6,1063 1026.9,1059 1027.2,1035 1027.5,1055 1027.8,1078 1028.1,1068 1028.4,1067 1028.7,1066 1029.0,1059 1029.3,1060 1029.6,1053 1029.9,1078 1030.2,1066 1030.5,1065 1030.8,1061 1031.1,1055 1031.4,1039 1031.7,1057 1032.0,1048 1032.3,1048 1032.6,1058 1032.9,1072 1033.2,1040 1033.5,1053 1033.8,1073 1034.1,1034 1034.4,1057 1034.7,1044 1035.0,1059 1035.3,1070 1035.6,1048 1035.9,1063 1036.2,1054 1036.5,1076 1036.8,1005 1037.1,1039 1037.4,1050 1037.7,1053 1038.0,1074 1038.3,1067 1038.6,1046 1038.9,1031 1039.2,1066 1039.5,1053 1039.8,1045 1040.1,1059 1040.4,1070 1040.7,1050 1041.0,1064 1041.3,1021 1041.6,1057 1041.9,1078 1042.2,1064 1042.5,1041 1042.8,1036 1043.1,1058 1043.4,1044 1043.7,1051 1044.0,1038 1044.3,1051 1044.6,1074 1044.9,1059 1045.2,1060 1045.5,1055 1045.8,1072 1046.1,1080 1046.4,1077 1046.7,1038 1047.0,1076 1047.3,1063 1047.6,1073 1047.9,1059 1048.2,1088 1048.5,1097 1048.8,1082 1049.1,1092 1049.4,1071 1049.7,1063 1050.0,1038 1050.3,1057 1050.6,1059 1050.9,1086 1051.2,1053 1051.5,1067 1051.8,1075 1052.1,1068 1052.4,1067 1052.7,1082 1053.0,1056 1053.3,1068 1053.6,1071 1053.9,1089 1054.2,1085 1054.5,1074 1054.8,1078 1055.1,1037 1055.4,1069 1055.7,1058 1056.0,1044 1056.3,1073 1056.6,1058 1056.9,1053 1057.2,1039 1057.5,1063 1057.8,1077 1058.1,1061 1058.4,1068 1058.7,1070 1059.0,1056 1059.3,1050 1059.6,1045 1059.9,1048 1060.2,1044 1060.5,1052 1060.8,1043 1061.1,1064 1061.4,1037 1061.7,1070 1062.0,1042 1062.3,1042 1062.6,1058 1062.9,1039 1063.2,1024 1063.5,1061 1063.8,1070 1064.1,1026 1064.4,1060 1064.7,1046 1065.0,1051 1065.3,1076 1065.6,1037 1065.9,1048 1066.2,1072 1066.5,1058 1066.8,1061 1067.1,1045 1067.4,1042 1067.7,1042 1068.0,1055 1068.3,1046 1068.6,1057 1068.9,1087 1069.2,1029 1069.5,1057 1069.8,1053 1070.1,1041 1070.4,1060 1070.7,1047 1071.0,1042 1071.3,1062 1071.6,1084 1071.9,1061 1072.2,1070 1072.5,1056 1072.8,1055 1073.1,1045 1073.4,1064 1073.7,1070 1074.0,1039 1074.3,1036 1074.6,1067 1074.9,1050 1075.2,1037 1075.5,1067 1075.8,1054 1076.1,1051 1076.4,1056 1076.7,1047 1077.0,1094 1077.3,1027 1077.6,1050 1077.9,1065 1078.2,1064 1078.5,1043 1078.8,1056 1079.1,1060 1079.4,1080 1079.7,1085 1080.0,1086 1080.3,1067 1080.6,1083 1080.9,1072 1081.2,1062 1081.5,1060 1081.8,1074 1082.1,1068 1082.4,1056 1082.7,1050 1083.0,1050 1083.3,1081 1083.6,1058 1083.9,1063 1084.2,1081 1084.5,1082 1084.8,1074 1085.1,1068 1085.4,1057 1085.7,1064 1086.0,1068 1086.3,1075 1086.6,1059 1086.9,1079 1087.2,1083 1087.5,1075 1087.8,1053 1088.1,1047 1088.4,1082 1088.7,1050 1089.0,1076 1089.3,1112 1089.6,1072 1089.9,1055 1090.2,1085 1090.5,1066 1090.8,1070 1091.1,1047 1091.4,1060 1091.7,1086 1092.0,1062 1092.3,1055 1092.6,1062 1092.9,1063 1093.2,1071 1093.5,1066 1093.8,1068 1094.1,1037 1094.4,1048 1094.7,1026 1095.0,1072 1095.3,1044 1095.6,1047 1095.9,1077 1096.2,1066 1096.5,1051 1096.8,1053 1097.1,1052 1097.4,1070 1097.7,1100 1098.0,1042 1098.3,1081 1098.6,1078 1098.9,1056 1099.2,1067 1099.5,1067 1099.8,1054 1100.1,1055 1100.4,1084 1100.7,1071 1101.0,1060 1101.3,1054 1101.6,1065 1101.9,1068 1102.2,1079 1102.5,1089 1102.8,1069 1103.1,1056 1103.4,1073 1103.7,1070 1104.0,1060 1104.3,1076 1104.6,1065 1104.9,1070 1105.2,1064 1105.5,1070 1105.8,1072 1106.1,1050 1106.4,1076 1106.7,1064 1107.0,1042 1107.3,1061 1107.6,1082 1107.9,1086 1108.2,1059 1108.5,1072 1108.8,1051 1109.1,1075 1109.4,1039 1109.7,1046 1110.0,1074 1110.3,1074 1110.6,1058 1110.9,1072 1111.2,1086 1111.5,1062 1111.8,1071 1112.1,1051 1112.4,1044 1112.7,1085 1113.0,1062 1113.3,1052 1113.6,1037 1113.9,1068 1114.2,1072 1114.5,1079 1114.8,1057 1115.1,1072 1115.4,1060 1115.7,1048 1116.0,1059 1116.3,1051 1116.6,1047 1116.9,1050 1117.2,1069 1117.5,1058 1117.8,1047 1118.1,1054 1118.4,1053 1118.7,1053 1119.0,1056 1119.3,1043 1119.6,1072 1119.9,1037 1120.2,1044 1120.5,1033 1120.8,1045 1121.1,1043 1121.4,1052 1121.7,1028 1122.0,1050 1122.3,1024 1122.6,1063 1122.9,1038 1123.2,1060 1123.5,1064 1123.8,1027 1124.1,1069 1124.4,1042 1124.7,1011 1125.0,1044 1125.3,1043 1125.6,1064 1125.9,1015 1126.2,1000 1126.5,1041 1126.8,1036 1127.1,1030 1127.4,1045 1127.7,1070 1128.0,1047 1128.3,1062 1128.6,1041 1128.9,1034 1129.2,1048 1129.5,1081 1129.8,1075 1130.1,1069 1130.4,1055 1130.7,1066 1131.0,1070 1131.3,1042 1131.6,1059 1131.9,1090 1132.2,1045 1132.5,1067 1132.8,1057 1133.1,1059 1133.4,1076 1133.7,1051 1134.0,1072 1134.3,1059 1134.6,1074 1134.9,1046 1135.2,1072 1135.5,1055 1135.8,1046 1136.1,1042 1136.4,1024 1136.7,1063 1137.0,1038 1137.3,1064 1137.6,1079 1137.9,1024 1138.2,1050 1138.5,1036 1138.8,1047 1139.1,1051 1139.4,1028 1139.7,1060 1140.0,1044 1140.3,1070 1140.6,1049 1140.9,1053 1141.2,1051 1141.5,1090 1141.8,1046 1142.1,1020 1142.4,1066 1142.7,1054 1143.0,1065 1143.3,1069 1143.6,1073 1143.9,1055 1144.2,1058 1144.5,1066 1144.8,1070 1145.1,1031 1145.4,1076 1145.7,1035 1146.0,1053 1146.3,1067 1146.6,1045 1146.9,1045 1147.2,1075 1147.5,1075 1147.8,1037 1148.1,1057 1148.4,1065 1148.7,1081 1149.0,1068 1149.3,1076 1149.6,1071 1149.9,1077 1150.2,1103 1150.5,1076 1150.8,1074 1151.1,1047 1151.4,1053 1151.7,1047 1152.0,1065 1152.3,1060 1152.6,1053 1152.9,1071 1153.2,1039 1153.5,1062 1153.8,1056 1154.1,1046 1154.4,1044 1154.7,1048 1155.0,1066 1155.3,1067 1155.6,1034 1155.9,1056 1156.2,1046 1156.5,1069 1156.8,1073 1157.1,1069 1157.4,1065 1157.7,1067 1158.0,1034 1158.3,1064 1158.6,1062 1158.9,1056 1159.2,1048 1159.5,1041 1159.8,1046 1160.1,1048 1160.4,1020 1160.7,1054 1161.0,1058 1161.3,1076 1161.6,1076 1161.9,1060 1162.2,1055 1162.5,1054 1162.8,1066 1163.1,1069 1163.4,1034 1163.7,1067 1164.0,1050 1164.3,1058 1164.6,1054 1164.9,1065 1165.2,1047 1165.5,1062 1165.8,1041 1166.1,1076 1166.4,1073 1166.7,1057 1167.0,1060 1167.3,1053 1167.6,1070 1167.9,1067 1168.2,1053 1168.5,1056 1168.8,1062 1169.1,1047 1169.4,1061 1169.7,1065 1170.0,1091 1170.3,1063 1170.6,1050 1170.9,1077 1171.2,1065 1171.5,1056 1171.8,1074 1172.1,1056 1172.4,1084 1172.7,1075 1173.0,1061 1173.3,1064 1173.6,1092 1173.9,1060 1174.2,1058 1174.5,1071 1174.8,1063 1175.1,1057 1175.4,1068 1175.7,1030 1176.0,1058 1176.3,1075 1176.6,1073 1176.9,1044 1177.2,1053 1177.5,1064 1177.8,1049 1178.1,1059 1178.4,1059 1178.7,1028 1179.0,1062 1179.3,1053 1179.6,1051 1179.9,1049 1180.2,1024 1180.5,1052 1180.8,1067 1181.1,1072 1181.4,1057 1181.7,1052 1182.0,1050 1182.3,1073 1182.6,1085 1182.9,1058 1183.2,1024 1183.5,1063 1183.8,1081 1184.1,1043 1184.4,1052 1184.7,1043 1185.0,1068 1185.3,1098 1185.6,1082 1185.9,1047 1186.2,1052 1186.5,1078 1186.8,1068 1187.1,1050 1187.4,1077 1187.7,1062 1188.0,1080 1188.3,1081 1188.6,1077 1188.9,1057 1189.2,1059 1189.5,1067 1189.8,1060 1190.1,1081 1190.4,1082 1190.7,1067 1191.0,1076 1191.3,1083 1191.6,1049 1191.9,1055 1192.2,1086 1192.5,1057 1192.8,1052 1193.1,1060 1193.4,1066 1193.7,1039 1194.0,1060 1194.3,1074 1194.6,1056 1194.9,1056 1195.2,1077 1195.5,1055 1195.8,1051 1196.1,1067 1196.4,1081 1196.7,1069 1197.0,1038 1197.3,1065 1197.6,1082 1197.9,1100 1198.2,1076 1198.5,1111 1198.8,1063 1199.1,1069 1199.4,1077 1199.7,1085 1200.0,1069 1200.3,1081 1200.6,1067 1200.9,1077 1201.2,1077 1201.5,1071 1201.8,1071 1202.1,1064 1202.4,1058 1202.7,1107 1203.0,1055 1203.3,1086 1203.6,1081 1203.9,1067 1204.2,1066 1204.5,1057 1204.8,1070 1205.1,1052 1205.4,1067 1205.7,1094 1206.0,1082 1206.3,1048 1206.6,1068 1206.9,1060 1207.2,1047 1207.5,1080 1207.8,1041 1208.1,1071 1208.4,1090 1208.7,1086 1209.0,1047 1209.3,1060 1209.6,1061 1209.9,1062 1210.2,1076 1210.5,1072 1210.8,1087 1211.1,1054 1211.4,1068 1211.7,1079 1212.0,1069 1212.3,1038 1212.6,1065 1212.9,1066 1213.2,1064 1213.5,1051 1213.8,1074 1214.1,1065 1214.4,1053 1214.7,1071 1215.0,1063 1215.3,1057 1215.6,1055 1215.9,1049 1216.2,1064 1216.5,1055 1216.8,1077 1217.1,1060 1217.4,1071 1217.7,1050 1218.0,1053 1218.3,1060 1218.6,1069 1218.9,1071 1219.2,1060 1219.5,1061 1219.8,1065 1220.1,1068 1220.4,1071 1220.7,1034 1221.0,1069 1221.3,1056 1221.6,1058 1221.9,1047 1222.2,1068 1222.5,1074 1222.8,1074 1223.1,1051 1223.4,1039 1223.7,1078 1224.0,1055 1224.3,1039 1224.6,1075 1224.9,1035 1225.2,1078 1225.5,1058 1225.8,1091 1226.1,1067 1226.4,1059 1226.7,1069 1227.0,1057 1227.3,1060 1227.6,1074 1227.9,1069 1228.2,1053 1228.5,1063 1228.8,1093 1229.1,1051 1229.4,1076 1229.7,1102 1230.0,1057 1230.3,1078 1230.6,1068 1230.9,1054 1231.2,1078 1231.5,1076 1231.8,1066 1232.1,1056 1232.4,1079 1232.7,1074 1233.0,1061 1233.3,1053 1233.6,1060 1233.9,1057 1234.2,1055 1234.5,1078 1234.8,1059 1235.1,1079 1235.4,1075 1235.7,1072 1236.0,1066 1236.3,1058 1236.6,1059 1236.9,1087 1237.2,1076 1237.5,1058 1237.8,1074 1238.1,1059 1238.4,1067 1238.7,1056 1239.0,1058 1239.3,1058 1239.6,1078 1239.9,1090 1240.2,1075 1240.5,1080 1240.8,1070 1241.1,1066 1241.4,1076 1241.7,1055 1242.0,1083 1242.3,1078 1242.6,1070 1242.9,1064 1243.2,1055 1243.5,1083 1243.8,1057 1244.1,1051 1244.4,1044 1244.7,1047 1245.0,1054 1245.3,1052 1245.6,1065 1245.9,1050 1246.2,1046 1246.5,1064 1246.8,1048 1247.1,1083 1247.4,1042 1247.7,1058 1248.0,1049 1248.3,1065 1248.6,1079 1248.9,1055 1249.2,1040 1249.5,1065 1249.8,1062 1250.1,1069 1250.4,1049 1250.7,1051 1251.0,1048 1251.3,1050 1251.6,1056 1251.9,1075 1252.2,1062 1252.5,1051 1252.8,1036 1253.1,1076 1253.4,1066 1253.7,1076 1254.0,1021 1254.3,1092 1254.6,1047 1254.9,1047 1255.2,1053 1255.5,1057 1255.8,1084 1256.1,1035 1256.4,1074 1256.7,1084 1257.0,1082 1257.3,1076 1257.6,1079 1257.9,1061 1258.2,1055 1258.5,1055 1258.8,1039 1259.1,1076 1259.4,1061 1259.7,1066 1260.0,1080 1260.3,1078 1260.6,1066 1260.9,1047 1261.2,1034 1261.5,1069 1261.8,1034 1262.1,1053 1262.4,1055 1262.7,1047 1263.0,1059 1263.3,1070 1263.6,1078 1263.9,1053 1264.2,1041 1264.5,1057 1264.8,1046 1265.1,1048 1265.4,1066 1265.7,1078 1266.0,1066 1266.3,1068 1266.6,1080 1266.9,1074 1267.2,1050 1267.5,1057 1267.8,1060 1268.1,1085 1268.4,1047 1268.7,1062 1269.0,1027 1269.3,1057 1269.6,1051 1269.9,1049 1270.2,1071 1270.5,1051 1270.8,1081 1271.1,1065 1271.4,1059 1271.7,1049 1272.0,1088 1272.3,1067 1272.6,1091 1272.9,1102 1273.2,1070 1273.5,1081 1273.8,1091 1274.1,1074 1274.4,1052 1274.7,1089 1275.0,1068 1275.3,1059 1275.6,1066 1275.9,1093 1276.2,1059 1276.5,1063 1276.8,1055 1277.1,1084 1277.4,1076 1277.7,1087 1278.0,1076 1278.3,1069 1278.6,1081 1278.9,1075 1279.2,1064 1279.5,1070 1279.8,1088 1280.1,1071 1280.4,1040 1280.7,1034 1281.0,1052 1281.3,1080 1281.6,1074 1281.9,1078 1282.2,1067 1282.5,1066 1282.8,1062 1283.1,1066 1283.4,1067 1283.7,1066 1284.0,1052 1284.3,1048 1284.6,1085 1284.9,1070 1285.2,1073 1285.5,1060 1285.8,1068 1286.1,1074 1286.4,1063 1286.7,1055 1287.0,1075 1287.3,1075 1287.6,1049 1287.9,1052 1288.2,1082 1288.5,1052 1288.8,1051 1289.1,1050 1289.4,1064 1289.7,1059 1290.0,1071 1290.3,1044 1290.6,1050 1290.9,1059 1291.2,1058 1291.5,1045 1291.8,1053 1292.1,1048 1292.4,1056 1292.7,1043 1293.0,1074 1293.3,1057 1293.6,1055 1293.9,1024 1294.2,1050 1294.5,1065 1294.8,1072 1295.1,1044 1295.4,1084 1295.7,1091 1296.0,1050 1296.3,1076 1296.6,1049 1296.9,1068 1297.2,1069 1297.5,1079 1297.8,1073 1298.1,1066 1298.4,1074 1298.7,1084 1299.0,1070 1299.3,1088 1299.6,1070 1299.9,1084 1300.2,1094 1300.5,1072 1300.8,1084 1301.1,1043 1301.4,1069 1301.7,1102 1302.0,1057 1302.3,1054 1302.6,1077 1302.9,1057 1303.2,1051 1303.5,1051 1303.8,1069 1304.1,1050 1304.4,1029 1304.7,1070 1305.0,1070 1305.3,1062 1305.6,1052 1305.9,1039 1306.2,1081 1306.5,1028 1306.8,1075 1307.1,1074 1307.4,1071 1307.7,1070 1308.0,1077 1308.3,1067 1308.6,1081 1308.9,1080 1309.2,1073 1309.5,1075 1309.8,1076 1310.1,1096 1310.4,1064 1310.7,1076 1311.0,1099 1311.3,1071 1311.6,1087 1311.9,1083 1312.2,1062 1312.5,1086 1312.8,1095 1313.1,1080 1313.4,1096 1313.7,1089 1314.0,1086 1314.3,1058 1314.6,1087 1314.9,1083 1315.2,1087 1315.5,1085 1315.8,1064 1316.1,1068 1316.4,1059 1316.7,1079 1317.0,1065 1317.3,1093 1317.6,1088 1317.9,1059 1318.2,1083 1318.5,1067 1318.8,1047 1319.1,1082 1319.4,1056 1319.7,1068 1320.0,1082 1320.3,1081 1320.6,1109 1320.9,1080 1321.2,1070 1321.5,1060 1321.8,1042 1322.1,1064 1322.4,1070 1322.7,1097 1323.0,1066 1323.3,1049 1323.6,1075 1323.9,1072 1324.2,1080 1324.5,1073 1324.8,1060 1325.1,1049 1325.4,1065 1325.7,1066 1326.0,1071 1326.3,1086 1326.6,1063 1326.9,1057 1327.2,1028 1327.5,1074 1327.8,1045 1328.1,1057 1328.4,1049 1328.7,1063 1329.0,1057 1329.3,1057 1329.6,1050 1329.9,1072 1330.2,1045 1330.5,1056 1330.8,1079 1331.1,1048 1331.4,1094 1331.7,1060 1332.0,1085 1332.3,1093 1332.6,1067 1332.9,1074 1333.2,1090 1333.5,1079 1333.8,1107 1334.1,1085 1334.4,1071 1334.7,1090 1335.0,1076 1335.3,1101 1335.6,1055 1335.9,1098 1336.2,1104 1336.5,1098 1336.8,1076 1337.1,1047 1337.4,1064 1337.7,1075 1338.0,1096 1338.3,1078 1338.6,1067 1338.9,1080 1339.2,1094 1339.5,1069 1339.8,1075 1340.1,1077 1340.4,1079 1340.7,1083 1341.0,1087 1341.3,1047 1341.6,1075 1341.9,1065 1342.2,1052 1342.5,1066 1342.8,1062 1343.1,1057 1343.4,1067 1343.7,1055 1344.0,1062 1344.3,1059 1344.6,1058 1344.9,1057 1345.2,1053 1345.5,1076 1345.8,1068 1346.1,1065 1346.4,1072 1346.7,1053 1347.0,1083 1347.3,1041 1347.6,1060 1347.9,1042 1348.2,1058 1348.5,1071 1348.8,1067 1349.1,1093 1349.4,1069 1349.7,1072 1350.0,1065 1350.3,1051 1350.6,1076 1350.9,1085 1351.2,1049 1351.5,1039 1351.8,1042 1352.1,1062 1352.4,1071 1352.7,1078 1353.0,1039 1353.3,1049 1353.6,1073 1353.9,1078 1354.2,1067 1354.5,1065 1354.8,1080 1355.1,1063 1355.4,1049 1355.7,1090 1356.0,1083 1356.3,1065 1356.6,1067 1356.9,1056 1357.2,1088 1357.5,1072 1357.8,1078 1358.1,1060 1358.4,1048 1358.7,1092 1359.0,1067 1359.3,1075 1359.6,1079 1359.9,1085 1360.2,1066 1360.5,1038 1360.8,1066 1361.1,1051 1361.4,1055 1361.7,1073 1362.0,1063 1362.3,1056 1362.6,1060 1362.9,1069 1363.2,1083 1363.5,1083 1363.8,1048 1364.1,1076 1364.4,1074 1364.7,1080 1365.0,1081 1365.3,1080 1365.6,1085 1365.9,1074 1366.2,1087 1366.5,1096 1366.8,1064 1367.1,1052 1367.4,1063 1367.7,1066 1368.0,1062 1368.3,1054 1368.6,1057 1368.9,1075 1369.2,1078 1369.5,1054 1369.8,1064 1370.1,1047 1370.4,1058 1370.7,1070 1371.0,1063 1371.3,1068 1371.6,1052 1371.9,1068 1372.2,1049 1372.5,1071 1372.8,1071 1373.1,1059 1373.4,1068 1373.7,1074 1374.0,1076 1374.3,1098 1374.6,1091 1374.9,1063 1375.2,1093 1375.5,1070 1375.8,1101 1376.1,1071 1376.4,1058 1376.7,1071 1377.0,1063 1377.3,1081 1377.6,1056 1377.9,1053 1378.2,1026 1378.5,1053 1378.8,1047 1379.1,1046 1379.4,1069 1379.7,1065 1380.0,1055 1380.3,1053 1380.6,1044 1380.9,1042 1381.2,1065 1381.5,1063 1381.8,1046 1382.1,1061 1382.4,1058 1382.7,1063 1383.0,1086 1383.3,1055 1383.6,1083 1383.9,1078 1384.2,1064 1384.5,1075 1384.8,1068 1385.1,1057 1385.4,1035 1385.7,1040 1386.0,1044 1386.3,1052 1386.6,1056 1386.9,1075 1387.2,1058 1387.5,1081 1387.8,1074 1388.1,1073 1388.4,1058 1388.7,1061 1389.0,1070 1389.3,1057 1389.6,1063 1389.9,1039 1390.2,1071 1390.5,1069 1390.8,1058 1391.1,1085 1391.4,1089 1391.7,1074 1392.0,1060 1392.3,1078 1392.6,1076 1392.9,1086 1393.2,1070 1393.5,1084 1393.8,1087 1394.1,1085 1394.4,1084 1394.7,1079 1395.0,1072 1395.3,1063 1395.6,1048 1395.9,1048 1396.2,1064 1396.5,1066 1396.8,1089 1397.1,1078 1397.4,1059 1397.7,1062 1398.0,1058 1398.3,1055 1398.6,1091 1398.9,1053 1399.2,1068 1399.5,1057 1399.8,1044 1400.1,1056 1400.4,1035 1400.7,1053 1401.0,1066 1401.3,1040 1401.6,1068 1401.9,1043 1402.2,1046 1402.5,1052 1402.8,1070 1403.1,1043 1403.4,1063 1403.7,1045 1404.0,1071 1404.3,1091 1404.6,1039 1404.9,1061 1405.2,1057 1405.5,1060 1405.8,1045 1406.1,1069 1406.4,1058 1406.7,1062 1407.0,1075 1407.3,1065 1407.6,1061 1407.9,1094 1408.2,1071 1408.5,1065 1408.8,1067 1409.1,1067 1409.4,1064 1409.7,1073 1410.0,1053 1410.3,1082 1410.6,1065 1410.9,1078 1411.2,1058 1411.5,1086 1411.8,1069 1412.1,1063 1412.4,1084 1412.7,1063 1413.0,1073 1413.3,1058 1413.6,1101 1413.9,1063 1414.2,1058 1414.5,1069 1414.8,1080 1415.1,1055 1415.4,1081 1415.7,1062 1416.0,1060 1416.3,1056 1416.6,1088 1416.9,1052 1417.2,1059 1417.5,1060 1417.8,1067 1418.1,1072 1418.4,1059 1418.7,1057 1419.0,1034 1419.3,1080 1419.6,1067 1419.9,1074 1420.2,1065 1420.5,1035 1420.8,1066 1421.1,1073 1421.4,1031 1421.7,1065 1422.0,1040 1422.3,1043 1422.6,1033 1422.9,1038 1423.2,1052 1423.5,1059 1423.8,1060 1424.1,1063 1424.4,1051 1424.7,1064 1425.0,1067 1425.3,1072 1425.6,1066 1425.9,1080 1426.2,1059 1426.5,1029 1426.8,1068 1427.1,1065 1427.4,1070 1427.7,1043 1428.0,1070 1428.3,1062 1428.6,1043 1428.9,1041 1429.2,1071 1429.5,1088 1429.8,1070 1430.1,1050 1430.4,1068 1430.7,1052 1431.0,1062 1431.3,1072 1431.6,1066 1431.9,1087 1432.2,1050 1432.5,1075 1432.8,1089 1433.1,1077 1433.4,1089 1433.7,1071 1434.0,1086 1434.3,1060 1434.6,1075 1434.9,1071 1435.2,1081 1435.5,1063 1435.8,1070 1436.1,1023 1436.4,1059 1436.7,1072 1437.0,1078 1437.3,1066 1437.6,1059 1437.9,1083 1438.2,1056 1438.5,1053 1438.8,1059 1439.1,1055 1439.4,1042 1439.7,1035 1440.0,1044 1440.3,1064 1440.6,1070 1440.9,1070 1441.2,1058 1441.5,1060 1441.8,1080 1442.1,1059 1442.4,1063 1442.7,1089 1443.0,1071 1443.3,1062 1443.6,1059 1443.9,1084 1444.2,1066 1444.5,1067 1444.8,1066 1445.1,1036 1445.4,1049 1445.7,1063 1446.0,1058 1446.3,1063 1446.6,1045 1446.9,1045 1447.2,1062 1447.5,1078 1447.8,1042 1448.1,1055 1448.4,1043 1448.7,1034 1449.0,1055 1449.3,1053 1449.6,1023 1449.9,1049 1450.2,1049 1450.5,1038 1450.8,1048 1451.1,1083 1451.4,1030 1451.7,1042 1452.0,1075 1452.3,1065 1452.6,1069 1452.9,1064 1453.2,1064 1453.5,1055 1453.8,1079 1454.1,1037 1454.4,1067 1454.7,1034 1455.0,1031 1455.3,1058 1455.6,1082 1455.9,1067 1456.2,1058 1456.5,1082 1456.8,1056 1457.1,1046 1457.4,1064 1457.7,1035 1458.0,1083 1458.3,1057 1458.6,1049 1458.9,1042 1459.2,1060 1459.5,1072 1459.8,1037 1460.1,1048 1460.4,1048 1460.7,1032 1461.0,1060 1461.3,1048 1461.6,1036 1461.9,1054 1462.2,1031 1462.5,1048 1462.8,1047 1463.1,1033 1463.4,1039 1463.7,1052 1464.0,1026 1464.3,1054 1464.6,1062 1464.9,1062 1465.2,1063 1465.5,1047 1465.8,1065 1466.1,1069 1466.4,1081 1466.7,1076 1467.0,1088 1467.3,1075 1467.6,1078 1467.9,1083 1468.2,1073 1468.5,1091 1468.8,1048 1469.1,1052 1469.4,1084 1469.7,1046 1470.0,1058 1470.3,1058 1470.6,1071 1470.9,1055 1471.2,1055 1471.5,1096 1471.8,1063 1472.1,1068 1472.4,1078 1472.7,1071 1473.0,1062 1473.3,1055 1473.6,1062 1473.9,1076 1474.2,1075 1474.5,1082 1474.8,1083 1475.1,1103 1475.4,1092 1475.7,1075 1476.0,1077 1476.3,1076 1476.6,1072 1476.9,1074 1477.2,1074 1477.5,1063 1477.8,1056 1478.1,1059 1478.4,1075 1478.7,1082 1479.0,1069 1479.3,1063 1479.6,1073 1479.9,1062 1480.2,1066 1480.5,1077 1480.8,1039 1481.1,1049 1481.4,1093 1481.7,1062 1482.0,1055 1482.3,1050 1482.6,1060 1482.9,1051 1483.2,1059 1483.5,1062 1483.8,1084 1484.1,1062 1484.4,1078 1484.7,1059 1485.0,1110 1485.3,1055 1485.6,1069 1485.9,1073 1486.2,1070 1486.5,1083 1486.8,1082 1487.1,1075 1487.4,1097 1487.7,1065 1488.0,1071 1488.3,1070 1488.6,1074 1488.9,1078 1489.2,1073 1489.5,1068 1489.8,1067 1490.1,1071 1490.4,1064 1490.7,1068 1491.0,1061 1491.3,1047 1491.6,1085 1491.9,1065 1492.2,1090 1492.5,1065 1492.8,1082 1493.1,1061 1493.4,1093 1493.7,1065 1494.0,1055 1494.3,1068 1494.6,1060 1494.9,1110 1495.2,1055 1495.5,1080 1495.8,1036 1496.1,1077 1496.4,1047 1496.7,1058 1497.0,1047 1497.3,1067 1497.6,1048 1497.9,1059 1498.2,1063 1498.5,1064 1498.8,1052 1499.1,1073 1499.4,1073 1499.7,1046 1500.0,1061 1500.3,1069 1500.6,1085 1500.9,1047 1501.2,1067 1501.5,1059 1501.8,1045 1502.1,1058 1502.4,1037 1502.7,1052 1503.0,1086 1503.3,1068 1503.6,1075 1503.9,1065 1504.2,1056 1504.5,1047 1504.8,1037 1505.1,1047 1505.4,1094 1505.7,1059 1506.0,1071 1506.3,1085 1506.6,1054 1506.9,1077 1507.2,1056 1507.5,1070 1507.8,1053 1508.1,1095 1508.4,1075 1508.7,1089 1509.0,1055 1509.3,1072 1509.6,1054 1509.9,1103 1510.2,1059 1510.5,1068 1510.8,1075 1511.1,1056 1511.4,1072 1511.7,1059 1512.0,1063 1512.3,1050 1512.6,1071 1512.9,1079 1513.2,1040 1513.5,1061 1513.8,1055 1514.1,1063 1514.4,1072 1514.7,1059 1515.0,1061 1515.3,1063 1515.6,1062 1515.9,1072 1516.2,1049 1516.5,1064 1516.8,1071 1517.1,1083 1517.4,1093 1517.7,1073 1518.0,1072 1518.3,1056 1518.6,1060 1518.9,1079 1519.2,1074 1519.5,1085 1519.8,1045 1520.1,1071 1520.4,1082 1520.7,1077 1521.0,1075 1521.3,1068 1521.6,1075 1521.9,1072 1522.2,1071 1522.5,1079 1522.8,1086 1523.1,1074 1523.4,1060 1523.7,1092 1524.0,1061 1524.3,1071 1524.6,1074 1524.9,1067 1525.2,1049 1525.5,1058 1525.8,1045 1526.1,1085 1526.4,1052 1526.7,1087 1527.0,1073 1527.3,1073 1527.6,1063 1527.9,1048 1528.2,1056 1528.5,1058 1528.8,1090 1529.1,1065 1529.4,1045 1529.7,1057 1530.0,1081 1530.3,1065 1530.6,1066 1530.9,1056 1531.2,1045 1531.5,1086 1531.8,1081 1532.1,1045 1532.4,1066 1532.7,1064 1533.0,1089 1533.3,1071 1533.6,1056 1533.9,1099 1534.2,1078 1534.5,1082 1534.8,1082 1535.1,1084 1535.4,1061 1535.7,1049 1536.0,1081 1536.3,1087 1536.6,1079 1536.9,1098 1537.2,1071 1537.5,1053 1537.8,1091 1538.1,1085 1538.4,1074 1538.7,1041 1539.0,1095 1539.3,1064 1539.6,1083 1539.9,1063 1540.2,1097 1540.5,1077 1540.8,1058 1541.1,1042 1541.4,1081 1541.7,1047 1542.0,1067 1542.3,1077 1542.6,1046 1542.9,1074 1543.2,1064 1543.5,1051 1543.8,1057 1544.1,1065 1544.4,1051 1544.7,1068 1545.0,1054 1545.3,1059 1545.6,1067 1545.9,1074 1546.2,1065 1546.5,1072 1546.8,1099 1547.1,1075 1547.4,1045 1547.7,1091 1548.0,1073 1548.3,1086 1548.6,1074 1548.9,1077 1549.2,1090 1549.5,1078 1549.8,1061 1550.1,1088 1550.4,1058 1550.7,1080 1551.0,1076 1551.3,1064 1551.6,1064 1551.9,1044 1552.2,1053 1552.5,1104 1552.8,1032 1553.1,1073 1553.4,1045 1553.7,1052 1554.0,1030 1554.3,1041 1554.6,1054 1554.9,1064 1555.2,1072 1555.5,1075 1555.8,1055 1556.1,1044 1556.4,1071 1556.7,1058 1557.0,1039 1557.3,1082 1557.6,1070 1557.9,1074 1558.2,1057 1558.5,1047 1558.8,1067 1559.1,1052 1559.4,1079 1559.7,1053 1560.0,1053 1560.3,1076 1560.6,1077 1560.9,1065 1561.2,1075 1561.5,1066 1561.8,1052 1562.1,1078 1562.4,1046 1562.7,1062 1563.0,1059 1563.3,1056 1563.6,1054 1563.9,1066 1564.2,1061 1564.5,1066 1564.8,1064 1565.1,1061 1565.4,1067 1565.7,1081 1566.0,1073 1566.3,1061 1566.6,1070 1566.9,1059 1567.2,1070 1567.5,1077 1567.8,1069 1568.1,1071 1568.4,1087 1568.7,1065 1569.0,1075 1569.3,1058 1569.6,1088 1569.9,1065 1570.2,1067 1570.5,1054 1570.8,1075 1571.1,1077 1571.4,1083 1571.7,1057 1572.0,1072 1572.3,1039 1572.6,1045 1572.9,1081 1573.2,1081 1573.5,1065 1573.8,1067 1574.1,1098 1574.4,1076 1574.7,1082 1575.0,1076 1575.3,1068 1575.6,1052 1575.9,1075 1576.2,1070 1576.5,1071 1576.8,1077 1577.1,1070 1577.4,1091 1577.7,1055 1578.0,1079 1578.3,1059 1578.6,1068" fill="none" stroke="#36438a" stroke-width="3.0" stroke-linejoin="miter" stroke-miterlimit="2"/></g><path d="M1164,35H1592V311.7H1164Z M1168.3,39.8V307.1H1588.9V39.8Z" fill="#11130e" fill-rule="evenodd"/><rect x="1168.3" y="39.8" width="420.6" height="3.2" fill="url(#sh)"/><rect x="1168.3" y="43" width="2.7" height="264.1" fill="#cbcbc8"/><rect x="1175" y="86.5" width="171" height="3" fill="#e6482b"/><rect x="1175" y="173" width="171" height="3" fill="#7ab851"/><rect x="1175" y="260" width="171" height="3" fill="#36438a"/><text transform="translate(1363.20,111.86) scale(1.0114,1)" font-size="74.26" font-family="Liberation Serif, serif" font-weight="bold" fill="#e6482b" >480nm</text><text transform="translate(1361.98,199.06) scale(1.0167,1)" font-size="74.26" font-family="Liberation Serif, serif" font-weight="bold" fill="#7ab851" >520nm</text><text transform="translate(1362.49,285.86) scale(1.0204,1)" font-size="73.81" font-family="Liberation Serif, serif" font-weight="bold" fill="#36438a" >800nm</text><text transform="translate(39.13,392.03) scale(1.0281,1)" font-size="57.49" font-family="Liberation Serif, serif" font-weight="bold" fill="#11130e" >0.02</text><text transform="translate(39.00,1083.03) scale(1.0416,1)" font-size="57.49" font-family="Liberation Serif, serif" font-weight="bold" fill="#11130e" >0.00</text><text transform="translate(207.09,1164.83) scale(1.0507,1)" font-size="57.33" font-family="Liberation Serif, serif" font-weight="bold" fill="#11130e" >0</text><text transform="translate(618.04,1164.82) scale(1.0753,1)" font-size="57.62" font-family="Liberation Serif, serif" font-weight="bold" fill="#11130e" >1000</text><text transform="translate(1076.35,1164.82) scale(1.0629,1)" font-size="57.62" font-family="Liberation Serif, serif" font-weight="bold" fill="#11130e" >2000</text><text transform="translate(1534.85,1164.82) scale(1.0656,1)" font-size="57.62" font-family="Liberation Serif, serif" font-weight="bold" fill="#11130e" >3000</text><text transform="translate(765.91,1230.60) scale(0.9921,1)" font-size="60.15" font-family="Liberation Serif, serif" font-weight="bold" fill="#11130e" >Time (ns)</text><text transform="translate(66.22,675.95) rotate(-90) scale(0.9777,1)" font-size="58.29" font-family="Liberation Serif, serif" font-weight="bold" fill="#11130e">Delta OD</text></svg></body></html>
